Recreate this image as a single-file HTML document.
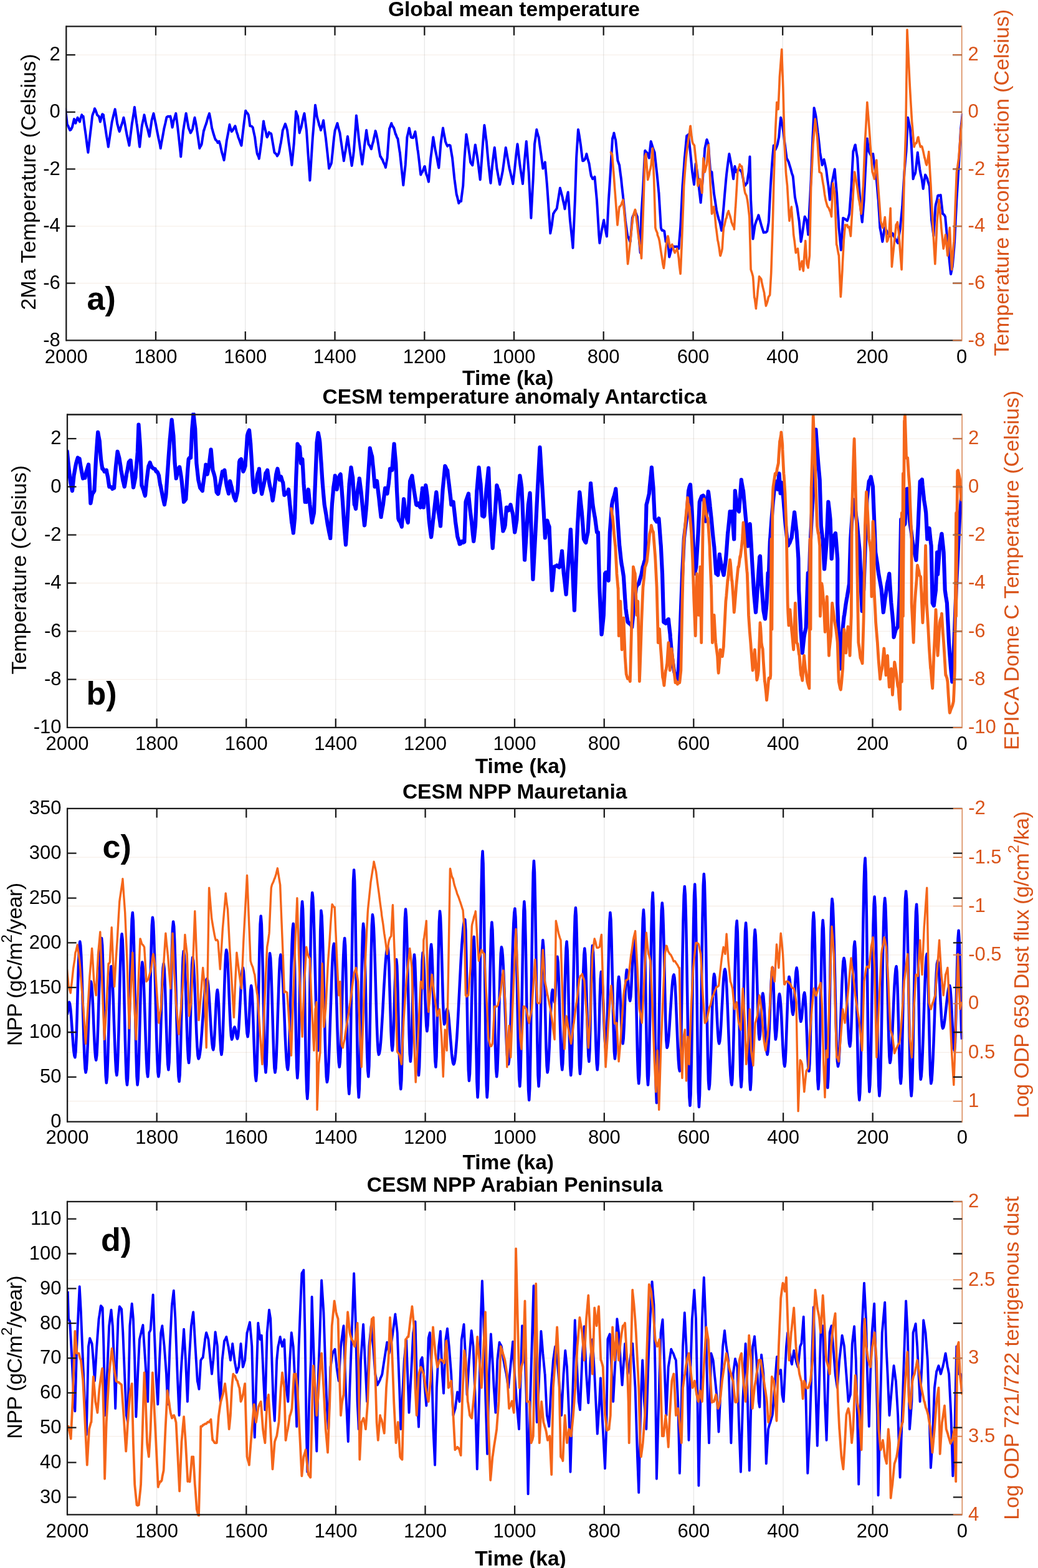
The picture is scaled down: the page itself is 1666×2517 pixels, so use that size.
<!DOCTYPE html><html><head><meta charset="utf-8"><title>CESM figure</title>
<style>html,body{margin:0;padding:0;background:#fff;}svg{display:block;}text{font-family:'Liberation Sans', Arial, Helvetica, sans-serif;}</style></head><body>
<svg xmlns="http://www.w3.org/2000/svg" width="1666" height="2517" viewBox="0 0 1666 2517">
<rect width="1666" height="2517" fill="#fff"/>
<g><line x1="250.0" y1="42.3" x2="250.0" y2="546.4" stroke="#262626" stroke-opacity="0.11" stroke-width="1.3"/><line x1="393.8" y1="42.3" x2="393.8" y2="546.4" stroke="#262626" stroke-opacity="0.11" stroke-width="1.3"/><line x1="537.5" y1="42.3" x2="537.5" y2="546.4" stroke="#262626" stroke-opacity="0.11" stroke-width="1.3"/><line x1="681.3" y1="42.3" x2="681.3" y2="546.4" stroke="#262626" stroke-opacity="0.11" stroke-width="1.3"/><line x1="825.0" y1="42.3" x2="825.0" y2="546.4" stroke="#262626" stroke-opacity="0.11" stroke-width="1.3"/><line x1="968.7" y1="42.3" x2="968.7" y2="546.4" stroke="#262626" stroke-opacity="0.11" stroke-width="1.3"/><line x1="1112.5" y1="42.3" x2="1112.5" y2="546.4" stroke="#262626" stroke-opacity="0.11" stroke-width="1.3"/><line x1="1256.2" y1="42.3" x2="1256.2" y2="546.4" stroke="#262626" stroke-opacity="0.11" stroke-width="1.3"/><line x1="1400.0" y1="42.3" x2="1400.0" y2="546.4" stroke="#262626" stroke-opacity="0.11" stroke-width="1.3"/><line x1="106.3" y1="454.7" x2="1543.7" y2="454.7" stroke="#C89870" stroke-opacity="0.16" stroke-width="1.3"/><line x1="106.3" y1="363.1" x2="1543.7" y2="363.1" stroke="#C89870" stroke-opacity="0.16" stroke-width="1.3"/><line x1="106.3" y1="271.4" x2="1543.7" y2="271.4" stroke="#C89870" stroke-opacity="0.16" stroke-width="1.3"/><line x1="106.3" y1="179.8" x2="1543.7" y2="179.8" stroke="#C89870" stroke-opacity="0.16" stroke-width="1.3"/><line x1="106.3" y1="88.1" x2="1543.7" y2="88.1" stroke="#C89870" stroke-opacity="0.16" stroke-width="1.3"/></g>
<g clip-path="url(#clipa)">
<polyline fill="none" stroke="#0000FF" stroke-width="4.0" stroke-linejoin="round" points="104.9,173.2 104.9,173.2 107.1,192.9 107.8,200.0 109.3,201.9 111.5,207.2 112.3,209.0 113.7,208.3 115.7,204.5 115.9,204.0 118.1,194.7 119.0,191.1 120.3,194.9 121.3,197.8 122.5,193.9 124.6,188.8 124.7,189.5 126.9,193.5 128.0,195.5 129.1,190.8 131.3,184.4 131.3,185.3 133.5,187.1 133.6,186.6 135.7,202.8 137.9,218.1 140.1,236.0 141.4,244.8 142.3,236.7 144.5,217.5 146.7,199.4 148.1,186.6 148.9,183.4 151.1,177.9 151.9,174.3 153.3,176.8 155.5,182.9 155.9,184.4 157.7,186.2 158.6,186.6 159.9,191.3 160.9,195.5 162.1,190.7 163.8,184.4 164.3,183.3 166.0,184.4 166.5,188.8 168.7,202.9 170.9,217.6 173.1,230.4 173.8,235.8 175.3,225.8 177.5,210.6 179.4,197.8 179.7,195.6 181.9,186.3 184.1,177.6 184.6,175.4 186.3,185.4 188.4,200.0 188.5,199.3 190.7,208.3 191.7,211.2 192.9,207.8 195.1,200.0 195.1,200.9 197.3,193.5 198.4,188.8 199.5,193.7 201.7,205.5 201.8,206.7 203.9,217.8 206.1,227.6 207.4,233.6 208.3,226.3 210.5,209.4 211.9,197.8 212.7,193.4 214.9,179.7 215.9,172.1 217.1,181.2 219.3,197.5 219.7,200.0 221.5,213.2 223.7,232.4 224.2,235.8 225.9,219.2 227.5,204.5 228.1,200.5 230.3,190.6 231.5,184.4 232.5,189.0 234.2,197.8 234.7,200.0 236.9,207.0 239.1,216.2 239.8,219.0 241.3,208.7 243.2,195.5 243.5,193.1 245.7,185.0 246.5,182.1 247.9,189.2 250.1,199.2 251.0,204.5 252.3,211.1 254.5,222.4 256.7,232.0 257.7,238.1 258.9,230.6 261.1,219.2 263.3,206.7 263.3,206.5 265.5,197.4 267.3,188.8 267.7,188.0 269.9,186.7 272.1,187.3 273.4,186.6 274.3,190.4 276.5,204.1 276.7,204.5 278.7,193.9 279.0,193.3 280.9,186.8 282.3,182.1 283.1,188.2 285.3,205.0 285.7,209.0 287.5,225.1 289.7,245.9 290.2,251.5 291.9,232.8 294.1,209.8 294.2,209.0 296.3,195.7 298.5,182.6 298.7,182.1 300.7,194.4 302.5,204.5 302.9,205.9 305.1,211.2 305.8,213.4 307.3,210.9 309.2,206.7 309.5,204.4 311.7,192.5 312.5,188.8 313.9,195.4 315.9,206.7 316.1,208.7 318.3,223.9 320.4,238.1 320.5,237.3 322.7,233.8 323.7,231.3 324.9,223.1 327.1,209.0 327.1,210.1 329.3,202.9 330.4,200.0 331.5,196.7 333.7,188.5 335.9,182.5 336.0,182.1 338.1,192.9 340.3,206.7 340.5,206.7 342.5,214.2 344.7,221.2 346.1,224.6 346.9,224.9 349.1,227.9 349.4,229.1 351.3,227.7 351.7,226.9 353.5,232.7 355.7,243.1 357.9,250.7 359.5,257.1 360.1,253.6 362.3,237.8 364.0,224.6 364.5,222.4 366.7,210.7 368.5,200.0 368.9,202.3 371.1,209.3 371.8,211.2 373.3,209.5 375.5,205.5 377.4,202.3 377.7,202.9 379.9,211.8 381.9,217.9 382.1,219.6 384.3,225.0 386.5,231.4 387.5,233.6 388.7,222.2 390.8,204.5 390.9,203.5 393.1,186.2 394.2,177.7 395.3,179.8 397.5,182.1 398.7,184.4 399.7,190.2 401.3,202.3 401.9,202.1 404.1,202.8 405.7,204.5 406.3,207.3 408.5,217.6 409.1,220.2 410.7,233.3 412.4,244.8 412.9,247.1 415.1,251.9 415.8,254.8 417.3,244.5 419.1,231.3 419.5,228.5 421.7,206.1 423.0,194.4 423.9,200.1 425.9,209.0 426.1,209.3 428.3,219.3 428.8,220.2 430.5,216.8 431.9,212.3 432.7,213.9 434.9,214.3 435.5,215.7 437.1,225.3 439.3,238.1 440.4,244.8 441.5,245.8 443.7,247.8 444.9,250.4 445.9,248.8 447.1,247.0 448.1,243.5 450.3,231.1 450.5,231.3 452.5,218.8 453.8,209.0 454.7,207.1 456.9,201.2 457.9,198.9 459.1,202.3 461.0,209.0 461.3,211.2 463.5,228.6 463.9,231.3 465.7,243.8 467.9,261.0 468.4,264.9 470.1,247.9 471.7,231.3 472.3,221.9 474.5,188.2 475.1,178.8 476.7,183.8 478.0,186.6 478.9,196.5 480.7,213.4 481.1,211.4 483.3,204.7 483.4,204.5 485.5,194.3 487.7,184.7 488.5,182.1 489.9,192.7 491.9,209.0 492.1,211.4 494.3,244.2 496.5,276.0 497.4,289.5 498.7,270.1 500.9,235.2 501.9,220.2 503.1,206.0 505.3,178.2 506.0,168.7 507.5,177.9 508.6,186.6 509.7,190.7 511.9,198.6 512.0,200.0 514.1,205.6 514.9,209.0 516.3,204.4 518.5,196.4 519.1,193.3 520.7,205.9 522.9,221.8 523.2,224.6 525.1,241.9 527.3,262.2 528.1,270.5 529.5,267.5 531.7,262.4 532.1,260.4 533.9,243.3 535.0,231.3 536.1,221.0 537.7,209.0 538.3,207.6 540.5,200.8 541.5,197.8 542.7,203.6 544.9,211.2 545.5,213.4 547.1,225.1 549.3,239.7 551.5,254.9 551.8,258.2 553.7,246.1 554.5,242.5 555.9,232.3 557.9,219.0 558.1,219.8 560.3,236.0 561.2,242.5 562.5,251.0 564.6,266.0 564.7,265.6 566.9,250.8 567.9,242.5 569.1,226.3 571.3,195.0 571.9,185.5 573.5,199.5 575.7,220.2 575.7,220.8 577.9,238.1 580.1,254.0 581.3,263.8 582.3,256.1 584.5,238.2 584.7,235.8 586.7,220.0 588.1,209.0 588.9,215.4 591.1,228.9 591.4,231.3 593.3,233.9 595.5,238.5 595.9,239.2 597.7,231.6 599.2,226.9 599.9,222.7 602.1,213.1 602.6,210.1 604.3,216.3 606.0,224.6 606.5,227.7 608.7,242.0 610.4,251.5 610.9,251.2 613.1,255.5 613.8,256.0 615.3,260.4 617.5,264.5 618.9,268.9 619.7,264.5 621.6,253.7 621.9,248.8 624.1,218.1 625.0,206.7 626.3,203.4 628.3,197.8 628.5,199.3 630.7,203.7 631.7,204.5 632.9,208.0 635.0,215.7 635.1,215.0 637.3,221.2 638.4,222.4 639.5,230.0 641.7,244.8 641.7,243.7 643.9,264.8 646.1,285.3 647.3,297.3 648.3,286.7 650.5,266.8 650.7,264.9 652.7,232.6 653.4,220.2 654.9,214.0 656.7,205.6 657.1,207.1 659.3,218.0 659.6,220.2 661.5,221.1 663.0,221.3 663.7,219.5 665.9,213.3 666.4,211.2 668.1,222.6 670.3,240.1 670.8,242.5 672.5,256.4 674.7,276.0 675.3,280.6 676.9,277.0 677.9,276.1 679.1,273.3 681.3,267.2 681.7,267.1 683.5,276.6 684.6,280.6 685.7,283.1 687.9,291.8 688.0,291.7 690.1,266.6 691.3,253.7 692.3,245.9 694.5,227.3 695.3,220.2 696.7,228.5 698.9,242.3 699.1,242.5 701.1,252.4 703.3,265.1 704.3,269.4 705.5,255.7 707.4,231.3 707.7,228.3 709.9,213.1 711.0,205.6 712.1,212.5 714.3,223.2 714.8,226.9 716.5,231.3 718.2,234.7 718.7,233.5 720.9,232.8 722.6,233.6 723.1,236.4 725.3,249.7 726.0,253.7 727.5,268.3 729.4,287.3 729.7,289.2 731.9,305.7 732.7,311.9 734.1,316.9 736.1,325.3 736.3,326.2 738.5,322.8 740.1,323.1 740.7,317.3 742.9,300.4 743.2,298.5 745.1,260.6 745.5,253.7 747.3,231.0 748.4,215.7 749.5,222.0 751.7,235.8 751.7,236.2 753.9,250.7 755.1,260.4 756.1,262.3 758.3,265.4 758.4,264.9 760.5,248.8 762.7,232.9 762.9,232.5 764.9,245.0 766.3,253.7 767.1,259.2 769.3,277.6 770.7,288.4 771.5,278.3 773.7,249.1 774.1,242.5 775.9,219.6 777.4,201.1 778.1,205.6 780.3,223.9 780.8,226.9 782.5,246.6 784.2,264.9 784.7,269.1 786.9,289.3 787.5,294.0 789.1,276.6 790.2,264.9 791.3,255.6 793.5,238.4 793.8,236.9 795.7,253.7 797.6,271.6 797.9,272.8 800.1,284.9 802.1,296.2 802.3,295.4 804.5,286.1 806.5,276.1 806.7,275.6 808.9,259.2 811.1,242.4 811.7,236.9 813.3,245.6 815.5,258.2 816.6,264.9 817.7,270.6 819.9,279.8 822.1,289.3 823.3,295.1 824.3,286.9 826.5,267.3 826.7,264.9 828.7,246.0 830.5,231.3 830.9,233.6 833.1,253.5 834.5,264.9 835.3,270.7 837.5,285.2 839.0,295.1 839.7,285.6 841.9,257.9 842.3,253.7 844.1,234.3 844.8,226.9 846.3,245.6 848.5,275.1 848.6,276.1 850.7,316.8 852.4,349.9 852.9,340.0 855.1,298.0 855.7,287.3 857.3,248.6 858.0,231.3 859.5,221.4 861.3,207.9 861.7,210.3 863.9,218.1 864.7,220.2 866.1,231.2 868.3,246.6 869.2,253.7 870.5,263.7 871.4,270.5 872.7,266.6 874.8,260.4 874.9,262.0 877.1,286.6 878.1,298.5 879.3,315.4 880.4,332.0 881.5,348.8 883.3,374.5 883.7,372.2 885.9,360.3 886.0,358.9 888.1,342.8 888.2,343.2 890.3,339.3 892.5,336.6 893.8,334.3 894.7,328.1 896.9,314.4 898.9,301.8 899.1,302.8 901.3,311.0 902.7,316.4 903.5,320.8 905.7,330.3 906.5,335.4 907.9,327.2 910.1,315.7 911.7,308.5 912.3,316.1 914.5,348.2 915.0,354.4 916.7,370.1 918.9,391.4 919.5,398.0 921.1,362.5 922.9,320.8 923.3,309.4 925.1,253.7 925.5,246.5 927.7,212.5 928.0,207.9 929.9,218.7 931.8,231.3 932.1,233.5 934.3,252.0 935.2,258.2 936.5,258.0 938.5,256.0 938.7,255.9 940.9,249.7 941.4,247.0 943.1,254.2 945.3,261.6 945.6,262.7 947.5,275.2 948.9,282.8 949.7,283.8 951.2,287.3 951.9,285.8 954.1,284.7 954.5,283.9 956.3,303.7 957.9,320.8 958.5,330.1 960.7,366.9 961.3,376.8 962.4,390.2 962.9,386.6 965.1,374.0 965.7,370.0 967.3,362.4 969.1,353.3 969.5,356.4 971.3,365.6 971.7,368.6 973.9,379.5 974.0,379.0 976.1,336.6 976.9,320.8 978.3,300.0 979.8,276.1 980.5,263.4 982.7,228.0 983.0,222.4 984.9,216.4 985.4,213.4 987.1,221.3 988.1,224.6 989.3,236.3 991.5,258.2 991.5,257.7 993.7,264.0 994.1,264.9 995.9,279.4 997.0,287.3 998.1,298.4 1000.3,318.0 1000.4,318.6 1002.5,340.8 1003.8,354.4 1004.7,361.3 1006.9,376.7 1007.1,379.0 1009.1,381.8 1011.3,388.2 1011.6,387.9 1013.5,366.0 1014.9,349.9 1015.7,347.4 1017.9,343.0 1019.4,338.7 1020.1,340.8 1022.3,346.4 1022.8,347.7 1024.5,368.3 1026.1,387.9 1026.7,394.9 1027.7,405.8 1028.9,363.7 1029.5,343.2 1031.1,318.5 1031.7,309.6 1033.3,278.8 1035.1,242.5 1035.5,241.8 1037.7,245.4 1038.4,244.8 1039.9,247.8 1041.8,253.7 1042.1,250.3 1044.3,230.7 1044.7,226.9 1046.5,232.9 1047.4,235.8 1048.7,239.8 1050.7,244.8 1050.9,247.0 1053.1,267.2 1054.1,276.1 1055.3,287.7 1057.4,309.6 1057.5,310.3 1059.7,346.6 1060.8,365.6 1061.9,368.9 1063.0,370.0 1064.1,369.8 1066.3,371.0 1066.4,372.3 1068.5,387.2 1068.6,387.9 1070.7,388.1 1072.0,387.9 1072.9,398.9 1074.2,412.6 1075.1,409.4 1077.3,400.8 1077.6,399.1 1079.5,397.6 1080.9,396.9 1081.7,395.6 1083.9,396.1 1085.4,395.8 1086.1,395.8 1088.3,397.7 1089.4,399.1 1090.5,384.4 1092.1,365.6 1092.7,354.8 1094.9,309.9 1095.5,298.5 1097.1,277.5 1098.8,253.7 1099.3,248.9 1101.5,225.0 1102.2,217.9 1103.7,217.3 1105.1,215.7 1105.9,224.6 1107.8,242.5 1108.1,245.6 1110.3,268.7 1111.1,276.1 1112.5,285.9 1114.0,296.2 1114.7,286.6 1116.7,262.7 1116.9,262.7 1119.0,276.1 1119.1,276.7 1121.3,296.4 1122.3,305.2 1123.5,315.3 1124.6,325.3 1125.7,312.8 1127.9,287.3 1127.9,287.0 1130.1,255.9 1131.3,238.1 1132.3,233.8 1134.2,224.6 1134.5,224.2 1136.7,230.4 1136.9,231.3 1138.9,258.6 1140.2,276.1 1141.1,276.1 1142.5,276.1 1143.3,285.2 1145.5,305.4 1145.8,309.6 1147.7,321.6 1149.9,336.5 1150.3,338.7 1152.1,346.2 1153.6,352.1 1154.3,353.5 1155.9,358.9 1156.5,362.4 1158.1,370.0 1158.7,362.1 1160.9,338.4 1161.5,332.0 1163.1,312.6 1165.3,287.7 1166.0,280.6 1167.5,268.0 1169.7,251.7 1170.4,247.0 1171.9,254.9 1173.8,264.9 1174.1,266.4 1176.3,281.9 1177.1,287.3 1178.5,274.3 1179.4,267.1 1180.7,272.4 1181.6,276.1 1182.9,273.7 1185.1,272.7 1186.1,271.6 1187.3,272.8 1189.5,274.9 1190.6,276.1 1191.7,281.6 1193.9,292.8 1195.0,298.5 1196.1,297.6 1198.3,294.1 1199.1,294.0 1200.5,283.3 1201.7,276.1 1202.7,263.6 1203.5,251.5 1204.9,311.2 1205.1,320.8 1207.1,356.9 1208.5,383.5 1209.3,378.2 1211.5,362.8 1211.8,361.1 1213.7,355.1 1215.9,350.0 1217.4,345.4 1218.1,347.7 1220.3,355.6 1222.5,363.7 1224.7,370.4 1225.6,373.4 1226.9,372.8 1229.1,373.1 1231.2,371.2 1231.3,371.0 1233.5,358.0 1233.9,354.4 1235.7,318.7 1236.8,298.5 1237.9,281.1 1239.0,264.9 1240.1,251.1 1241.7,233.6 1242.3,235.7 1244.5,239.2 1244.6,240.3 1246.7,235.3 1248.0,231.3 1248.9,226.3 1250.2,220.2 1251.1,209.4 1253.1,188.8 1253.3,189.5 1255.5,199.3 1255.8,200.0 1257.7,214.8 1259.1,226.9 1259.9,233.1 1262.1,250.1 1262.5,253.7 1264.3,257.2 1265.9,260.4 1266.5,262.6 1268.7,269.8 1269.2,271.6 1270.9,278.1 1272.6,282.8 1273.1,286.8 1275.3,310.4 1275.9,316.4 1277.5,324.4 1279.3,332.0 1279.7,334.4 1281.9,350.2 1282.6,354.4 1284.1,371.5 1285.5,387.9 1286.3,384.1 1288.2,372.3 1288.5,369.4 1290.7,354.2 1291.6,347.7 1292.9,350.1 1294.9,354.4 1295.1,356.9 1297.2,376.8 1297.3,374.0 1299.4,332.0 1299.5,330.3 1301.7,287.3 1301.7,286.7 1303.9,231.3 1303.9,232.0 1306.1,184.7 1306.6,173.2 1308.3,180.5 1309.5,186.6 1310.5,194.4 1312.7,213.0 1312.8,213.4 1314.9,231.8 1316.2,244.8 1317.1,250.1 1319.3,262.8 1319.6,264.9 1321.5,258.8 1322.5,256.0 1323.7,261.0 1325.9,271.4 1326.3,273.8 1328.1,288.4 1329.6,298.5 1330.3,305.0 1331.9,320.8 1332.5,316.4 1334.7,297.9 1335.2,294.0 1336.9,285.4 1339.1,274.3 1339.7,271.6 1341.3,290.7 1343.0,309.6 1343.5,318.0 1345.7,353.0 1346.4,365.6 1347.9,380.9 1349.8,401.4 1350.1,396.1 1352.3,363.2 1353.1,349.9 1354.5,350.8 1356.5,352.1 1356.7,351.7 1358.9,353.8 1359.8,354.4 1361.1,351.3 1363.2,343.2 1363.3,341.9 1365.5,312.8 1366.5,298.5 1367.7,274.7 1369.4,242.5 1369.9,241.8 1372.1,233.8 1372.8,232.5 1374.3,242.7 1376.2,253.7 1376.5,258.9 1378.7,296.4 1378.8,298.5 1380.9,329.3 1381.1,332.0 1383.1,351.2 1383.8,356.6 1385.3,338.7 1386.7,320.8 1387.5,304.9 1388.9,276.1 1389.7,261.1 1391.8,222.4 1391.9,223.5 1394.1,239.2 1394.5,242.5 1396.3,246.7 1397.9,249.2 1398.5,249.1 1400.7,247.7 1401.2,247.0 1402.9,260.5 1403.4,264.9 1405.1,275.6 1406.8,287.3 1407.3,293.5 1409.5,319.3 1409.7,320.8 1411.7,353.1 1412.4,365.6 1413.9,373.1 1416.1,386.7 1416.4,387.9 1418.3,376.3 1419.8,365.6 1420.5,367.8 1422.7,369.9 1423.6,372.3 1424.9,375.2 1427.1,377.0 1428.1,379.0 1429.3,377.5 1431.5,375.3 1432.5,374.5 1433.7,377.8 1435.9,381.0 1437.0,383.5 1438.1,385.1 1440.3,389.1 1441.0,390.2 1442.5,380.3 1444.7,367.2 1444.8,365.6 1446.9,345.0 1448.2,332.0 1449.1,316.5 1451.3,280.0 1451.5,276.1 1453.5,253.4 1454.5,242.5 1455.7,217.2 1457.1,188.8 1457.9,192.3 1460.1,203.2 1460.5,204.5 1462.3,225.6 1462.7,231.3 1464.5,265.4 1465.6,287.3 1466.7,283.0 1468.9,278.3 1469.4,276.1 1471.1,261.4 1472.8,244.8 1473.3,249.3 1475.5,265.7 1476.2,271.6 1477.7,279.8 1479.5,287.3 1479.9,289.9 1481.7,302.9 1482.1,299.9 1484.3,285.3 1485.1,280.6 1486.5,283.0 1488.5,287.3 1488.7,289.1 1490.9,296.0 1491.8,298.5 1493.1,320.9 1495.2,354.4 1495.3,354.4 1497.5,371.7 1498.5,379.0 1499.7,358.7 1501.4,332.0 1501.9,328.6 1504.1,319.9 1505.2,314.1 1506.3,313.4 1508.5,314.2 1509.7,313.0 1510.7,322.5 1512.9,341.4 1513.1,343.2 1515.1,344.4 1517.1,347.7 1517.3,349.7 1519.5,373.6 1519.8,376.8 1521.7,395.7 1523.1,410.3 1523.9,419.2 1526.0,439.4 1526.1,440.0 1528.3,429.6 1528.7,428.2 1530.5,407.5 1532.1,387.9 1532.7,375.6 1534.9,330.3 1535.4,320.8 1537.1,293.1 1538.8,264.9 1539.3,256.4 1541.5,217.8 1542.1,206.7 1543.7,192.8 1544.8,182.1"/>
<polyline fill="none" stroke="#F5661A" stroke-width="3.6" stroke-linejoin="round" points="980.3,244.8 980.3,244.6 982.5,249.2 982.5,247.7 984.7,276.1 984.7,275.0 986.9,305.1 988.1,320.8 989.1,334.6 991.0,361.1 991.3,358.6 993.5,336.4 994.1,332.0 995.7,330.9 997.7,327.5 997.9,326.0 1000.0,320.8 1000.1,321.9 1002.2,343.2 1002.3,345.2 1004.5,369.3 1004.9,376.8 1006.7,410.0 1007.6,423.7 1008.9,413.9 1010.5,399.1 1011.1,393.8 1012.7,376.8 1013.3,371.3 1015.5,351.0 1016.1,347.7 1017.7,341.5 1019.4,336.5 1019.9,337.8 1022.1,356.1 1022.8,361.1 1024.3,375.3 1026.1,387.9 1026.5,391.8 1028.7,406.0 1029.5,414.8 1030.9,378.5 1032.2,343.2 1033.1,316.5 1035.1,253.7 1035.3,251.0 1036.6,247.0 1037.5,259.0 1039.6,287.3 1039.7,288.5 1041.9,280.8 1042.5,276.1 1044.1,270.2 1045.1,264.9 1046.3,251.7 1047.4,238.1 1048.5,261.6 1049.6,287.3 1050.7,323.7 1051.9,365.6 1052.9,369.3 1055.1,374.2 1055.2,376.8 1057.3,382.1 1058.6,387.9 1059.5,394.2 1061.7,409.4 1061.9,410.3 1063.9,424.2 1065.3,430.4 1066.1,424.7 1068.3,402.9 1068.6,399.1 1070.5,385.4 1072.0,379.0 1072.7,381.7 1074.9,395.9 1075.3,396.9 1077.1,395.2 1078.7,392.4 1079.3,394.2 1081.5,402.0 1083.2,405.8 1083.7,402.9 1085.9,402.4 1086.5,399.1 1088.1,405.7 1089.4,414.8 1090.3,425.3 1092.1,439.4 1092.5,432.9 1094.4,387.9 1094.7,379.0 1096.9,322.3 1097.7,298.5 1099.1,279.2 1101.1,253.7 1101.3,251.9 1103.5,233.7 1105.5,220.2 1105.7,221.2 1107.9,202.7 1108.2,202.3 1110.1,220.1 1111.1,226.9 1112.3,230.6 1114.5,233.6 1114.5,233.9 1116.7,255.3 1117.9,264.9 1118.9,280.6 1120.1,298.5 1121.1,293.2 1123.3,287.9 1123.4,287.3 1125.5,302.1 1126.8,309.6 1127.7,287.1 1129.0,253.7 1129.9,260.2 1131.3,276.1 1132.1,273.0 1134.2,264.9 1134.3,265.6 1136.5,240.4 1137.3,232.5 1138.7,264.1 1140.2,298.5 1140.9,310.2 1142.5,343.2 1143.1,342.3 1145.3,332.0 1145.8,332.0 1147.5,346.6 1149.2,365.6 1149.7,367.9 1151.9,385.8 1152.5,387.9 1154.1,397.0 1155.9,410.3 1156.3,410.5 1158.5,402.7 1159.2,399.1 1160.7,374.9 1161.5,365.6 1162.9,360.9 1165.1,351.1 1166.0,349.9 1167.3,343.4 1169.3,338.7 1169.5,340.2 1171.7,346.5 1173.8,354.4 1173.9,356.0 1176.1,361.6 1178.3,365.6 1178.3,368.1 1180.5,332.0 1180.5,334.0 1182.7,296.8 1183.8,276.1 1184.9,271.7 1187.1,265.6 1187.2,263.8 1189.3,266.9 1190.6,267.1 1191.5,273.5 1193.7,296.4 1195.0,305.2 1195.9,309.9 1198.1,314.1 1199.5,320.8 1200.3,326.4 1202.5,345.2 1202.9,349.9 1204.7,417.8 1205.1,432.7 1206.9,438.0 1208.5,443.9 1209.1,451.1 1210.7,477.4 1211.3,479.1 1213.4,495.3 1213.5,493.1 1215.7,473.2 1216.3,466.2 1217.9,451.6 1218.5,443.9 1220.1,445.8 1221.9,448.3 1222.3,451.6 1224.5,461.6 1226.7,470.7 1226.7,471.8 1228.9,487.9 1229.4,490.9 1231.1,486.2 1232.3,481.9 1233.3,477.1 1235.5,473.8 1235.7,473.0 1237.7,438.6 1237.9,432.7 1239.9,371.4 1240.1,365.6 1242.1,285.4 1242.4,276.1 1244.3,218.1 1244.6,209.0 1246.5,170.7 1246.8,164.2 1248.7,173.7 1249.1,175.4 1250.9,135.5 1251.3,124.0 1253.1,100.8 1254.7,79.2 1255.3,98.8 1256.9,141.9 1257.5,164.8 1259.1,231.3 1259.7,242.4 1261.4,276.1 1261.9,282.3 1263.6,298.5 1264.1,307.6 1266.3,344.8 1267.0,354.4 1268.5,342.3 1270.3,332.0 1270.7,338.9 1272.9,364.9 1273.7,376.8 1275.1,386.4 1277.0,403.6 1277.3,405.7 1279.5,401.0 1280.4,399.1 1281.7,411.2 1283.8,432.7 1283.9,430.0 1286.1,423.9 1287.1,419.3 1288.3,429.3 1289.4,434.9 1290.5,416.9 1292.7,387.9 1292.7,386.6 1294.9,421.5 1294.9,423.3 1297.1,429.9 1297.2,428.2 1299.3,411.0 1299.4,410.3 1301.5,307.1 1301.7,298.5 1303.7,259.4 1305.0,231.3 1305.9,220.5 1308.1,196.2 1308.4,191.1 1310.3,208.4 1311.7,220.2 1312.5,233.0 1314.7,268.9 1315.1,276.1 1316.9,277.0 1318.4,278.3 1319.1,283.0 1321.3,296.4 1321.8,298.5 1323.5,311.6 1325.1,320.8 1325.7,323.1 1327.9,330.7 1328.5,332.0 1330.1,333.7 1331.9,338.7 1332.3,338.3 1334.5,347.7 1334.5,345.3 1336.7,297.2 1336.8,294.0 1338.9,306.0 1339.7,309.6 1341.1,347.4 1342.6,392.4 1343.3,394.3 1345.5,406.8 1346.4,410.3 1347.7,440.3 1349.3,476.3 1349.9,469.1 1352.0,432.7 1352.1,428.3 1354.2,387.9 1354.3,385.4 1356.5,361.1 1356.5,361.9 1358.7,361.6 1359.8,361.1 1360.9,364.9 1363.1,364.1 1363.2,365.6 1365.3,378.1 1365.4,379.0 1367.5,342.5 1368.8,320.8 1369.7,304.4 1371.7,276.1 1371.9,277.0 1374.1,289.4 1375.5,298.5 1376.3,303.8 1378.5,320.8 1378.8,320.8 1380.7,332.5 1382.2,343.2 1382.9,335.7 1385.1,302.7 1385.5,298.5 1387.3,253.4 1388.2,231.3 1389.5,208.9 1391.7,168.1 1391.8,164.2 1393.9,190.4 1394.5,197.8 1396.1,219.7 1396.7,231.3 1398.3,251.1 1400.1,276.1 1400.5,277.0 1402.7,284.1 1403.4,287.3 1404.9,272.8 1406.8,257.1 1407.1,264.2 1409.3,296.4 1410.2,309.6 1411.5,326.1 1413.5,354.4 1413.7,355.7 1415.9,363.7 1416.9,365.6 1418.1,360.5 1420.2,349.9 1420.3,348.6 1422.5,375.7 1423.6,387.9 1424.7,386.0 1426.9,376.8 1426.9,375.0 1429.1,338.1 1429.2,334.3 1431.3,422.2 1431.4,428.2 1433.5,406.5 1434.3,399.1 1435.7,385.9 1437.9,364.8 1438.1,361.1 1440.1,357.8 1440.4,356.6 1442.3,372.3 1443.7,387.9 1444.5,399.9 1446.7,427.8 1447.1,432.7 1448.9,379.7 1449.3,365.6 1451.1,292.3 1451.5,276.1 1453.3,225.1 1453.8,209.0 1455.5,84.9 1456.0,47.9 1457.7,83.0 1458.3,97.1 1459.9,130.1 1460.5,141.9 1462.1,169.4 1463.8,197.8 1464.3,202.1 1466.5,229.3 1467.2,235.8 1468.7,230.8 1470.6,229.1 1470.9,229.9 1473.1,220.8 1473.9,220.2 1475.3,227.9 1477.3,235.8 1477.5,234.2 1479.7,235.1 1480.6,238.1 1481.9,243.5 1484.0,253.7 1484.1,252.9 1486.3,262.8 1487.3,264.9 1488.5,259.9 1490.7,244.8 1490.7,243.5 1492.9,280.1 1494.0,298.5 1495.1,321.3 1497.3,363.0 1497.4,365.6 1499.5,401.7 1500.8,423.7 1501.7,406.8 1503.9,358.8 1504.1,354.4 1506.1,331.3 1507.0,320.8 1508.3,334.5 1510.5,360.5 1510.8,365.6 1512.7,383.9 1514.2,399.1 1514.9,395.7 1517.1,379.6 1517.5,376.8 1519.3,393.9 1520.9,410.3 1521.5,402.6 1523.7,371.0 1524.3,365.6 1525.9,398.7 1527.6,432.7 1528.1,426.0 1530.3,395.9 1531.0,387.9 1532.5,352.2 1533.2,332.0 1534.7,294.5 1535.4,276.1 1536.9,267.5 1538.8,253.7 1539.1,249.2 1541.3,221.3 1542.1,209.0 1543.5,198.7 1544.8,186.6"/>
</g>
<clipPath id="clipa"><rect x="105.3" y="39.3" width="1439.4" height="510.1"/></clipPath>
<g><path d="M106.3 42.3H1543.7" stroke="#1a1a1a" stroke-width="2.3" fill="none"/><path d="M106.3 546.4H1543.7" stroke="#1a1a1a" stroke-width="2.3" fill="none"/><path d="M106.3 42.3V546.4" stroke="#1a1a1a" stroke-width="2.3" fill="none" stroke-linecap="square"/><path d="M1543.7 41.3V547.4" stroke="#D98A5A" stroke-width="1.6" fill="none"/><path d="M250.0 42.3v14.5M250.0 546.4v-14.5" stroke="#1a1a1a" stroke-width="2.3"/><path d="M393.8 42.3v14.5M393.8 546.4v-14.5" stroke="#1a1a1a" stroke-width="2.3"/><path d="M537.5 42.3v14.5M537.5 546.4v-14.5" stroke="#1a1a1a" stroke-width="2.3"/><path d="M681.3 42.3v14.5M681.3 546.4v-14.5" stroke="#1a1a1a" stroke-width="2.3"/><path d="M825.0 42.3v14.5M825.0 546.4v-14.5" stroke="#1a1a1a" stroke-width="2.3"/><path d="M968.7 42.3v14.5M968.7 546.4v-14.5" stroke="#1a1a1a" stroke-width="2.3"/><path d="M1112.5 42.3v14.5M1112.5 546.4v-14.5" stroke="#1a1a1a" stroke-width="2.3"/><path d="M1256.2 42.3v14.5M1256.2 546.4v-14.5" stroke="#1a1a1a" stroke-width="2.3"/><path d="M1400.0 42.3v14.5M1400.0 546.4v-14.5" stroke="#1a1a1a" stroke-width="2.3"/><path d="M106.3 454.7h14.5M1543.7 454.7h-14.5" stroke="#1a1a1a" stroke-width="2.3"/><path d="M106.3 363.1h14.5M1543.7 363.1h-14.5" stroke="#1a1a1a" stroke-width="2.3"/><path d="M106.3 271.4h14.5M1543.7 271.4h-14.5" stroke="#1a1a1a" stroke-width="2.3"/><path d="M106.3 179.8h14.5M1543.7 179.8h-14.5" stroke="#1a1a1a" stroke-width="2.3"/><path d="M106.3 88.1h14.5M1543.7 88.1h-14.5" stroke="#1a1a1a" stroke-width="2.3"/><path d="M1543.7 546.4h-14.5" stroke="#DD7A45" stroke-width="1.8"/><path d="M1543.7 454.7h-14.5" stroke="#DD7A45" stroke-width="1.8"/><path d="M1543.7 363.1h-14.5" stroke="#DD7A45" stroke-width="1.8"/><path d="M1543.7 271.4h-14.5" stroke="#DD7A45" stroke-width="1.8"/><path d="M1543.7 179.8h-14.5" stroke="#DD7A45" stroke-width="1.8"/><path d="M1543.7 88.1h-14.5" stroke="#DD7A45" stroke-width="1.8"/></g>
<g font-size="31" fill="#000"><text x="106.3" y="582.8" text-anchor="middle">2000</text><text x="250.0" y="582.8" text-anchor="middle">1800</text><text x="393.8" y="582.8" text-anchor="middle">1600</text><text x="537.5" y="582.8" text-anchor="middle">1400</text><text x="681.3" y="582.8" text-anchor="middle">1200</text><text x="825.0" y="582.8" text-anchor="middle">1000</text><text x="968.7" y="582.8" text-anchor="middle">800</text><text x="1112.5" y="582.8" text-anchor="middle">600</text><text x="1256.2" y="582.8" text-anchor="middle">400</text><text x="1400.0" y="582.8" text-anchor="middle">200</text><text x="1543.7" y="582.8" text-anchor="middle">0</text><text x="96.8" y="555.7" text-anchor="end">-8</text><text x="96.8" y="464.0" text-anchor="end">-6</text><text x="96.8" y="372.4" text-anchor="end">-4</text><text x="96.8" y="280.7" text-anchor="end">-2</text><text x="96.8" y="189.1" text-anchor="end">0</text><text x="96.8" y="97.4" text-anchor="end">2</text></g>
<g font-size="31" fill="#D95319"><text x="1553.6" y="555.7">-8</text><text x="1553.6" y="464.0">-6</text><text x="1553.6" y="372.4">-4</text><text x="1553.6" y="280.7">-2</text><text x="1553.5" y="189.1">0</text><text x="1553.5" y="97.4">2</text></g>
<text x="825.0" y="25.8" text-anchor="middle" font-size="33.5" font-weight="bold" fill="#000">Global mean temperature</text>
<text x="815.3" y="618.0" text-anchor="middle" font-size="33.5" font-weight="bold" fill="#000">Time (ka)</text>
<text transform="translate(56.8 497.8) rotate(-90)" font-size="34" fill="#000" textLength="411.3" lengthAdjust="spacing">2Ma Temperature (Celsius)</text>
<text transform="translate(1618.5 571.6) rotate(-90)" font-size="34" fill="#D95319" textLength="556.8" lengthAdjust="spacing">Temperature reconstruction (Celsius)</text>
<text x="139.5" y="496.5" font-size="52" font-weight="bold" fill="#000">a)</text>
<g><line x1="251.6" y1="665.5" x2="251.6" y2="1167.9" stroke="#262626" stroke-opacity="0.11" stroke-width="1.3"/><line x1="395.2" y1="665.5" x2="395.2" y2="1167.9" stroke="#262626" stroke-opacity="0.11" stroke-width="1.3"/><line x1="538.8" y1="665.5" x2="538.8" y2="1167.9" stroke="#262626" stroke-opacity="0.11" stroke-width="1.3"/><line x1="682.4" y1="665.5" x2="682.4" y2="1167.9" stroke="#262626" stroke-opacity="0.11" stroke-width="1.3"/><line x1="826.0" y1="665.5" x2="826.0" y2="1167.9" stroke="#262626" stroke-opacity="0.11" stroke-width="1.3"/><line x1="969.7" y1="665.5" x2="969.7" y2="1167.9" stroke="#262626" stroke-opacity="0.11" stroke-width="1.3"/><line x1="1113.3" y1="665.5" x2="1113.3" y2="1167.9" stroke="#262626" stroke-opacity="0.11" stroke-width="1.3"/><line x1="1256.9" y1="665.5" x2="1256.9" y2="1167.9" stroke="#262626" stroke-opacity="0.11" stroke-width="1.3"/><line x1="1400.5" y1="665.5" x2="1400.5" y2="1167.9" stroke="#262626" stroke-opacity="0.11" stroke-width="1.3"/><line x1="108.0" y1="1090.6" x2="1544.1" y2="1090.6" stroke="#C89870" stroke-opacity="0.16" stroke-width="1.3"/><line x1="108.0" y1="1013.3" x2="1544.1" y2="1013.3" stroke="#C89870" stroke-opacity="0.16" stroke-width="1.3"/><line x1="108.0" y1="936.0" x2="1544.1" y2="936.0" stroke="#C89870" stroke-opacity="0.16" stroke-width="1.3"/><line x1="108.0" y1="858.7" x2="1544.1" y2="858.7" stroke="#C89870" stroke-opacity="0.16" stroke-width="1.3"/><line x1="108.0" y1="781.4" x2="1544.1" y2="781.4" stroke="#C89870" stroke-opacity="0.16" stroke-width="1.3"/><line x1="108.0" y1="704.1" x2="1544.1" y2="704.1" stroke="#C89870" stroke-opacity="0.16" stroke-width="1.3"/></g>
<g clip-path="url(#clipb)">
<polyline fill="none" stroke="#0000FF" stroke-width="6.2" stroke-linejoin="round" points="107.8,725.9 107.8,724.7 110.0,748.1 110.0,747.5 112.2,767.1 113.3,774.7 114.4,780.0 116.0,787.9 116.6,782.9 118.8,761.4 118.8,762.2 121.0,749.6 122.2,743.6 123.2,740.0 124.8,734.8 125.4,735.7 127.6,736.3 127.7,737.0 129.8,750.4 131.0,756.9 132.0,762.3 133.2,768.0 134.2,765.9 136.4,767.1 136.6,765.8 138.6,756.7 139.4,754.7 140.8,749.8 142.1,745.8 143.0,761.3 143.9,776.9 145.2,803.5 145.4,807.9 147.4,796.7 148.3,792.4 149.6,790.9 151.4,787.9 151.8,779.5 154.0,737.5 154.3,732.6 156.2,705.8 157.2,693.8 158.4,700.8 159.8,708.2 160.6,720.0 162.0,737.0 162.8,742.7 164.3,752.5 165.0,752.1 167.2,756.1 167.6,756.9 169.4,756.0 170.9,754.7 171.6,759.3 173.1,765.8 173.8,771.0 175.3,781.3 176.0,781.2 178.2,781.8 179.8,783.5 180.4,784.8 182.6,782.3 183.1,783.5 184.8,761.8 186.0,748.1 187.0,739.2 188.6,724.8 189.2,727.1 191.3,734.8 191.4,735.2 193.6,749.1 194.2,754.7 195.8,762.4 197.5,772.4 198.0,773.7 199.7,781.3 200.2,779.2 202.4,765.8 203.0,761.4 204.6,754.3 206.4,743.6 206.8,741.8 209.0,739.2 209.7,739.2 211.2,754.3 211.9,761.4 213.4,775.9 214.1,782.4 215.6,775.2 217.4,765.8 217.8,760.0 220.0,736.4 220.8,725.9 222.2,689.5 222.5,681.6 224.4,708.3 225.2,721.5 226.6,758.8 227.4,779.1 228.8,782.6 230.7,787.9 231.0,789.9 232.9,795.7 233.2,794.3 235.4,771.6 235.6,770.2 237.6,753.9 238.5,748.1 239.8,745.2 240.7,742.5 242.0,746.3 244.0,750.3 244.2,750.2 246.4,752.2 247.4,752.5 248.6,752.7 250.8,757.0 251.8,756.9 253.0,758.4 255.1,763.6 255.2,765.1 257.3,779.1 257.4,778.1 259.6,789.4 260.6,794.6 261.8,800.6 264.0,810.1 264.0,809.2 266.2,796.5 266.6,792.4 268.4,765.3 269.5,750.3 270.6,733.4 272.8,703.7 272.8,704.9 275.0,680.0 275.7,673.8 277.2,688.5 278.4,699.3 279.4,719.7 280.6,743.6 281.6,754.2 282.8,768.0 283.8,763.1 286.0,752.9 286.1,752.5 288.2,749.7 288.3,750.3 290.4,762.8 291.7,772.4 292.6,781.7 294.8,803.1 295.0,805.7 297.0,803.1 298.3,801.2 299.2,787.4 300.5,765.8 301.4,752.6 302.7,737.0 303.6,735.4 305.8,733.7 306.1,734.8 308.0,694.5 308.3,688.2 310.2,667.6 310.5,663.9 312.4,681.3 313.2,688.2 314.6,722.8 315.4,743.6 316.8,756.5 318.3,770.2 319.0,773.3 321.2,783.2 321.6,783.5 323.4,785.9 324.9,787.9 325.6,781.0 327.1,770.2 327.8,765.3 330.0,750.0 330.4,745.8 332.2,758.6 332.7,761.4 334.4,753.4 336.0,743.6 336.6,737.6 338.6,721.5 338.8,723.4 341.0,748.7 341.5,754.7 343.2,759.9 344.8,765.8 345.4,770.1 347.6,789.9 347.7,790.2 349.8,793.0 350.4,792.4 352.0,783.0 353.7,774.7 354.2,772.4 356.4,760.4 357.0,756.9 358.6,756.7 360.4,754.7 360.8,758.2 363.0,774.6 363.7,779.1 365.2,785.5 367.0,792.4 367.4,787.6 369.2,772.4 369.6,774.1 371.8,782.3 372.5,785.7 374.0,791.2 375.9,799.0 376.2,799.0 378.1,803.5 378.4,801.5 380.6,792.2 381.4,787.9 382.8,762.8 384.1,741.4 385.0,738.6 386.9,737.0 387.2,737.3 389.4,750.6 390.3,756.9 391.6,754.2 393.6,748.1 393.8,744.4 396.0,713.8 396.9,699.3 398.2,694.7 400.0,690.5 400.4,694.4 402.2,712.6 402.6,719.7 404.4,748.1 404.8,756.8 406.1,779.1 407.0,784.8 407.7,790.2 409.2,788.9 409.9,787.9 411.4,774.9 413.2,761.4 413.6,760.0 415.8,754.2 415.9,752.5 418.0,779.1 418.1,779.1 420.2,792.9 420.3,792.4 422.4,782.3 423.2,779.1 424.6,772.0 426.5,759.1 426.8,759.8 429.0,755.1 429.2,754.7 431.2,768.9 432.1,774.7 433.4,781.0 435.0,787.9 435.6,790.1 437.6,803.5 437.8,802.7 440.0,788.4 440.3,785.7 442.2,770.0 443.2,761.4 444.4,756.1 445.4,752.5 446.6,758.2 448.7,770.2 448.8,769.4 450.9,765.8 451.0,765.1 453.2,772.6 454.2,774.7 455.4,786.3 456.4,794.6 457.6,792.9 459.8,792.4 459.8,791.3 462.0,789.3 463.1,785.7 464.2,798.2 465.3,810.1 466.4,820.4 468.2,838.9 468.6,840.6 470.8,854.4 470.8,855.4 473.0,832.4 473.1,832.3 475.2,768.9 475.3,765.8 477.4,715.8 477.5,712.6 479.6,716.8 480.8,717.0 481.8,727.6 483.0,743.6 484.0,740.1 485.3,737.0 486.2,752.0 487.5,776.9 488.4,788.2 489.7,805.7 490.6,804.3 491.9,805.7 492.8,799.5 494.8,785.7 495.0,786.4 497.2,807.8 497.4,810.1 499.4,828.0 500.8,838.9 501.6,834.1 503.8,824.2 504.1,821.2 506.0,773.6 506.3,765.8 508.2,719.3 508.5,710.4 510.4,696.2 510.7,694.9 512.6,704.5 513.4,710.4 514.8,732.8 515.6,743.6 517.0,765.8 517.8,776.9 519.2,793.4 520.7,810.1 521.4,814.2 523.6,827.0 524.0,830.0 525.8,841.9 527.4,850.0 528.0,853.3 530.2,863.3 530.2,864.0 532.4,818.9 532.9,810.1 534.6,790.5 535.1,783.5 536.8,772.2 537.8,763.6 539.0,773.0 540.6,785.7 541.2,782.5 543.4,769.3 544.0,765.8 545.6,762.6 546.6,761.4 547.8,775.7 549.5,799.0 550.0,805.9 552.2,839.8 552.4,843.3 554.4,867.7 555.0,874.4 556.6,849.9 557.7,832.3 558.8,812.0 560.6,776.9 561.0,773.4 563.2,753.5 563.5,750.3 565.4,762.8 566.1,765.8 567.6,791.3 568.8,810.1 569.8,811.7 571.0,816.8 572.0,807.7 573.9,787.9 574.2,786.1 576.4,771.7 576.8,768.0 578.6,782.1 579.4,787.9 580.8,802.1 582.7,821.2 583.0,824.7 585.0,843.3 585.2,842.8 587.4,820.6 588.3,810.1 589.6,787.7 590.9,765.8 591.8,751.6 593.8,719.3 594.0,721.0 596.2,729.3 597.2,732.6 598.4,745.6 599.4,754.7 600.6,769.6 601.6,781.3 602.8,777.5 604.9,772.4 605.0,772.0 607.2,791.1 608.2,799.0 609.4,810.7 611.6,830.0 611.6,829.3 613.8,815.9 614.9,810.1 616.0,800.7 618.2,783.5 618.2,784.2 620.4,790.3 621.5,792.4 622.6,784.1 623.7,776.9 624.8,766.3 626.0,752.5 627.0,754.2 629.2,753.8 629.3,754.7 631.4,727.6 632.6,712.6 633.6,724.9 635.3,743.6 635.8,755.9 637.0,787.9 638.0,806.4 639.3,832.3 640.2,835.2 642.4,838.2 642.6,838.9 644.6,844.4 644.8,845.6 646.8,818.6 648.1,801.2 649.0,809.2 651.2,826.4 651.4,827.8 653.4,834.1 654.8,838.9 655.6,824.1 657.8,778.1 658.1,772.4 660.0,767.1 661.4,763.6 662.2,770.1 664.4,785.5 664.7,787.9 666.6,799.9 668.1,810.1 668.8,810.7 671.0,808.0 671.4,807.9 673.2,812.4 674.7,814.5 675.4,807.1 677.6,788.0 678.0,783.5 679.8,812.9 679.9,814.5 682.0,791.2 683.3,779.1 684.2,784.8 686.1,799.0 686.4,804.3 688.6,834.8 688.8,836.7 690.8,853.0 692.1,862.2 693.0,855.4 695.2,834.1 695.5,832.3 697.4,815.0 699.6,795.7 700.3,790.2 701.8,803.5 703.9,823.4 704.0,823.3 706.2,837.7 707.0,844.5 708.4,820.9 710.5,787.9 710.6,785.7 712.8,763.7 714.3,748.1 715.0,749.3 717.2,754.5 718.1,754.7 719.4,767.4 720.9,779.1 721.6,785.1 723.8,804.3 724.3,810.1 726.0,807.3 727.6,805.7 728.2,811.5 730.4,830.9 730.9,836.7 732.6,848.8 734.2,861.1 734.8,863.3 737.0,870.1 737.6,873.3 739.2,872.8 741.4,868.9 742.0,869.9 743.6,870.9 745.3,869.9 745.8,856.7 747.5,805.7 748.0,803.7 750.2,797.4 752.0,792.4 752.4,797.6 754.6,819.4 754.8,821.2 756.8,836.3 757.5,843.3 759.0,858.5 760.2,868.8 761.2,860.9 763.0,843.3 763.4,834.0 765.3,787.9 765.6,785.0 767.8,759.1 768.6,750.3 770.0,764.3 771.5,776.9 772.2,790.0 774.1,827.8 774.4,826.4 776.6,829.3 777.4,827.8 778.8,808.1 780.8,783.5 781.0,782.9 783.2,760.5 784.1,751.4 785.4,786.6 786.7,821.2 787.6,833.2 789.8,867.1 790.7,879.9 792.0,862.1 794.1,832.3 794.2,830.4 796.4,794.6 797.4,779.1 798.6,783.6 800.7,787.9 800.8,790.0 803.0,809.7 804.0,821.2 805.2,831.7 807.4,851.1 807.4,852.4 809.6,847.4 810.7,843.3 811.8,829.1 812.9,814.5 814.0,814.6 816.2,819.0 816.2,819.5 818.4,813.3 819.5,810.1 820.6,815.1 822.8,824.4 822.9,823.4 825.0,843.1 826.2,854.4 827.2,848.7 829.4,834.4 829.5,832.3 831.6,794.1 831.7,792.4 833.8,771.1 834.4,763.6 836.0,773.2 837.3,783.5 838.2,802.7 839.5,832.3 840.4,855.2 842.1,898.7 842.6,890.0 844.8,857.9 845.0,854.4 847.0,823.1 847.9,810.1 849.2,801.2 850.6,791.3 851.4,813.4 852.8,854.4 853.6,878.8 855.4,929.8 855.8,922.2 858.0,881.4 858.3,876.6 860.2,839.6 861.6,810.1 862.4,794.6 863.9,765.8 864.6,754.0 866.5,718.2 866.8,722.4 869.0,759.0 869.4,765.8 871.2,795.5 872.7,821.2 873.4,835.9 874.9,863.3 875.6,857.6 877.8,840.9 878.3,835.6 880.0,841.6 881.6,845.6 882.2,861.1 883.8,898.7 884.4,911.1 886.0,947.5 886.6,941.4 888.8,917.0 889.3,909.8 891.0,909.1 893.2,908.5 893.8,907.6 895.4,909.2 897.6,910.8 898.2,909.8 899.8,901.0 902.0,885.4 902.0,884.7 904.2,913.2 904.8,920.9 906.4,933.8 908.6,954.1 908.6,953.9 910.8,922.3 912.6,898.7 913.0,892.9 915.2,859.4 915.9,850.0 917.4,881.3 919.3,920.9 919.6,929.1 921.8,976.1 921.9,979.6 924.0,920.1 924.8,898.7 926.2,862.0 927.0,843.3 928.4,819.7 930.3,790.2 930.6,792.5 932.8,813.3 933.7,821.2 935.0,837.2 937.0,865.5 937.2,865.8 939.4,870.0 940.3,871.0 941.6,863.3 943.6,854.4 943.8,850.0 946.0,812.6 948.1,775.8 948.2,777.9 950.4,799.5 951.4,810.1 952.6,817.8 954.7,830.0 954.8,829.7 957.0,846.4 958.0,854.4 959.2,855.5 959.9,854.4 961.4,913.1 962.2,943.1 963.6,975.9 965.5,1018.4 965.8,1016.6 968.0,996.1 968.8,987.4 970.2,945.2 971.0,920.9 972.4,918.9 973.7,918.7 974.6,921.7 976.6,932.0 976.8,925.2 978.8,854.4 979.0,851.9 981.2,822.3 982.1,810.1 983.4,803.5 985.4,796.8 985.6,797.1 987.8,788.0 988.3,784.6 990.0,810.3 991.4,832.3 992.2,845.2 994.3,876.6 994.4,876.7 996.6,897.5 997.6,905.4 998.8,911.5 1000.9,925.3 1001.0,926.7 1003.2,961.1 1004.3,976.3 1005.4,984.9 1007.6,998.5 1007.6,997.7 1009.8,1000.8 1010.9,1000.7 1012.0,1002.4 1014.2,1005.1 1014.2,1006.6 1016.4,985.2 1017.6,976.3 1018.6,966.7 1020.8,944.8 1020.9,943.1 1023.0,938.6 1025.2,937.3 1025.3,936.4 1027.4,929.1 1028.6,925.3 1029.6,921.6 1031.8,909.4 1032.0,909.8 1034.0,902.2 1035.3,898.7 1036.2,862.0 1037.5,810.1 1038.4,807.2 1040.6,798.0 1041.9,792.4 1042.8,781.8 1045.0,760.2 1045.9,750.3 1047.2,767.7 1048.6,783.5 1049.4,802.3 1050.8,832.3 1051.6,834.1 1053.8,837.4 1054.1,836.7 1056.0,835.4 1057.4,832.3 1058.2,842.0 1060.4,872.0 1060.8,876.6 1062.6,913.2 1063.0,920.9 1064.8,985.0 1065.2,998.5 1067.0,999.6 1068.5,1000.7 1069.2,998.5 1071.4,995.2 1072.9,994.0 1073.6,1001.2 1075.6,1018.4 1075.8,1022.2 1078.0,1047.4 1078.5,1053.8 1080.2,1065.3 1081.8,1076.0 1082.4,1078.8 1084.6,1086.1 1086.2,1091.5 1086.8,1089.8 1088.9,1080.4 1089.0,1076.9 1091.2,1022.9 1091.8,1009.5 1093.4,966.4 1095.1,920.9 1095.6,911.4 1097.8,865.5 1097.8,864.9 1100.0,846.7 1101.8,832.3 1102.2,827.2 1104.4,798.4 1105.1,787.9 1106.6,781.5 1108.0,778.0 1108.8,790.5 1110.6,821.2 1111.0,830.0 1112.8,876.6 1113.2,883.6 1115.0,920.9 1115.4,919.7 1117.3,909.8 1117.6,905.6 1119.8,869.0 1120.6,854.4 1122.0,824.4 1122.8,805.7 1124.2,801.6 1126.1,796.8 1126.4,796.5 1128.6,795.4 1129.5,796.8 1130.8,813.9 1132.8,836.7 1133.0,835.2 1135.2,807.2 1136.8,789.1 1137.4,793.1 1139.4,810.1 1139.6,812.6 1141.8,833.0 1142.7,843.3 1144.0,857.3 1146.1,876.6 1146.2,876.4 1148.4,907.8 1149.4,920.9 1150.6,921.3 1152.3,923.1 1152.8,915.3 1154.9,889.9 1155.0,892.0 1157.2,904.4 1158.3,909.8 1159.4,914.8 1161.6,923.1 1161.6,923.1 1163.8,907.2 1164.9,898.7 1166.0,885.2 1168.2,854.4 1168.2,855.8 1170.4,834.4 1171.6,821.2 1172.6,821.6 1174.8,822.7 1174.9,821.2 1177.0,850.0 1178.2,865.5 1179.2,817.8 1179.8,787.9 1181.4,801.5 1182.6,810.1 1183.6,814.7 1185.8,821.1 1186.0,821.2 1188.0,796.0 1189.9,770.2 1190.2,773.3 1192.4,785.4 1193.0,787.9 1194.6,806.1 1196.8,830.5 1197.0,832.3 1199.0,857.7 1200.4,876.6 1201.2,868.3 1203.4,843.3 1203.7,841.1 1205.6,872.8 1207.0,898.7 1207.8,912.4 1210.0,948.7 1210.3,954.1 1212.2,974.8 1213.0,982.9 1214.4,964.9 1215.9,943.1 1216.6,932.0 1218.8,900.4 1219.2,894.3 1220.0,892.8 1221.0,913.7 1222.1,936.6 1223.2,950.0 1225.3,978.7 1225.4,980.2 1227.6,992.0 1228.0,993.4 1229.8,976.3 1230.5,968.1 1232.0,935.0 1232.6,919.9 1233.7,926.0 1234.2,913.2 1235.8,869.6 1236.4,862.1 1238.6,831.8 1240.0,814.9 1240.8,805.1 1243.0,782.8 1243.1,781.3 1245.2,775.9 1246.3,772.8 1247.4,780.7 1248.4,785.5 1249.6,770.2 1250.5,760.2 1251.8,778.8 1252.6,791.8 1254.0,781.8 1254.7,774.9 1256.2,788.2 1257.5,802.3 1258.4,814.2 1260.6,840.6 1261.0,844.4 1262.8,860.8 1264.2,876.0 1265.0,875.7 1267.2,870.4 1267.3,871.8 1269.4,865.8 1270.5,863.3 1271.6,853.7 1273.8,834.3 1275.1,822.3 1276.0,830.7 1278.2,850.8 1278.5,852.8 1280.4,880.4 1281.4,897.0 1282.1,947.1 1282.6,956.9 1284.8,1001.9 1285.2,1010.2 1287.0,1035.1 1287.8,1048.1 1289.2,1034.9 1290.5,1022.8 1291.4,1017.4 1293.6,1007.9 1293.7,1006.0 1295.8,946.3 1296.8,919.9 1296.8,989.2 1298.0,952.8 1298.9,926.0 1300.0,886.5 1300.2,881.0 1302.4,837.1 1303.1,823.4 1304.6,800.0 1306.3,772.8 1306.8,760.8 1309.0,699.8 1309.4,689.7 1311.2,716.6 1312.6,735.0 1313.4,745.0 1315.6,769.3 1315.7,770.7 1317.8,841.8 1317.9,844.4 1320.0,862.2 1320.6,865.4 1322.2,896.7 1323.1,913.4 1324.4,898.2 1326.3,876.0 1326.6,870.1 1328.8,817.7 1329.4,805.5 1331.0,818.4 1332.6,833.9 1333.2,851.4 1334.7,897.0 1335.4,889.3 1337.6,862.3 1337.8,861.2 1339.8,858.3 1341.0,856.0 1342.0,867.9 1344.2,897.0 1344.2,968.1 1344.2,968.6 1346.3,1031.3 1346.4,1031.7 1348.6,1069.0 1348.8,1073.4 1350.8,1033.6 1351.5,1020.7 1353.0,1005.1 1354.7,989.2 1355.2,987.2 1357.4,970.8 1358.9,961.8 1359.6,958.1 1361.8,944.7 1363.1,936.6 1364.0,904.8 1365.2,865.4 1366.2,850.2 1368.4,819.1 1368.4,818.5 1370.5,802.3 1370.6,804.2 1372.8,818.9 1375.0,835.3 1375.7,840.2 1377.2,857.3 1379.4,880.4 1379.9,886.5 1381.6,935.5 1382.0,947.1 1383.7,980.8 1383.8,978.7 1386.0,948.4 1386.2,947.1 1388.2,892.6 1390.4,831.1 1391.5,802.3 1392.6,791.1 1394.7,772.8 1394.8,772.5 1397.0,768.7 1397.8,765.5 1399.2,772.4 1401.0,781.3 1401.4,792.7 1403.1,833.9 1403.6,845.9 1405.2,886.5 1405.8,890.4 1408.0,904.4 1409.4,915.5 1410.2,921.1 1412.4,933.3 1414.6,945.7 1414.7,947.1 1416.8,970.6 1417.8,982.9 1419.0,973.9 1421.0,957.6 1421.2,957.7 1423.4,942.2 1424.1,936.6 1425.6,930.1 1427.3,920.8 1427.8,929.5 1430.0,962.8 1430.4,968.1 1432.2,985.9 1433.6,1001.8 1434.4,1017.4 1434.6,1022.8 1436.6,1015.0 1437.8,1010.2 1438.8,1009.3 1441.0,1006.0 1441.0,1005.5 1443.2,965.6 1444.1,947.1 1445.4,877.6 1446.2,833.9 1447.6,837.5 1449.4,844.4 1449.8,844.3 1452.0,841.7 1452.5,840.2 1454.2,795.6 1454.6,785.5 1456.4,784.7 1456.7,785.5 1458.6,813.5 1459.9,833.9 1460.8,841.2 1463.0,856.3 1464.1,865.4 1465.2,873.0 1467.3,886.5 1467.4,886.2 1469.6,894.6 1470.4,899.1 1471.8,876.0 1473.6,844.4 1474.0,834.2 1476.2,785.4 1476.7,772.8 1478.4,771.6 1479.9,769.7 1480.6,778.5 1482.8,799.1 1483.0,802.3 1485.0,814.2 1486.2,823.4 1487.2,843.6 1488.3,865.4 1489.4,860.8 1491.5,848.6 1491.6,848.0 1493.8,870.2 1494.6,876.0 1496.0,938.8 1496.7,968.1 1498.2,971.0 1498.8,972.3 1500.4,958.8 1502.0,947.1 1502.6,929.3 1504.1,886.5 1504.8,910.5 1505.1,921.8 1507.0,894.6 1508.3,876.0 1509.2,870.5 1511.4,856.8 1511.5,857.0 1513.6,876.6 1514.6,886.5 1515.8,920.0 1516.7,947.1 1518.0,956.5 1519.9,968.1 1520.2,974.7 1522.4,1017.8 1523.0,1031.3 1524.6,1053.4 1526.2,1073.4 1526.8,1079.6 1528.3,1094.4 1529.0,1080.5 1531.2,1036.1 1531.4,1031.3 1533.4,977.5 1534.6,947.1 1535.6,925.6 1537.8,878.6 1539.9,833.9 1540.0,833.7 1542.2,810.0 1543.0,802.3 1544.4,791.7 1546.2,781.3"/>
<polyline fill="none" stroke="#F5661A" stroke-width="4.8" stroke-linejoin="round" points="981.0,814.5 981.0,815.4 983.2,832.3 983.2,828.5 985.4,854.4 985.4,856.0 987.6,876.6 987.6,875.1 989.8,917.5 989.9,920.9 992.0,944.9 992.1,943.1 993.2,1020.6 994.2,1002.6 995.8,965.2 996.4,986.0 998.1,1042.8 998.6,1031.8 1000.8,994.4 1000.9,991.8 1003.0,1047.2 1003.2,1053.8 1005.2,1082.5 1005.4,1082.7 1007.4,1089.5 1008.7,1089.3 1009.6,1088.0 1011.3,1093.7 1011.8,1077.3 1014.0,992.3 1014.2,987.4 1016.2,920.5 1016.4,909.8 1018.4,918.3 1019.3,920.9 1020.6,953.9 1022.0,987.4 1022.8,975.0 1023.8,965.2 1025.0,1020.8 1026.4,1093.7 1027.2,1073.3 1029.4,1008.3 1029.7,998.5 1031.6,952.4 1032.0,943.1 1033.8,926.6 1035.3,909.8 1036.0,908.9 1038.2,901.8 1038.6,898.7 1040.4,881.5 1041.9,865.5 1042.6,857.3 1044.8,848.9 1045.3,843.3 1047.0,851.1 1048.6,854.4 1049.2,862.6 1051.4,890.5 1051.9,898.7 1053.6,933.2 1054.1,943.1 1055.8,1007.8 1056.3,1031.7 1058.0,1012.3 1058.5,1009.5 1060.2,1037.8 1061.4,1053.8 1062.4,1069.5 1063.6,1087.1 1064.6,1090.9 1065.9,1100.4 1066.8,1090.5 1068.5,1076.0 1069.0,1075.2 1070.7,1064.9 1071.2,1056.6 1072.9,1031.7 1073.4,1039.9 1075.2,1076.0 1075.6,1071.4 1077.4,1042.8 1077.8,1041.6 1080.0,1058.2 1080.7,1064.9 1082.2,1080.1 1084.0,1095.9 1084.4,1092.2 1086.6,1095.5 1087.4,1098.2 1088.8,1096.4 1090.7,1095.9 1091.0,1093.9 1092.9,1076.0 1093.2,1058.6 1095.1,965.2 1095.4,952.8 1097.3,876.6 1097.6,868.9 1099.8,842.5 1100.6,832.3 1102.0,817.5 1103.5,799.0 1104.2,807.0 1106.2,814.5 1106.4,818.0 1108.6,842.4 1109.5,854.4 1110.8,879.0 1111.7,898.7 1113.0,939.1 1113.9,965.2 1115.2,997.3 1116.2,1020.6 1117.4,968.2 1118.4,920.9 1119.6,951.7 1121.3,987.4 1121.8,969.0 1123.9,909.8 1124.0,918.5 1125.7,1031.7 1126.2,993.6 1128.3,832.3 1128.4,833.3 1130.1,801.2 1130.6,806.4 1132.8,821.2 1132.8,821.9 1135.0,830.5 1136.1,832.3 1137.2,848.7 1139.0,876.6 1139.4,890.4 1141.6,943.1 1141.6,939.6 1143.4,1031.7 1143.8,1022.3 1146.0,989.9 1146.1,987.4 1148.2,1025.0 1148.7,1031.7 1150.4,1044.7 1151.6,1053.8 1152.6,1073.8 1153.2,1080.4 1154.8,1061.7 1156.0,1042.8 1157.0,1046.1 1159.2,1050.2 1159.4,1053.8 1161.4,1037.6 1161.6,1031.7 1163.6,991.6 1164.9,965.2 1165.8,956.8 1168.0,930.3 1168.2,932.0 1170.2,909.2 1171.6,898.7 1172.4,903.8 1174.6,932.6 1174.9,932.0 1176.8,957.6 1178.2,982.9 1179.0,975.4 1181.2,947.8 1181.5,943.1 1183.4,923.4 1184.8,909.8 1185.6,910.0 1187.8,893.0 1188.2,894.3 1190.0,880.0 1191.5,865.5 1192.2,853.1 1193.0,838.9 1194.4,856.6 1195.9,876.6 1196.6,888.6 1198.8,916.3 1199.3,920.9 1201.0,969.5 1201.5,987.4 1203.2,1012.7 1204.8,1031.7 1205.4,1040.5 1207.6,1069.2 1208.1,1076.0 1209.8,1062.7 1211.4,1042.8 1212.0,1052.8 1214.2,1082.2 1214.8,1091.5 1216.4,1084.3 1217.4,1076.0 1218.6,1038.4 1220.0,999.7 1220.8,1008.0 1222.1,1031.3 1223.0,1037.3 1224.2,1041.8 1225.2,1060.6 1227.4,1094.4 1227.4,1092.4 1229.6,1112.5 1230.5,1123.9 1231.8,1111.8 1233.7,1090.2 1234.0,1088.4 1236.2,1088.8 1236.8,1083.9 1237.9,865.4 1238.4,935.3 1238.9,1010.2 1240.0,802.3 1240.6,786.7 1241.0,781.3 1242.8,769.3 1244.2,760.2 1245.0,762.7 1246.9,756.0 1247.2,753.0 1249.4,743.2 1249.5,739.2 1251.6,707.6 1251.6,708.8 1253.7,697.1 1253.8,694.0 1255.8,713.9 1256.0,721.9 1257.9,760.2 1258.2,762.9 1260.0,791.8 1260.4,802.0 1262.1,844.4 1262.6,873.4 1264.2,968.1 1264.8,984.0 1265.9,1003.9 1267.0,992.9 1268.0,978.7 1269.2,992.4 1270.5,1010.2 1271.4,1018.7 1273.6,1042.9 1273.7,1041.8 1275.8,986.4 1276.4,968.1 1278.0,1015.4 1278.5,1031.3 1280.2,1033.9 1281.0,1039.7 1282.4,1050.0 1283.1,1052.3 1284.6,1073.8 1285.7,1083.9 1286.8,1086.4 1287.8,1092.3 1289.0,1074.1 1290.5,1052.3 1291.2,1059.5 1292.6,1073.4 1293.4,1078.2 1295.6,1092.3 1295.8,1094.4 1297.8,1101.5 1298.9,1104.9 1300.0,865.4 1300.0,865.7 1301.0,1010.2 1302.1,781.3 1302.2,782.2 1304.2,718.1 1304.4,707.7 1305.2,667.6 1306.6,703.1 1307.3,718.1 1308.8,760.5 1309.4,781.3 1311.0,829.5 1311.5,844.4 1313.2,856.3 1313.6,854.9 1315.4,873.2 1315.7,876.0 1316.4,989.2 1317.6,963.7 1318.9,936.6 1319.8,942.1 1322.0,967.6 1322.1,968.1 1324.2,1014.4 1324.2,1011.5 1326.4,974.2 1327.3,957.6 1328.6,998.8 1330.5,1052.3 1330.8,1045.5 1333.0,1025.6 1333.6,1020.7 1335.2,978.4 1335.7,968.1 1337.4,980.6 1339.6,997.9 1341.8,1010.1 1344.0,1029.0 1344.2,1031.3 1346.2,1093.9 1346.3,1094.4 1348.4,1104.7 1349.4,1107.0 1350.6,1096.4 1352.6,1073.4 1352.8,1066.8 1354.7,1010.2 1355.0,1011.8 1357.2,1043.2 1357.8,1048.1 1359.4,1023.2 1361.0,1006.0 1361.6,1013.6 1363.8,1045.0 1364.1,1052.3 1366.0,995.8 1366.3,989.2 1367.3,823.4 1368.2,795.3 1369.8,739.2 1370.4,721.4 1371.1,704.5 1372.6,760.2 1372.6,760.9 1374.7,844.4 1374.8,851.6 1377.0,984.6 1377.8,1031.3 1379.2,1040.4 1381.0,1056.5 1381.4,1056.7 1383.6,1062.9 1384.1,1064.9 1385.8,1005.7 1386.2,989.2 1388.0,871.4 1388.4,844.4 1390.2,796.0 1390.5,789.7 1392.4,820.0 1392.6,823.4 1394.6,864.4 1394.7,865.4 1396.8,877.6 1397.8,886.5 1398.9,957.6 1399.0,950.5 1401.0,838.1 1401.2,836.9 1403.1,865.4 1403.1,947.1 1403.4,954.0 1405.2,989.2 1405.6,998.6 1407.8,1025.7 1408.3,1031.3 1410.0,1058.5 1412.2,1084.9 1412.6,1090.2 1414.4,1078.0 1415.7,1073.4 1416.6,1064.2 1418.8,1040.8 1418.9,1041.8 1421.0,1067.3 1422.0,1083.9 1423.2,1070.2 1424.5,1052.3 1425.4,1071.6 1427.3,1102.8 1427.6,1098.9 1429.8,1081.1 1430.4,1073.4 1432.0,1105.3 1432.5,1115.4 1434.2,1085.6 1435.7,1062.8 1436.4,1065.8 1438.6,1081.6 1438.9,1083.9 1440.8,1100.7 1442.0,1104.9 1443.0,1120.3 1444.7,1138.6 1445.2,1078.9 1447.3,823.4 1447.3,1094.4 1447.4,1082.3 1449.4,760.2 1449.4,989.2 1449.6,958.5 1451.5,676.0 1451.8,673.7 1452.5,666.6 1454.0,714.5 1454.6,735.0 1456.2,736.1 1456.7,735.0 1458.4,761.9 1459.9,781.3 1460.6,803.5 1462.8,855.4 1463.1,865.4 1463.1,968.1 1465.0,1005.1 1466.2,1031.3 1467.2,999.4 1468.3,968.1 1469.4,952.2 1471.5,926.0 1471.6,920.5 1472.5,907.5 1473.8,913.2 1474.6,915.5 1476.0,923.8 1477.8,926.0 1478.2,937.8 1480.4,988.2 1480.9,999.7 1482.6,968.5 1484.1,947.1 1484.8,910.8 1485.6,876.0 1487.0,948.8 1487.3,968.1 1489.2,998.6 1490.4,1020.7 1491.4,1040.9 1493.6,1073.4 1493.6,1070.0 1495.8,1096.9 1496.7,1104.9 1498.0,1074.3 1498.8,1052.3 1500.2,1024.1 1502.0,978.7 1502.4,986.4 1504.6,1044.0 1505.1,1052.3 1506.8,1024.3 1508.3,999.7 1509.0,995.3 1511.2,989.4 1511.5,985.0 1513.4,1016.4 1514.6,1031.3 1515.6,1047.4 1517.8,1083.9 1517.8,1082.5 1520.0,1089.0 1520.9,1094.4 1522.2,1116.7 1524.1,1142.8 1524.4,1144.2 1526.6,1137.5 1527.2,1136.5 1528.8,1132.3 1530.4,1126.0 1531.0,1113.7 1532.5,1073.4 1533.2,993.8 1534.6,823.4 1534.6,989.2 1535.4,898.7 1536.7,756.0 1537.6,755.0 1538.8,760.2 1539.8,765.2 1540.9,770.7 1542.0,791.1 1543.0,802.3 1544.2,792.1 1545.1,781.3"/>
</g>
<clipPath id="clipb"><rect x="107.0" y="662.5" width="1438.1" height="508.4"/></clipPath>
<g><path d="M108.0 665.5H1544.1" stroke="#1a1a1a" stroke-width="2.3" fill="none"/><path d="M108.0 1167.9H1544.1" stroke="#1a1a1a" stroke-width="2.3" fill="none"/><path d="M108.0 665.5V1167.9" stroke="#1a1a1a" stroke-width="2.3" fill="none" stroke-linecap="square"/><path d="M1544.1 664.5V1168.9" stroke="#D98A5A" stroke-width="1.6" fill="none"/><path d="M251.6 665.5v14.5M251.6 1167.9v-14.5" stroke="#1a1a1a" stroke-width="2.3"/><path d="M395.2 665.5v14.5M395.2 1167.9v-14.5" stroke="#1a1a1a" stroke-width="2.3"/><path d="M538.8 665.5v14.5M538.8 1167.9v-14.5" stroke="#1a1a1a" stroke-width="2.3"/><path d="M682.4 665.5v14.5M682.4 1167.9v-14.5" stroke="#1a1a1a" stroke-width="2.3"/><path d="M826.0 665.5v14.5M826.0 1167.9v-14.5" stroke="#1a1a1a" stroke-width="2.3"/><path d="M969.7 665.5v14.5M969.7 1167.9v-14.5" stroke="#1a1a1a" stroke-width="2.3"/><path d="M1113.3 665.5v14.5M1113.3 1167.9v-14.5" stroke="#1a1a1a" stroke-width="2.3"/><path d="M1256.9 665.5v14.5M1256.9 1167.9v-14.5" stroke="#1a1a1a" stroke-width="2.3"/><path d="M1400.5 665.5v14.5M1400.5 1167.9v-14.5" stroke="#1a1a1a" stroke-width="2.3"/><path d="M108.0 1090.6h14.5M1544.1 1090.6h-14.5" stroke="#1a1a1a" stroke-width="2.3"/><path d="M108.0 1013.3h14.5M1544.1 1013.3h-14.5" stroke="#1a1a1a" stroke-width="2.3"/><path d="M108.0 936.0h14.5M1544.1 936.0h-14.5" stroke="#1a1a1a" stroke-width="2.3"/><path d="M108.0 858.7h14.5M1544.1 858.7h-14.5" stroke="#1a1a1a" stroke-width="2.3"/><path d="M108.0 781.4h14.5M1544.1 781.4h-14.5" stroke="#1a1a1a" stroke-width="2.3"/><path d="M108.0 704.1h14.5M1544.1 704.1h-14.5" stroke="#1a1a1a" stroke-width="2.3"/><path d="M1544.1 1167.9h-14.5" stroke="#DD7A45" stroke-width="1.8"/><path d="M1544.1 1090.6h-14.5" stroke="#DD7A45" stroke-width="1.8"/><path d="M1544.1 1013.3h-14.5" stroke="#DD7A45" stroke-width="1.8"/><path d="M1544.1 936.0h-14.5" stroke="#DD7A45" stroke-width="1.8"/><path d="M1544.1 858.7h-14.5" stroke="#DD7A45" stroke-width="1.8"/><path d="M1544.1 781.4h-14.5" stroke="#DD7A45" stroke-width="1.8"/><path d="M1544.1 704.1h-14.5" stroke="#DD7A45" stroke-width="1.8"/></g>
<g font-size="31" fill="#000"><text x="108.0" y="1204.1" text-anchor="middle">2000</text><text x="251.6" y="1204.1" text-anchor="middle">1800</text><text x="395.2" y="1204.1" text-anchor="middle">1600</text><text x="538.8" y="1204.1" text-anchor="middle">1400</text><text x="682.4" y="1204.1" text-anchor="middle">1200</text><text x="826.0" y="1204.1" text-anchor="middle">1000</text><text x="969.7" y="1204.1" text-anchor="middle">800</text><text x="1113.3" y="1204.1" text-anchor="middle">600</text><text x="1256.9" y="1204.1" text-anchor="middle">400</text><text x="1400.5" y="1204.1" text-anchor="middle">200</text><text x="1544.1" y="1204.1" text-anchor="middle">0</text><text x="98.5" y="1177.2" text-anchor="end">-10</text><text x="98.5" y="1099.9" text-anchor="end">-8</text><text x="98.5" y="1022.6" text-anchor="end">-6</text><text x="98.5" y="945.3" text-anchor="end">-4</text><text x="98.5" y="868.0" text-anchor="end">-2</text><text x="98.5" y="790.7" text-anchor="end">0</text><text x="98.5" y="713.4" text-anchor="end">2</text></g>
<g font-size="31" fill="#D95319"><text x="1554.0" y="1177.2">-10</text><text x="1554.0" y="1099.9">-8</text><text x="1554.0" y="1022.6">-6</text><text x="1554.0" y="945.3">-4</text><text x="1554.0" y="868.0">-2</text><text x="1553.9" y="790.7">0</text><text x="1553.9" y="713.4">2</text></g>
<text x="826.0" y="648.4" text-anchor="middle" font-size="33.5" font-weight="bold" fill="#000">CESM temperature anomaly Antarctica</text>
<text x="835.9" y="1241.3" text-anchor="middle" font-size="33.5" font-weight="bold" fill="#000">Time (ka)</text>
<text transform="translate(41.6 1082.6) rotate(-90)" font-size="34" fill="#000" textLength="335.7" lengthAdjust="spacing">Temperature (Celsius)</text>
<text transform="translate(1635.3 1204.0) rotate(-90)" font-size="34" fill="#D95319" textLength="577.2" lengthAdjust="spacing">EPICA Dome C Temperature (Celsius)</text>
<text x="138.5" y="1131.0" font-size="52" font-weight="bold" fill="#000">b)</text>
<g><line x1="251.7" y1="1297.9" x2="251.7" y2="1800.7" stroke="#262626" stroke-opacity="0.11" stroke-width="1.3"/><line x1="395.3" y1="1297.9" x2="395.3" y2="1800.7" stroke="#262626" stroke-opacity="0.11" stroke-width="1.3"/><line x1="539.0" y1="1297.9" x2="539.0" y2="1800.7" stroke="#262626" stroke-opacity="0.11" stroke-width="1.3"/><line x1="682.6" y1="1297.9" x2="682.6" y2="1800.7" stroke="#262626" stroke-opacity="0.11" stroke-width="1.3"/><line x1="826.2" y1="1297.9" x2="826.2" y2="1800.7" stroke="#262626" stroke-opacity="0.11" stroke-width="1.3"/><line x1="969.8" y1="1297.9" x2="969.8" y2="1800.7" stroke="#262626" stroke-opacity="0.11" stroke-width="1.3"/><line x1="1113.4" y1="1297.9" x2="1113.4" y2="1800.7" stroke="#262626" stroke-opacity="0.11" stroke-width="1.3"/><line x1="1257.1" y1="1297.9" x2="1257.1" y2="1800.7" stroke="#262626" stroke-opacity="0.11" stroke-width="1.3"/><line x1="1400.7" y1="1297.9" x2="1400.7" y2="1800.7" stroke="#262626" stroke-opacity="0.11" stroke-width="1.3"/><line x1="108.1" y1="1376.2" x2="1544.3" y2="1376.2" stroke="#C89870" stroke-opacity="0.16" stroke-width="1.3"/><line x1="108.1" y1="1454.5" x2="1544.3" y2="1454.5" stroke="#C89870" stroke-opacity="0.16" stroke-width="1.3"/><line x1="108.1" y1="1532.8" x2="1544.3" y2="1532.8" stroke="#C89870" stroke-opacity="0.16" stroke-width="1.3"/><line x1="108.1" y1="1611.1" x2="1544.3" y2="1611.1" stroke="#C89870" stroke-opacity="0.16" stroke-width="1.3"/><line x1="108.1" y1="1689.4" x2="1544.3" y2="1689.4" stroke="#C89870" stroke-opacity="0.16" stroke-width="1.3"/><line x1="108.1" y1="1767.7" x2="1544.3" y2="1767.7" stroke="#C89870" stroke-opacity="0.16" stroke-width="1.3"/></g>
<g clip-path="url(#clipc)">
<polyline fill="none" stroke="#0000FF" stroke-width="4.5" stroke-linejoin="round" points="107.7,1628.7 108.8,1623.7 110.0,1613.8 111.1,1608.8 112.1,1611.5 113.2,1619.2 114.2,1630.9 115.2,1645.4 116.3,1660.7 117.3,1675.2 118.3,1686.9 119.4,1694.6 120.4,1697.3 121.5,1688.1 122.7,1662.3 123.8,1625.1 124.9,1583.7 126.0,1546.5 127.2,1520.7 128.3,1511.5 129.3,1517.8 130.4,1536.1 131.4,1564.0 132.4,1598.3 133.5,1634.8 134.5,1669.1 135.5,1697.0 136.6,1715.3 137.6,1721.6 138.7,1716.0 139.7,1700.2 140.8,1676.5 141.8,1648.6 142.8,1620.7 143.9,1597.0 144.9,1581.2 146.0,1575.6 147.0,1580.4 148.1,1594.1 149.1,1614.5 150.1,1638.6 151.1,1662.8 152.1,1683.2 153.2,1696.9 154.2,1701.7 155.3,1694.2 156.4,1673.0 157.5,1641.3 158.6,1603.8 159.8,1566.3 160.9,1534.6 162.0,1513.4 163.1,1505.9 164.2,1517.4 165.3,1549.6 166.4,1596.2 167.5,1647.9 168.6,1694.5 169.7,1726.7 170.8,1738.2 171.9,1728.9 173.0,1703.0 174.1,1665.5 175.2,1624.0 176.3,1586.5 177.4,1560.6 178.5,1551.3 179.6,1558.0 180.7,1576.9 181.8,1605.3 182.9,1638.7 184.1,1672.1 185.2,1700.5 186.3,1719.4 187.4,1726.1 188.4,1717.5 189.4,1692.9 190.5,1656.1 191.5,1612.7 192.5,1569.3 193.6,1532.5 194.6,1507.9 195.6,1499.3 196.7,1508.5 197.7,1534.8 198.8,1574.1 199.8,1620.4 200.8,1666.7 201.9,1706.0 202.9,1732.3 204.0,1741.5 205.1,1731.0 206.2,1701.0 207.3,1656.2 208.4,1603.2 209.5,1550.3 210.6,1505.5 211.7,1475.5 212.8,1465.0 213.9,1478.7 215.0,1517.1 216.1,1572.5 217.3,1634.0 218.4,1689.4 219.5,1727.8 220.6,1741.5 221.7,1731.8 222.8,1704.4 223.9,1665.0 225.0,1621.1 226.1,1581.7 227.2,1554.3 228.3,1544.6 229.4,1551.6 230.5,1571.5 231.6,1601.3 232.8,1636.4 233.9,1671.6 235.0,1701.4 236.1,1721.3 237.2,1728.3 238.3,1715.6 239.4,1680.2 240.5,1628.9 241.6,1572.1 242.7,1520.8 243.8,1485.4 244.9,1472.7 246.0,1480.4 247.0,1502.6 248.1,1536.6 249.1,1578.3 250.2,1622.7 251.2,1664.4 252.3,1698.4 253.3,1720.6 254.4,1728.3 255.4,1721.4 256.4,1701.7 257.5,1672.3 258.5,1637.5 259.5,1602.8 260.6,1573.4 261.6,1553.7 262.6,1546.8 263.7,1555.2 264.8,1578.9 265.9,1613.0 267.1,1651.0 268.2,1685.1 269.3,1708.8 270.4,1717.2 271.5,1705.4 272.6,1672.4 273.7,1624.8 274.8,1571.8 275.9,1524.2 277.0,1491.2 278.1,1479.4 279.2,1487.1 280.2,1509.4 281.3,1543.5 282.3,1585.4 283.4,1630.0 284.4,1671.8 285.5,1706.0 286.5,1728.3 287.6,1736.0 288.6,1725.6 289.6,1696.6 290.6,1654.7 291.7,1608.2 292.7,1566.3 293.7,1537.3 294.7,1526.9 295.8,1533.7 296.8,1553.1 297.9,1582.2 298.9,1616.5 299.9,1650.8 301.0,1679.9 302.1,1699.3 303.1,1706.1 304.1,1694.8 305.1,1663.8 306.1,1621.5 307.1,1579.2 308.1,1548.2 309.1,1536.9 310.2,1541.8 311.2,1555.9 312.3,1577.5 313.3,1604.1 314.4,1632.3 315.4,1658.8 316.5,1680.5 317.5,1694.6 318.6,1699.5 319.7,1697.6 320.7,1692.2 321.8,1683.4 322.8,1671.8 323.9,1658.1 324.9,1643.1 326.0,1627.6 327.0,1612.6 328.1,1598.9 329.1,1587.3 330.2,1578.5 331.2,1573.1 332.3,1571.2 333.3,1574.0 334.3,1582.1 335.3,1594.7 336.3,1610.6 337.3,1628.1 338.3,1645.7 339.3,1661.6 340.3,1674.2 341.3,1682.3 342.3,1685.1 343.4,1678.7 344.5,1661.0 345.6,1637.0 346.7,1613.0 347.8,1595.3 348.9,1588.9 350.0,1595.9 351.1,1614.9 352.2,1640.9 353.3,1666.9 354.4,1685.9 355.5,1692.9 356.6,1684.6 357.7,1661.2 358.8,1627.5 360.0,1590.1 361.1,1556.4 362.2,1533.0 363.3,1524.7 364.4,1530.2 365.5,1545.8 366.6,1569.1 367.7,1596.6 368.8,1624.1 369.9,1647.4 371.0,1663.0 372.1,1668.5 373.2,1665.6 374.3,1658.5 375.4,1651.5 376.5,1648.6 377.6,1651.4 378.8,1658.0 379.9,1664.6 381.0,1667.4 382.1,1663.1 383.2,1650.7 384.3,1632.2 385.4,1610.5 386.5,1588.7 387.6,1570.2 388.7,1557.8 389.8,1553.5 390.9,1559.0 392.0,1574.3 393.1,1596.5 394.3,1621.1 395.4,1643.3 396.5,1658.6 397.6,1664.1 398.7,1656.3 399.8,1635.8 401.0,1610.5 402.1,1590.0 403.2,1582.2 404.3,1589.8 405.4,1610.9 406.5,1641.6 407.7,1675.5 408.8,1706.2 409.9,1727.3 411.0,1734.9 412.1,1721.8 413.2,1685.1 414.3,1632.1 415.4,1573.3 416.5,1520.3 417.6,1483.6 418.7,1470.5 419.8,1482.9 420.9,1517.8 422.0,1568.1 423.2,1624.0 424.3,1674.3 425.4,1709.2 426.5,1721.6 427.6,1708.8 428.7,1673.8 429.8,1626.0 430.9,1578.1 432.0,1543.1 433.1,1530.3 434.2,1537.6 435.2,1558.3 436.2,1589.3 437.3,1625.9 438.4,1662.6 439.4,1693.6 440.4,1714.3 441.5,1721.6 442.6,1714.4 443.7,1693.9 444.8,1663.2 445.9,1627.0 447.1,1590.9 448.2,1560.2 449.3,1539.7 450.4,1532.5 451.4,1536.2 452.5,1547.2 453.5,1564.4 454.6,1586.5 455.6,1611.7 456.7,1638.0 457.7,1663.2 458.8,1685.3 459.8,1702.5 460.9,1713.5 461.9,1717.2 463.0,1708.3 464.1,1682.9 465.2,1644.8 466.3,1600.0 467.4,1555.1 468.5,1517.0 469.6,1491.6 470.7,1482.7 471.8,1499.3 472.9,1544.7 474.0,1606.6 475.1,1668.5 476.2,1713.9 477.3,1730.5 478.4,1716.5 479.5,1677.2 480.6,1620.4 481.8,1557.4 482.9,1500.6 484.0,1461.3 485.1,1447.3 486.1,1459.3 487.2,1493.6 488.2,1545.0 489.2,1605.5 490.2,1666.0 491.2,1717.4 492.3,1751.7 493.3,1763.7 494.4,1747.3 495.6,1701.4 496.7,1635.1 497.8,1561.5 498.9,1495.2 500.1,1449.3 501.2,1432.9 502.2,1440.5 503.3,1462.5 504.3,1496.2 505.3,1537.6 506.4,1581.5 507.4,1622.9 508.4,1656.6 509.5,1678.6 510.5,1686.2 511.7,1653.3 513.0,1574.0 514.2,1494.6 515.4,1461.7 516.5,1470.0 517.5,1493.9 518.6,1530.5 519.6,1575.5 520.7,1623.3 521.7,1668.2 522.8,1704.9 523.8,1728.8 524.9,1737.1 525.9,1732.6 526.9,1719.5 527.9,1698.7 528.9,1672.1 529.9,1641.8 531.0,1610.1 532.0,1579.8 533.0,1553.2 534.0,1532.4 535.0,1519.3 536.0,1514.8 537.1,1522.3 538.2,1543.8 539.3,1575.9 540.4,1613.8 541.5,1651.7 542.6,1683.8 543.7,1705.3 544.8,1712.8 545.8,1704.9 546.9,1682.5 548.0,1648.9 549.0,1609.4 550.0,1569.8 551.1,1536.2 552.2,1513.8 553.2,1505.9 554.2,1518.3 555.2,1553.0 556.2,1603.1 557.3,1658.7 558.3,1708.8 559.3,1743.5 560.3,1755.9 561.4,1738.1 562.5,1688.2 563.6,1616.1 564.8,1536.2 565.9,1464.1 567.0,1414.2 568.1,1396.4 569.2,1414.5 570.3,1465.1 571.4,1538.3 572.5,1619.6 573.6,1692.8 574.7,1743.4 575.8,1761.5 576.8,1747.7 577.9,1709.0 578.9,1653.1 580.0,1591.1 581.0,1535.2 582.1,1496.5 583.1,1482.7 584.1,1492.0 585.1,1518.7 586.2,1558.5 587.2,1605.5 588.2,1652.5 589.2,1692.3 590.3,1719.0 591.3,1728.3 592.4,1710.9 593.5,1663.3 594.6,1598.3 595.7,1533.3 596.8,1485.7 597.9,1468.3 598.9,1473.8 599.9,1489.7 600.9,1514.6 601.9,1545.9 602.9,1580.6 603.9,1615.3 604.9,1646.6 605.9,1671.5 606.9,1687.4 607.9,1692.9 608.9,1690.7 610.0,1684.4 611.0,1674.1 612.0,1660.4 613.0,1644.0 614.1,1625.8 615.1,1606.6 616.1,1587.4 617.2,1569.2 618.2,1552.8 619.2,1539.1 620.2,1528.8 621.3,1522.5 622.3,1520.3 623.3,1528.5 624.4,1551.5 625.4,1584.8 626.5,1621.7 627.5,1655.0 628.6,1678.0 629.6,1686.2 630.7,1676.4 631.8,1649.7 632.9,1613.2 634.0,1576.7 635.1,1550.0 636.2,1540.2 637.2,1550.5 638.2,1579.4 639.2,1621.1 640.3,1667.3 641.3,1709.0 642.3,1737.9 643.3,1748.2 644.4,1733.9 645.5,1693.9 646.6,1636.0 647.7,1571.7 648.8,1513.8 649.9,1473.8 651.0,1459.5 652.1,1471.6 653.2,1505.5 654.3,1554.5 655.5,1608.9 656.6,1657.9 657.7,1691.8 658.8,1703.9 659.8,1692.4 660.9,1661.1 661.9,1618.2 662.9,1575.4 664.0,1544.0 665.0,1532.5 666.0,1542.1 667.0,1568.9 668.0,1607.8 669.0,1650.8 670.0,1689.7 671.0,1716.5 672.0,1726.1 673.1,1712.9 674.2,1676.9 675.4,1627.7 676.5,1578.4 677.6,1542.4 678.7,1529.2 679.8,1537.6 680.9,1560.7 682.0,1592.2 683.2,1623.8 684.3,1646.9 685.4,1655.3 686.5,1646.0 687.6,1620.5 688.8,1585.6 689.9,1550.8 691.0,1525.2 692.1,1515.9 693.1,1525.6 694.2,1553.0 695.2,1592.4 696.3,1636.3 697.3,1675.7 698.4,1703.1 699.4,1712.8 700.5,1696.1 701.6,1650.3 702.7,1587.8 703.8,1525.3 704.9,1479.5 706.0,1462.8 707.0,1471.8 708.0,1496.9 709.0,1533.3 710.1,1573.7 711.1,1610.1 712.1,1635.2 713.1,1644.2 714.2,1640.6 715.3,1632.1 716.4,1623.5 717.5,1619.9 718.6,1622.1 719.6,1628.4 720.7,1638.1 721.7,1650.5 722.8,1664.2 723.9,1677.8 724.9,1690.2 726.0,1699.9 727.0,1706.2 728.1,1708.4 729.1,1706.6 730.1,1701.4 731.1,1692.8 732.1,1681.2 733.2,1666.9 734.2,1650.3 735.2,1632.0 736.2,1612.4 737.2,1592.2 738.2,1572.1 739.2,1552.5 740.2,1534.2 741.2,1517.6 742.3,1503.3 743.3,1491.7 744.3,1483.1 745.3,1477.9 746.3,1476.1 747.4,1493.4 748.5,1540.8 749.6,1605.5 750.7,1670.2 751.8,1717.6 752.9,1734.9 754.0,1723.5 755.1,1691.4 756.2,1645.0 757.4,1593.6 758.5,1547.2 759.6,1515.1 760.7,1503.7 761.9,1528.3 763.1,1592.8 764.2,1672.4 765.4,1736.9 766.6,1761.5 767.6,1746.5 768.6,1703.7 769.6,1639.6 770.6,1564.0 771.6,1488.4 772.6,1424.3 773.6,1381.5 774.6,1366.5 775.6,1386.1 776.6,1440.9 777.6,1520.1 778.7,1607.9 779.7,1687.1 780.7,1741.9 781.7,1761.5 782.8,1747.6 783.9,1708.6 785.0,1652.3 786.1,1589.7 787.2,1533.4 788.3,1494.4 789.4,1480.5 790.5,1492.8 791.6,1527.1 792.7,1576.8 793.9,1632.0 795.0,1681.7 796.1,1716.0 797.2,1728.3 798.3,1718.0 799.4,1689.1 800.5,1647.4 801.6,1601.2 802.7,1559.5 803.8,1530.6 804.9,1520.3 805.9,1524.1 806.9,1535.2 807.9,1552.8 808.9,1575.3 809.9,1601.0 811.0,1627.7 812.0,1653.4 813.0,1675.9 814.0,1693.5 815.0,1704.6 816.0,1708.4 817.0,1702.3 818.1,1684.5 819.1,1656.9 820.2,1622.0 821.2,1583.4 822.2,1544.8 823.3,1509.9 824.3,1482.3 825.4,1464.5 826.4,1458.4 827.5,1472.5 828.7,1512.1 829.8,1569.3 830.9,1632.9 832.0,1690.1 833.2,1729.7 834.3,1743.8 835.3,1729.1 836.3,1688.0 837.3,1628.5 838.4,1562.6 839.4,1503.1 840.4,1462.0 841.4,1447.3 842.5,1463.1 843.6,1507.3 844.7,1571.2 845.9,1642.0 847.0,1705.9 848.1,1750.1 849.2,1765.9 850.3,1746.9 851.4,1693.6 852.5,1616.7 853.6,1531.2 854.7,1454.3 855.8,1401.0 856.9,1382.0 858.0,1399.9 859.1,1450.1 860.2,1522.6 861.3,1603.2 862.4,1675.7 863.5,1725.9 864.6,1743.8 865.7,1728.1 866.8,1685.2 868.0,1626.5 869.1,1567.9 870.2,1524.9 871.3,1509.2 872.3,1519.7 873.4,1549.2 874.4,1591.8 875.5,1639.0 876.5,1681.6 877.6,1711.1 878.6,1721.6 879.6,1716.5 880.6,1702.2 881.7,1680.6 882.7,1655.2 883.7,1629.9 884.8,1608.3 885.8,1594.0 886.8,1588.9 887.9,1593.9 889.0,1603.8 890.1,1608.8 891.2,1598.1 892.3,1572.3 893.4,1546.5 894.5,1535.8 895.6,1544.8 896.7,1569.9 897.8,1606.3 899.0,1646.7 900.1,1683.1 901.2,1708.2 902.3,1717.2 903.3,1707.0 904.4,1678.5 905.4,1637.2 906.5,1591.5 907.5,1550.2 908.6,1521.7 909.6,1511.5 910.7,1525.9 911.8,1565.1 912.9,1618.8 914.0,1672.4 915.1,1711.7 916.2,1726.1 917.3,1712.8 918.4,1675.5 919.5,1621.6 920.6,1561.7 921.7,1507.8 922.8,1470.5 923.9,1457.2 924.9,1470.4 925.9,1507.4 926.9,1560.8 928.0,1620.2 929.0,1673.6 930.0,1710.6 931.0,1723.8 932.0,1713.8 933.1,1685.9 934.1,1645.5 935.2,1600.8 936.2,1560.4 937.3,1532.5 938.3,1522.5 939.3,1531.5 940.3,1556.6 941.3,1593.0 942.4,1633.4 943.4,1669.8 944.4,1694.9 945.4,1703.9 946.5,1686.2 947.6,1639.7 948.7,1582.3 949.8,1535.8 950.9,1518.1 952.0,1528.0 953.1,1555.6 954.2,1595.5 955.4,1639.8 956.5,1679.7 957.6,1707.3 958.7,1717.2 959.7,1706.7 960.7,1677.9 961.8,1638.7 962.8,1599.4 963.8,1570.6 964.8,1560.1 965.9,1566.3 967.1,1583.8 968.2,1609.1 969.3,1637.2 970.4,1662.5 971.6,1680.0 972.7,1686.2 973.8,1671.4 974.9,1630.9 976.0,1575.6 977.2,1520.3 978.3,1479.8 979.4,1465.0 980.5,1476.6 981.5,1509.1 982.6,1556.2 983.7,1608.3 984.8,1655.4 985.8,1687.9 986.9,1699.5 987.9,1690.7 989.0,1666.6 990.0,1633.7 991.0,1600.8 992.1,1576.7 993.1,1567.9 994.2,1575.1 995.3,1594.7 996.4,1621.5 997.5,1648.4 998.6,1668.0 999.7,1675.2 1000.7,1667.3 1001.8,1645.6 1002.8,1616.0 1003.8,1586.4 1004.9,1564.7 1005.9,1556.8 1007.0,1561.6 1008.0,1574.0 1009.1,1589.4 1010.1,1601.8 1011.2,1606.6 1012.3,1600.1 1013.4,1582.2 1014.5,1557.9 1015.7,1533.5 1016.8,1515.7 1017.9,1509.2 1018.9,1520.6 1020.0,1552.5 1021.0,1598.6 1022.1,1649.9 1023.1,1696.0 1024.2,1727.9 1025.2,1739.3 1026.3,1725.5 1027.4,1686.8 1028.5,1631.0 1029.6,1568.9 1030.7,1513.1 1031.8,1474.4 1032.9,1460.6 1033.9,1474.5 1034.9,1513.5 1035.9,1569.8 1037.0,1632.3 1038.0,1688.6 1039.0,1727.6 1040.0,1741.5 1041.1,1726.2 1042.2,1683.4 1043.3,1621.5 1044.4,1552.9 1045.5,1491.0 1046.6,1448.2 1047.7,1432.9 1048.7,1455.5 1049.8,1517.2 1050.8,1601.6 1051.8,1686.0 1052.9,1747.7 1053.9,1770.3 1055.0,1758.1 1056.1,1723.3 1057.2,1671.3 1058.3,1609.9 1059.5,1548.5 1060.6,1496.5 1061.7,1461.7 1062.8,1449.5 1063.9,1461.0 1065.0,1493.2 1066.1,1539.8 1067.2,1591.5 1068.3,1638.1 1069.4,1670.3 1070.5,1681.8 1071.5,1679.4 1072.5,1672.5 1073.5,1661.6 1074.5,1647.5 1075.5,1631.5 1076.6,1614.8 1077.6,1598.8 1078.6,1584.7 1079.6,1573.8 1080.6,1566.9 1081.6,1564.5 1082.6,1569.2 1083.7,1582.6 1084.7,1603.2 1085.7,1628.5 1086.8,1655.4 1087.8,1680.7 1088.8,1701.3 1089.9,1714.7 1090.9,1719.4 1092.0,1704.7 1093.2,1663.6 1094.3,1604.2 1095.4,1538.2 1096.5,1478.8 1097.7,1437.7 1098.8,1423.0 1099.9,1436.4 1101.0,1474.5 1102.1,1531.6 1103.2,1598.8 1104.2,1666.1 1105.3,1723.2 1106.4,1761.3 1107.5,1774.7 1108.6,1757.1 1109.7,1707.9 1110.8,1636.7 1111.9,1557.6 1113.0,1486.4 1114.1,1437.2 1115.2,1419.6 1116.3,1443.5 1117.4,1508.9 1118.6,1598.2 1119.7,1687.6 1120.8,1753.0 1121.9,1776.9 1123.0,1758.4 1124.2,1706.5 1125.3,1631.6 1126.4,1548.3 1127.5,1473.4 1128.7,1421.5 1129.8,1403.0 1130.8,1416.1 1131.8,1453.6 1132.9,1509.5 1133.9,1575.6 1134.9,1641.7 1136.0,1697.6 1137.0,1735.1 1138.0,1748.2 1139.0,1741.2 1140.0,1721.1 1141.1,1691.2 1142.1,1655.8 1143.1,1620.4 1144.2,1590.5 1145.2,1570.4 1146.2,1563.4 1147.2,1567.7 1148.2,1579.8 1149.2,1597.9 1150.2,1619.3 1151.2,1640.7 1152.2,1658.8 1153.2,1670.9 1154.2,1675.2 1155.2,1671.6 1156.3,1661.2 1157.3,1645.3 1158.3,1625.8 1159.4,1605.1 1160.4,1585.6 1161.4,1569.7 1162.5,1559.3 1163.5,1555.7 1164.5,1559.5 1165.5,1570.4 1166.5,1587.8 1167.5,1610.0 1168.5,1635.4 1169.5,1661.8 1170.5,1687.2 1171.5,1709.4 1172.5,1726.8 1173.5,1737.7 1174.5,1741.5 1175.5,1731.5 1176.5,1703.0 1177.6,1660.3 1178.6,1609.9 1179.6,1559.5 1180.7,1516.8 1181.7,1488.3 1182.7,1478.3 1183.8,1496.2 1185.0,1545.0 1186.2,1611.6 1187.3,1678.2 1188.4,1727.0 1189.6,1744.9 1190.7,1731.9 1191.7,1695.3 1192.8,1642.5 1193.9,1584.0 1195.0,1531.2 1196.0,1494.6 1197.1,1481.6 1198.1,1494.9 1199.2,1532.0 1200.2,1585.7 1201.3,1645.2 1202.3,1698.9 1203.4,1736.0 1204.4,1749.3 1205.4,1736.6 1206.5,1701.0 1207.5,1649.5 1208.6,1592.4 1209.6,1540.9 1210.7,1505.3 1211.7,1492.6 1212.7,1501.3 1213.7,1525.7 1214.7,1561.0 1215.8,1600.1 1216.8,1635.4 1217.8,1659.8 1218.8,1668.5 1219.9,1661.4 1221.0,1642.9 1222.1,1620.0 1223.2,1601.5 1224.3,1594.4 1225.3,1599.3 1226.4,1612.9 1227.4,1632.7 1228.5,1654.6 1229.5,1674.4 1230.6,1688.0 1231.6,1692.9 1232.6,1687.6 1233.7,1672.5 1234.8,1649.9 1235.8,1623.2 1236.8,1596.5 1237.9,1573.9 1239.0,1558.8 1240.0,1553.5 1241.2,1570.3 1242.4,1611.0 1243.6,1651.7 1244.8,1668.5 1245.8,1663.6 1246.9,1650.2 1247.9,1632.0 1248.9,1613.8 1250.0,1600.4 1251.0,1595.5 1252.0,1599.9 1253.1,1612.5 1254.2,1631.4 1255.2,1653.6 1256.2,1675.8 1257.3,1694.7 1258.4,1707.3 1259.4,1711.7 1260.4,1704.6 1261.4,1684.6 1262.4,1655.8 1263.5,1623.8 1264.5,1595.0 1265.5,1575.0 1266.5,1567.9 1267.5,1572.0 1268.6,1583.1 1269.6,1598.3 1270.6,1613.5 1271.7,1624.6 1272.7,1628.7 1273.9,1621.5 1275.1,1602.7 1276.2,1579.5 1277.4,1560.7 1278.6,1553.5 1279.7,1559.3 1280.8,1575.1 1281.9,1596.6 1283.1,1618.2 1284.2,1634.0 1285.3,1639.8 1286.5,1635.4 1287.7,1623.7 1288.8,1609.4 1290.0,1597.7 1291.2,1593.3 1292.2,1599.5 1293.3,1617.0 1294.3,1642.3 1295.4,1670.4 1296.4,1695.7 1297.5,1713.2 1298.5,1719.4 1299.5,1706.8 1300.6,1671.5 1301.6,1620.5 1302.7,1563.9 1303.7,1512.9 1304.8,1477.6 1305.8,1465.0 1306.9,1479.0 1308.0,1518.3 1309.1,1575.1 1310.1,1638.1 1311.2,1694.9 1312.3,1734.2 1313.4,1748.2 1314.4,1734.8 1315.5,1697.2 1316.5,1642.9 1317.6,1582.5 1318.6,1528.2 1319.7,1490.6 1320.7,1477.2 1321.8,1490.5 1322.9,1527.8 1324.0,1581.7 1325.1,1641.5 1326.2,1695.4 1327.3,1732.7 1328.4,1746.0 1329.4,1731.0 1330.4,1688.9 1331.4,1628.2 1332.5,1560.7 1333.5,1500.0 1334.5,1457.9 1335.5,1442.9 1336.6,1451.0 1337.6,1474.3 1338.7,1510.1 1339.7,1554.0 1340.8,1600.6 1341.8,1644.5 1342.9,1680.3 1343.9,1703.6 1345.0,1711.7 1346.1,1706.5 1347.1,1691.4 1348.2,1668.3 1349.2,1639.9 1350.3,1609.8 1351.3,1581.4 1352.4,1558.3 1353.4,1543.2 1354.5,1538.0 1355.6,1542.3 1356.7,1554.6 1357.7,1573.4 1358.8,1596.5 1359.9,1621.1 1361.0,1644.2 1362.0,1663.0 1363.1,1675.3 1364.2,1679.6 1365.3,1671.3 1366.4,1648.0 1367.5,1614.3 1368.5,1576.8 1369.6,1543.1 1370.7,1519.8 1371.8,1511.5 1372.9,1524.1 1373.9,1559.4 1375.0,1610.4 1376.1,1667.0 1377.2,1718.0 1378.2,1753.3 1379.3,1765.9 1380.3,1754.2 1381.4,1720.5 1382.4,1668.8 1383.4,1605.5 1384.5,1538.0 1385.5,1474.7 1386.5,1423.0 1387.6,1389.3 1388.6,1377.6 1389.7,1402.7 1390.9,1471.3 1392.0,1565.1 1393.1,1658.8 1394.3,1727.5 1395.4,1752.6 1396.4,1740.7 1397.5,1706.7 1398.5,1656.0 1399.5,1596.0 1400.5,1536.1 1401.5,1485.4 1402.6,1451.4 1403.6,1439.5 1404.7,1455.3 1405.8,1499.7 1406.9,1563.8 1408.1,1634.9 1409.2,1699.0 1410.3,1743.4 1411.4,1759.2 1412.5,1747.1 1413.6,1712.7 1414.7,1661.2 1415.8,1600.5 1416.9,1539.8 1418.0,1488.3 1419.1,1453.9 1420.2,1441.8 1421.2,1451.9 1422.2,1480.5 1423.3,1523.4 1424.3,1573.9 1425.3,1624.5 1426.4,1667.4 1427.4,1696.0 1428.4,1706.1 1429.4,1702.3 1430.4,1691.3 1431.5,1674.2 1432.5,1652.6 1433.5,1628.7 1434.5,1604.8 1435.5,1583.2 1436.6,1566.1 1437.6,1555.1 1438.6,1551.3 1439.6,1560.6 1440.6,1586.7 1441.6,1624.4 1442.7,1666.2 1443.7,1703.9 1444.7,1730.0 1445.7,1739.3 1446.8,1727.6 1447.8,1694.1 1448.8,1644.0 1449.9,1585.0 1451.0,1526.0 1452.0,1475.9 1453.0,1442.4 1454.1,1430.7 1455.2,1443.2 1456.2,1478.8 1457.3,1532.1 1458.4,1595.0 1459.5,1657.8 1460.5,1711.1 1461.6,1746.7 1462.7,1759.2 1463.8,1747.5 1464.8,1714.2 1465.8,1664.3 1466.9,1605.5 1468.0,1546.6 1469.0,1496.7 1470.0,1463.4 1471.1,1451.7 1472.2,1470.5 1473.3,1522.0 1474.4,1592.2 1475.5,1662.5 1476.6,1713.9 1477.7,1732.7 1478.7,1727.8 1479.7,1713.5 1480.7,1691.2 1481.7,1663.2 1482.7,1632.1 1483.7,1600.9 1484.7,1572.9 1485.7,1550.6 1486.7,1536.3 1487.7,1531.4 1488.8,1545.3 1489.9,1583.4 1491.0,1635.3 1492.1,1687.3 1493.2,1725.4 1494.3,1739.3 1495.4,1734.5 1496.4,1720.5 1497.5,1698.7 1498.6,1671.3 1499.7,1640.9 1500.7,1610.4 1501.8,1583.0 1502.9,1561.2 1503.9,1547.2 1505.0,1542.4 1506.0,1546.5 1507.0,1558.3 1508.0,1575.9 1509.0,1596.6 1510.1,1617.3 1511.1,1634.9 1512.1,1646.7 1513.1,1650.8 1514.1,1649.4 1515.1,1645.4 1516.1,1639.0 1517.1,1630.7 1518.1,1621.4 1519.2,1611.6 1520.2,1602.3 1521.2,1594.0 1522.2,1587.6 1523.2,1583.6 1524.2,1582.2 1525.3,1587.3 1526.4,1601.8 1527.5,1622.6 1528.6,1645.8 1529.7,1666.6 1530.8,1681.1 1531.9,1686.2 1533.0,1673.3 1534.1,1638.1 1535.2,1590.0 1536.4,1541.9 1537.5,1506.7 1538.6,1493.8 1539.7,1510.5 1540.8,1554.2 1541.9,1608.1 1543.0,1651.8 1544.1,1668.5"/>
<polyline fill="none" stroke="#F5661A" stroke-width="3.4" stroke-linejoin="round" points="106.6,1549.1 106.6,1547.6 108.8,1569.2 110.0,1582.2 111.0,1585.2 113.2,1593.9 113.3,1593.3 115.4,1575.9 116.6,1564.5 117.6,1554.7 119.8,1540.5 121.0,1529.2 122.0,1526.4 124.2,1516.8 124.3,1518.1 126.4,1532.7 127.7,1542.4 128.6,1552.0 130.8,1580.7 132.1,1597.7 133.0,1609.2 135.2,1639.5 137.4,1673.5 137.6,1675.2 139.6,1640.1 140.9,1619.9 141.8,1605.1 144.0,1566.7 144.2,1564.5 146.2,1540.5 147.6,1522.5 148.4,1534.3 150.6,1571.8 150.9,1575.6 152.8,1589.2 154.2,1597.7 155.0,1580.0 157.2,1538.4 157.5,1531.4 159.4,1511.6 160.8,1496.0 161.6,1518.1 163.8,1574.7 164.2,1586.7 166.0,1631.8 167.5,1668.5 168.2,1658.8 170.4,1624.1 170.8,1619.9 172.6,1578.3 174.1,1546.8 174.8,1547.0 176.3,1544.6 177.0,1530.1 179.2,1490.4 179.2,1488.7 181.4,1542.1 181.9,1553.5 183.6,1582.2 183.6,1583.7 185.8,1545.3 187.4,1520.3 188.0,1512.3 190.2,1473.9 191.8,1447.3 192.4,1442.7 194.6,1428.0 196.8,1413.2 196.9,1410.8 199.0,1441.5 200.7,1465.0 201.2,1476.7 203.4,1527.6 204.0,1542.4 205.6,1594.8 207.3,1650.8 207.8,1637.6 210.0,1590.5 210.6,1575.6 212.2,1541.3 212.8,1529.2 214.4,1580.9 215.0,1597.7 216.6,1631.7 218.4,1668.5 218.8,1657.3 221.0,1602.4 221.7,1586.7 223.2,1550.1 225.0,1507.0 225.4,1507.4 227.6,1514.9 228.3,1515.9 229.8,1517.3 231.6,1520.3 232.0,1526.9 234.2,1563.4 235.0,1575.6 236.4,1573.7 238.3,1571.2 238.6,1569.7 240.8,1561.8 241.6,1560.1 243.0,1551.2 245.2,1534.9 246.0,1531.4 247.4,1540.3 249.3,1553.5 249.6,1559.3 251.8,1594.6 254.0,1626.6 254.9,1642.0 256.2,1631.9 258.2,1619.9 258.4,1617.4 260.6,1578.0 261.5,1564.5 262.8,1545.8 265.0,1511.2 265.9,1498.2 267.2,1512.6 269.2,1531.4 269.4,1532.7 271.6,1560.8 273.7,1586.7 273.8,1582.8 276.0,1523.1 277.0,1498.2 278.2,1529.8 279.2,1553.5 280.4,1573.8 282.5,1608.8 282.6,1610.4 284.8,1634.8 286.9,1659.7 287.0,1659.9 289.2,1631.0 290.3,1619.9 291.4,1604.3 293.6,1575.6 293.6,1577.6 295.8,1524.0 296.9,1500.4 298.0,1512.5 300.2,1531.4 300.2,1532.6 302.4,1597.6 303.5,1630.9 304.6,1622.4 306.8,1609.5 306.9,1608.8 309.0,1558.3 310.2,1531.4 311.2,1506.4 312.8,1462.8 313.4,1478.0 315.6,1534.3 316.8,1564.5 317.8,1597.0 319.0,1637.6 320.0,1627.0 322.2,1600.7 322.3,1597.7 324.4,1569.9 325.7,1553.5 326.6,1563.7 327.9,1575.6 328.8,1604.1 331.0,1675.4 331.2,1681.8 333.2,1567.1 333.4,1553.5 335.4,1435.0 335.6,1425.2 337.6,1448.6 339.8,1474.8 340.0,1476.1 342.0,1488.1 344.2,1500.4 345.6,1507.0 346.4,1509.3 348.6,1508.7 350.0,1511.5 350.8,1522.8 353.0,1551.4 353.3,1555.7 355.2,1527.0 357.4,1490.7 357.7,1487.1 359.6,1464.7 361.8,1440.3 362.2,1434.0 364.0,1450.1 365.5,1460.6 366.2,1473.0 368.4,1515.9 369.9,1542.4 370.6,1552.2 372.8,1589.8 375.0,1626.6 375.4,1633.1 377.2,1587.1 377.7,1575.6 379.4,1541.7 379.9,1529.2 381.6,1543.3 383.8,1560.9 384.3,1564.5 386.0,1577.4 387.6,1586.7 388.2,1573.6 390.4,1520.7 390.9,1509.2 392.6,1477.7 394.8,1437.2 396.5,1405.3 397.0,1415.8 399.2,1470.8 401.4,1524.9 402.1,1542.4 403.6,1547.6 405.8,1552.9 408.0,1562.2 408.8,1564.5 410.2,1576.8 412.4,1593.3 413.2,1597.7 414.6,1616.7 416.8,1649.2 419.0,1682.4 420.9,1708.4 421.2,1701.7 423.4,1641.6 424.2,1619.9 425.6,1587.5 427.8,1538.7 428.7,1520.3 430.0,1512.9 432.0,1498.2 432.2,1495.4 434.4,1443.6 435.3,1425.2 436.6,1419.9 438.8,1415.4 440.8,1409.7 441.0,1410.0 443.2,1403.0 445.3,1394.2 445.4,1393.8 447.6,1407.7 449.7,1420.7 449.8,1424.0 452.0,1480.2 454.1,1531.4 454.2,1532.3 456.3,1593.3 456.4,1591.5 458.6,1591.8 460.8,1593.3 460.8,1593.7 463.0,1624.0 464.1,1642.0 465.2,1657.5 467.4,1692.9 467.4,1694.2 469.6,1628.8 470.7,1597.7 471.8,1570.2 474.0,1509.2 474.0,1510.6 476.2,1459.1 476.9,1441.8 478.4,1490.1 479.6,1531.4 480.6,1559.4 482.8,1616.1 482.9,1619.9 485.0,1660.1 485.1,1664.1 487.2,1609.2 488.4,1575.6 489.4,1560.8 491.6,1523.1 491.7,1520.3 493.8,1531.0 493.9,1531.4 496.0,1537.2 497.3,1538.0 498.2,1563.2 499.5,1597.7 500.4,1615.8 501.7,1642.0 502.6,1662.0 503.9,1686.2 504.8,1659.0 506.1,1619.9 507.0,1615.4 507.9,1608.8 509.0,1781.4 509.2,1777.7 511.4,1715.6 511.6,1708.4 513.6,1691.3 513.8,1690.7 515.8,1606.4 517.2,1546.8 518.0,1577.2 519.8,1648.6 520.2,1645.9 522.4,1621.6 522.7,1619.9 524.6,1583.2 526.0,1553.5 526.8,1540.0 529.0,1510.1 530.4,1487.1 531.2,1475.2 533.1,1451.7 533.4,1452.0 535.6,1455.8 537.1,1456.1 537.8,1471.3 540.0,1521.3 540.4,1531.4 542.2,1568.4 543.7,1597.7 544.4,1589.2 545.9,1575.6 546.6,1609.0 548.1,1675.2 548.8,1678.8 550.4,1681.8 551.0,1677.2 553.2,1667.8 553.7,1664.1 555.4,1651.9 557.0,1642.0 557.6,1638.4 559.8,1624.9 560.3,1619.9 562.0,1609.6 563.6,1597.7 564.2,1592.9 566.4,1575.2 568.1,1564.5 568.6,1561.3 570.8,1555.4 571.4,1553.5 573.0,1565.4 574.7,1575.6 575.2,1590.5 577.4,1647.2 578.0,1664.1 579.6,1699.6 580.2,1712.8 581.8,1666.7 583.5,1619.9 584.0,1605.1 586.2,1550.8 586.9,1531.4 588.4,1499.3 590.2,1465.0 590.6,1459.3 592.8,1438.1 594.6,1420.7 595.0,1416.3 597.2,1401.9 599.4,1388.4 600.1,1383.1 601.6,1390.0 603.5,1398.6 603.8,1400.8 606.0,1418.1 607.9,1431.8 608.2,1433.9 610.4,1451.6 612.3,1465.0 612.6,1469.1 614.8,1483.0 616.7,1498.2 617.0,1500.1 619.2,1514.7 621.2,1531.4 621.4,1531.0 623.6,1513.7 624.5,1509.2 625.8,1505.5 627.8,1502.6 628.0,1498.8 630.2,1455.6 630.4,1452.8 632.4,1508.4 633.3,1531.4 634.6,1584.4 635.5,1619.9 636.8,1662.1 637.7,1688.4 639.0,1690.1 641.1,1692.9 641.2,1693.1 643.4,1703.9 644.4,1708.4 645.6,1683.5 647.7,1642.0 647.8,1639.3 650.0,1606.3 652.1,1575.6 652.2,1574.3 654.4,1552.8 656.6,1534.3 657.7,1522.5 658.8,1531.1 661.0,1553.5 661.0,1555.0 663.2,1628.2 664.3,1664.1 665.4,1691.6 667.2,1737.1 667.6,1728.7 669.8,1686.2 669.8,1687.2 672.0,1643.7 673.1,1619.9 674.2,1597.1 675.4,1575.6 676.4,1577.8 678.6,1584.4 678.7,1586.7 679.9,1509.2 680.8,1504.6 683.0,1488.7 684.3,1478.3 685.2,1518.7 687.4,1610.8 687.7,1624.3 689.6,1603.8 691.8,1581.7 693.2,1564.5 694.0,1570.3 696.2,1590.6 698.4,1606.0 698.7,1608.8 700.6,1622.3 702.0,1630.9 702.8,1626.5 705.0,1621.0 705.4,1619.9 707.2,1642.1 708.7,1664.1 709.4,1679.9 711.3,1728.3 711.6,1718.6 713.8,1662.6 714.2,1653.0 716.0,1675.5 717.1,1686.2 718.2,1631.0 719.7,1553.5 720.4,1511.6 722.4,1395.3 722.6,1394.5 724.8,1405.2 726.4,1409.7 727.0,1409.9 729.2,1420.3 731.4,1427.0 733.0,1431.8 733.6,1434.4 735.8,1439.5 738.0,1446.0 738.5,1447.3 740.2,1452.5 742.4,1459.6 743.0,1460.6 744.6,1481.8 745.2,1487.1 746.8,1567.9 747.4,1597.7 749.0,1599.6 751.2,1596.7 751.8,1597.7 753.4,1574.8 755.1,1553.5 755.6,1539.8 757.3,1487.1 757.8,1483.6 760.0,1475.5 760.7,1471.6 762.2,1468.0 763.3,1462.8 764.4,1478.9 766.2,1509.2 766.6,1516.5 768.4,1542.4 768.8,1538.9 771.0,1532.5 772.8,1524.7 773.2,1525.5 775.4,1529.3 777.3,1531.4 777.6,1537.6 779.8,1583.1 780.6,1597.7 782.0,1623.9 783.9,1664.1 784.2,1667.1 786.4,1676.9 787.2,1679.6 788.6,1679.4 790.5,1675.2 790.8,1671.5 793.0,1630.4 793.8,1615.4 795.2,1616.2 797.4,1615.6 799.4,1613.2 799.6,1611.2 801.8,1601.8 802.7,1597.7 804.0,1588.1 806.2,1568.5 807.8,1557.9 808.4,1568.1 810.6,1604.8 811.5,1619.9 812.8,1672.9 813.8,1712.8 815.0,1688.8 817.1,1646.4 817.2,1648.9 819.4,1693.2 819.7,1697.3 821.6,1647.4 822.6,1619.9 823.8,1590.2 826.0,1540.6 828.1,1491.5 828.2,1494.6 830.4,1549.5 831.5,1575.6 832.6,1605.5 834.8,1664.1 834.8,1665.1 837.0,1684.0 837.0,1683.8 839.2,1637.3 840.3,1615.4 841.4,1615.5 843.6,1618.5 844.7,1619.9 845.8,1624.4 848.0,1638.0 849.2,1642.0 850.2,1635.8 852.4,1625.0 853.6,1619.9 854.6,1602.4 856.8,1570.1 858.7,1540.2 859.0,1545.5 861.2,1585.9 862.4,1608.8 863.4,1610.1 865.6,1610.4 866.9,1608.8 867.8,1593.6 870.0,1548.3 871.3,1524.7 872.2,1538.2 874.4,1574.5 874.6,1575.6 876.6,1585.0 878.8,1597.9 879.0,1597.7 881.0,1608.2 883.2,1618.5 883.5,1619.9 885.4,1632.9 886.8,1642.0 887.6,1650.2 889.8,1666.6 890.1,1668.5 892.0,1504.8 892.3,1478.3 894.2,1486.9 895.6,1493.8 896.4,1497.7 898.6,1505.5 900.0,1509.2 900.8,1535.4 903.0,1607.0 903.4,1619.9 905.2,1664.3 906.0,1684.0 907.4,1657.4 908.9,1630.9 909.6,1634.3 911.8,1648.6 912.2,1650.8 914.0,1661.2 916.2,1673.7 916.6,1675.2 918.4,1661.9 920.6,1644.1 921.1,1642.0 922.8,1627.8 925.0,1610.6 925.5,1608.8 927.2,1595.5 929.4,1574.7 929.9,1571.2 931.6,1566.4 933.8,1565.1 934.3,1563.4 936.0,1569.9 937.7,1573.4 938.2,1579.9 940.4,1612.3 941.0,1619.9 942.6,1648.6 944.3,1681.8 944.8,1675.4 947.0,1639.3 947.6,1630.9 949.2,1582.7 950.9,1531.4 951.4,1528.0 953.6,1510.7 954.2,1507.0 955.8,1511.8 957.6,1520.3 958.0,1521.2 960.2,1521.2 962.1,1520.3 962.4,1519.4 964.6,1503.9 965.4,1500.4 966.8,1549.1 968.8,1619.9 969.0,1626.1 971.2,1688.2 972.1,1712.8 973.4,1693.8 975.6,1657.1 976.5,1642.0 977.8,1622.8 980.0,1592.4 980.9,1582.2 982.2,1596.7 984.2,1619.9 984.4,1620.2 986.5,1642.0 986.6,1643.1 988.8,1642.5 989.8,1642.0 991.0,1664.2 993.1,1703.9 993.2,1703.2 995.4,1677.8 996.4,1664.1 997.6,1646.5 999.8,1612.5 1000.8,1597.7 1002.0,1588.5 1004.2,1575.6 1004.2,1573.8 1006.4,1572.9 1008.6,1571.2 1008.6,1570.0 1010.8,1550.9 1013.0,1531.4 1013.0,1533.0 1015.2,1517.8 1016.3,1509.2 1017.4,1503.7 1019.6,1494.9 1019.6,1494.5 1021.8,1532.7 1023.0,1553.5 1024.0,1575.6 1026.2,1619.2 1026.3,1619.9 1028.4,1630.9 1030.3,1642.0 1030.6,1636.5 1032.8,1597.9 1032.9,1597.7 1035.0,1549.1 1037.2,1500.3 1037.3,1497.1 1039.4,1519.2 1040.7,1531.4 1041.6,1533.2 1043.8,1541.7 1044.0,1542.4 1046.0,1590.3 1047.3,1619.9 1048.2,1646.0 1050.4,1704.8 1050.6,1708.4 1052.6,1748.9 1052.8,1752.6 1054.8,1693.3 1055.0,1686.2 1057.0,1757.8 1057.7,1781.4 1059.2,1733.0 1060.6,1686.2 1061.4,1666.9 1063.6,1614.1 1063.9,1608.8 1065.8,1563.0 1067.2,1531.4 1068.0,1526.8 1069.4,1518.1 1070.2,1518.8 1072.4,1527.2 1074.6,1530.6 1075.0,1531.4 1076.8,1532.9 1079.0,1537.4 1081.2,1543.2 1081.6,1542.4 1083.4,1542.8 1085.6,1546.6 1087.8,1549.7 1090.0,1554.6 1090.4,1553.5 1092.2,1657.4 1092.7,1686.2 1094.4,1719.3 1094.9,1730.5 1096.6,1677.8 1097.1,1664.1 1098.8,1655.7 1099.3,1653.0 1101.0,1714.5 1101.5,1734.9 1103.2,1681.8 1103.7,1664.1 1105.4,1699.4 1105.9,1708.4 1107.6,1661.1 1109.2,1619.9 1109.8,1606.8 1112.0,1564.8 1112.6,1553.5 1114.2,1538.2 1116.4,1518.2 1117.0,1513.7 1118.6,1513.3 1120.8,1515.0 1121.4,1515.9 1123.0,1523.8 1124.7,1531.4 1125.2,1540.1 1127.4,1585.8 1128.1,1597.7 1129.6,1617.8 1131.4,1642.0 1131.8,1641.4 1134.0,1639.3 1134.7,1637.6 1136.2,1628.3 1138.0,1619.9 1138.4,1617.8 1140.6,1612.3 1141.3,1608.8 1142.8,1601.8 1144.6,1597.7 1145.0,1597.3 1147.2,1590.3 1149.1,1586.7 1149.4,1584.9 1151.6,1584.1 1153.5,1582.2 1153.8,1580.6 1156.0,1559.2 1157.9,1542.4 1158.2,1539.6 1160.4,1524.4 1161.2,1520.3 1162.6,1524.9 1163.9,1531.4 1164.8,1518.4 1166.1,1499.3 1167.0,1511.8 1169.0,1542.4 1169.2,1544.7 1171.4,1566.3 1172.3,1575.6 1173.6,1579.0 1175.6,1586.7 1175.8,1587.5 1178.0,1612.5 1178.9,1619.9 1180.2,1616.0 1182.3,1608.8 1182.4,1609.7 1184.6,1633.8 1185.6,1642.0 1186.8,1644.4 1188.9,1653.0 1189.0,1651.1 1191.2,1607.8 1192.2,1586.7 1193.4,1605.3 1195.5,1642.0 1195.6,1644.8 1197.7,1708.4 1197.8,1707.6 1200.0,1678.8 1201.1,1664.1 1202.2,1642.9 1203.3,1619.9 1204.4,1652.8 1205.5,1686.2 1206.6,1694.3 1208.8,1708.4 1208.8,1710.3 1211.0,1662.9 1212.1,1642.0 1213.2,1639.2 1215.4,1630.9 1215.4,1632.3 1217.6,1609.4 1218.8,1597.7 1219.8,1602.9 1222.0,1618.9 1222.1,1619.9 1224.2,1648.9 1225.4,1664.1 1226.4,1672.4 1228.6,1686.1 1228.7,1686.2 1230.8,1670.6 1232.0,1664.1 1233.0,1653.0 1235.2,1620.6 1235.4,1619.9 1237.4,1578.5 1238.7,1553.5 1239.6,1552.1 1239.9,1553.5 1241.8,1567.0 1243.2,1575.6 1244.0,1563.0 1246.2,1521.1 1246.5,1515.9 1248.4,1535.3 1249.9,1553.5 1250.6,1541.4 1252.8,1503.2 1253.2,1498.2 1255.0,1514.6 1256.5,1531.4 1257.2,1544.9 1258.7,1580.0 1259.4,1580.3 1261.6,1575.9 1262.0,1575.6 1263.8,1575.2 1266.0,1576.2 1266.5,1577.8 1268.2,1579.0 1269.8,1582.2 1270.4,1584.6 1272.6,1586.6 1274.2,1586.7 1274.8,1589.3 1277.0,1602.3 1278.0,1608.8 1279.2,1677.5 1281.1,1783.6 1281.4,1777.0 1283.6,1716.4 1284.2,1701.7 1285.8,1703.4 1287.5,1708.4 1288.0,1716.4 1290.2,1744.3 1290.8,1752.6 1292.4,1735.9 1294.1,1719.4 1294.6,1718.3 1296.8,1715.2 1297.4,1715.0 1299.0,1677.7 1299.6,1664.1 1301.2,1642.8 1303.0,1619.9 1303.4,1615.9 1305.6,1593.4 1306.3,1586.7 1307.8,1591.6 1309.6,1597.7 1310.0,1598.1 1312.2,1590.8 1312.9,1586.7 1314.4,1585.2 1316.6,1578.5 1317.3,1577.8 1318.8,1604.7 1319.6,1619.9 1321.0,1676.7 1321.8,1708.4 1323.2,1740.5 1324.0,1761.5 1325.4,1712.4 1326.2,1686.2 1327.6,1694.4 1328.4,1697.3 1329.8,1647.2 1330.6,1619.9 1332.0,1577.3 1334.2,1510.7 1335.0,1487.1 1336.4,1503.6 1338.4,1531.4 1338.6,1540.9 1340.6,1619.9 1340.8,1628.5 1342.8,1697.3 1343.0,1695.7 1345.2,1701.2 1346.1,1703.9 1347.4,1690.0 1349.4,1664.1 1349.6,1663.1 1351.8,1632.6 1352.7,1619.9 1354.0,1628.5 1356.1,1642.0 1356.2,1639.8 1358.4,1618.2 1359.4,1608.8 1360.6,1598.4 1362.7,1575.6 1362.8,1573.1 1365.0,1548.4 1366.0,1538.0 1367.2,1549.4 1369.3,1564.5 1369.4,1564.3 1371.6,1587.0 1372.7,1597.7 1373.8,1605.6 1376.0,1619.9 1376.0,1620.2 1378.2,1633.9 1379.3,1642.0 1380.4,1652.8 1382.6,1675.7 1383.7,1686.2 1384.8,1648.8 1387.0,1575.6 1387.0,1575.2 1389.2,1559.8 1390.4,1553.5 1391.4,1551.8 1393.6,1551.8 1394.8,1553.5 1395.8,1543.8 1398.0,1522.8 1398.1,1520.3 1400.2,1510.6 1401.0,1504.8 1402.4,1532.8 1403.6,1553.5 1404.6,1597.1 1406.8,1693.3 1406.9,1697.3 1409.0,1650.0 1410.3,1619.9 1411.2,1602.3 1413.4,1557.6 1414.7,1531.4 1415.6,1524.2 1417.8,1514.0 1419.1,1504.8 1420.0,1507.5 1422.2,1519.0 1422.4,1520.3 1424.4,1551.3 1425.8,1575.6 1426.6,1596.2 1428.8,1644.9 1429.1,1653.0 1431.0,1658.5 1432.4,1664.1 1433.2,1669.7 1435.4,1688.5 1435.7,1690.7 1437.6,1685.9 1439.0,1681.8 1439.8,1681.2 1442.0,1675.6 1443.5,1675.2 1444.2,1670.0 1446.4,1647.0 1446.8,1642.0 1448.6,1615.0 1450.8,1582.9 1451.2,1575.6 1453.0,1561.3 1455.2,1543.1 1456.7,1531.4 1457.4,1560.4 1459.6,1646.1 1460.0,1664.1 1461.8,1682.9 1463.4,1697.3 1464.0,1683.8 1466.2,1632.5 1466.7,1619.9 1468.4,1593.2 1470.0,1564.5 1470.6,1564.9 1472.8,1565.4 1473.3,1566.8 1475.0,1537.6 1476.6,1509.2 1477.2,1520.7 1479.4,1555.7 1480.0,1564.5 1481.6,1525.3 1483.3,1487.1 1483.8,1481.6 1486.0,1448.8 1487.7,1425.2 1488.2,1452.0 1490.4,1575.7 1491.0,1608.8 1492.6,1615.6 1494.3,1619.9 1494.8,1617.8 1497.0,1609.5 1497.7,1608.8 1499.2,1603.3 1501.0,1597.7 1501.4,1593.2 1503.6,1560.9 1504.3,1553.5 1505.8,1535.1 1507.6,1509.2 1508.0,1517.7 1510.2,1553.1 1510.9,1564.5 1512.4,1579.0 1514.2,1597.7 1514.6,1593.1 1516.8,1574.0 1517.6,1564.5 1519.0,1560.7 1520.9,1553.5 1521.2,1559.2 1523.4,1603.0 1524.2,1619.9 1525.6,1649.2 1527.5,1686.2 1527.8,1693.2 1530.0,1728.8 1530.8,1741.5 1532.2,1701.9 1534.2,1642.0 1534.4,1635.1 1536.6,1561.0 1537.5,1531.4 1538.8,1566.7 1540.8,1619.9 1541.0,1617.7 1543.2,1610.0 1544.1,1608.8"/>
</g>
<clipPath id="clipc"><rect x="107.1" y="1294.9" width="1438.2" height="508.8"/></clipPath>
<g><path d="M108.1 1297.9H1544.3" stroke="#1a1a1a" stroke-width="2.3" fill="none"/><path d="M108.1 1800.7H1544.3" stroke="#1a1a1a" stroke-width="2.3" fill="none"/><path d="M108.1 1297.9V1800.7" stroke="#1a1a1a" stroke-width="2.3" fill="none" stroke-linecap="square"/><path d="M1544.3 1296.9V1801.7" stroke="#D98A5A" stroke-width="1.6" fill="none"/><path d="M251.7 1297.9v14.5M251.7 1800.7v-14.5" stroke="#1a1a1a" stroke-width="2.3"/><path d="M395.3 1297.9v14.5M395.3 1800.7v-14.5" stroke="#1a1a1a" stroke-width="2.3"/><path d="M539.0 1297.9v14.5M539.0 1800.7v-14.5" stroke="#1a1a1a" stroke-width="2.3"/><path d="M682.6 1297.9v14.5M682.6 1800.7v-14.5" stroke="#1a1a1a" stroke-width="2.3"/><path d="M826.2 1297.9v14.5M826.2 1800.7v-14.5" stroke="#1a1a1a" stroke-width="2.3"/><path d="M969.8 1297.9v14.5M969.8 1800.7v-14.5" stroke="#1a1a1a" stroke-width="2.3"/><path d="M1113.4 1297.9v14.5M1113.4 1800.7v-14.5" stroke="#1a1a1a" stroke-width="2.3"/><path d="M1257.1 1297.9v14.5M1257.1 1800.7v-14.5" stroke="#1a1a1a" stroke-width="2.3"/><path d="M1400.7 1297.9v14.5M1400.7 1800.7v-14.5" stroke="#1a1a1a" stroke-width="2.3"/><path d="M108.1 1728.9h14.5M1544.3 1728.9h-14.5" stroke="#1a1a1a" stroke-width="2.3"/><path d="M108.1 1657.0h14.5M1544.3 1657.0h-14.5" stroke="#1a1a1a" stroke-width="2.3"/><path d="M108.1 1585.2h14.5M1544.3 1585.2h-14.5" stroke="#1a1a1a" stroke-width="2.3"/><path d="M108.1 1513.4h14.5M1544.3 1513.4h-14.5" stroke="#1a1a1a" stroke-width="2.3"/><path d="M108.1 1441.6h14.5M1544.3 1441.6h-14.5" stroke="#1a1a1a" stroke-width="2.3"/><path d="M108.1 1369.7h14.5M1544.3 1369.7h-14.5" stroke="#1a1a1a" stroke-width="2.3"/><path d="M1544.3 1297.9h-14.5" stroke="#DD7A45" stroke-width="1.8"/><path d="M1544.3 1376.2h-14.5" stroke="#DD7A45" stroke-width="1.8"/><path d="M1544.3 1454.5h-14.5" stroke="#DD7A45" stroke-width="1.8"/><path d="M1544.3 1532.8h-14.5" stroke="#DD7A45" stroke-width="1.8"/><path d="M1544.3 1611.1h-14.5" stroke="#DD7A45" stroke-width="1.8"/><path d="M1544.3 1689.4h-14.5" stroke="#DD7A45" stroke-width="1.8"/><path d="M1544.3 1767.7h-14.5" stroke="#DD7A45" stroke-width="1.8"/></g>
<g font-size="31" fill="#000"><text x="108.1" y="1835.8" text-anchor="middle">2000</text><text x="251.7" y="1835.8" text-anchor="middle">1800</text><text x="395.3" y="1835.8" text-anchor="middle">1600</text><text x="539.0" y="1835.8" text-anchor="middle">1400</text><text x="682.6" y="1835.8" text-anchor="middle">1200</text><text x="826.2" y="1835.8" text-anchor="middle">1000</text><text x="969.8" y="1835.8" text-anchor="middle">800</text><text x="1113.4" y="1835.8" text-anchor="middle">600</text><text x="1257.1" y="1835.8" text-anchor="middle">400</text><text x="1400.7" y="1835.8" text-anchor="middle">200</text><text x="1544.3" y="1835.8" text-anchor="middle">0</text><text x="98.6" y="1810.0" text-anchor="end">0</text><text x="98.6" y="1738.2" text-anchor="end">50</text><text x="98.6" y="1666.3" text-anchor="end">100</text><text x="98.6" y="1594.5" text-anchor="end">150</text><text x="98.6" y="1522.7" text-anchor="end">200</text><text x="98.6" y="1450.9" text-anchor="end">250</text><text x="98.6" y="1379.0" text-anchor="end">300</text><text x="98.6" y="1307.2" text-anchor="end">350</text></g>
<g font-size="31" fill="#D95319"><text x="1554.2" y="1307.2">-2</text><text x="1554.2" y="1385.5">-1.5</text><text x="1554.2" y="1463.8">-1</text><text x="1554.2" y="1542.1">-0.5</text><text x="1554.1" y="1620.4">0</text><text x="1554.1" y="1698.7">0.5</text><text x="1554.1" y="1777.0">1</text></g>
<text x="826.2" y="1281.6" text-anchor="middle" font-size="33.5" font-weight="bold" fill="#000">CESM NPP Mauretania</text>
<text x="815.7" y="1877.1" text-anchor="middle" font-size="33.5" font-weight="bold" fill="#000">Time (ka)</text>
<text transform="translate(34.8 1678.9) rotate(-90)" font-size="34" fill="#000" textLength="261.9" lengthAdjust="spacing">NPP (gC/m<tspan dy="-16" font-size="24">2</tspan><tspan dy="16">/year)</tspan></text>
<text transform="translate(1650.9 1795.3) rotate(-90)" font-size="34" fill="#D95319" textLength="493.2" lengthAdjust="spacing">Log ODP 659 Dust flux (g/cm<tspan dy="-16" font-size="24">2</tspan><tspan dy="16">/ka)</tspan></text>
<text x="164.5" y="1376.7" font-size="52" font-weight="bold" fill="#000">c)</text>
<g><line x1="251.6" y1="1928.8" x2="251.6" y2="2431.3" stroke="#262626" stroke-opacity="0.11" stroke-width="1.3"/><line x1="395.3" y1="1928.8" x2="395.3" y2="2431.3" stroke="#262626" stroke-opacity="0.11" stroke-width="1.3"/><line x1="538.9" y1="1928.8" x2="538.9" y2="2431.3" stroke="#262626" stroke-opacity="0.11" stroke-width="1.3"/><line x1="682.5" y1="1928.8" x2="682.5" y2="2431.3" stroke="#262626" stroke-opacity="0.11" stroke-width="1.3"/><line x1="826.1" y1="1928.8" x2="826.1" y2="2431.3" stroke="#262626" stroke-opacity="0.11" stroke-width="1.3"/><line x1="969.8" y1="1928.8" x2="969.8" y2="2431.3" stroke="#262626" stroke-opacity="0.11" stroke-width="1.3"/><line x1="1113.4" y1="1928.8" x2="1113.4" y2="2431.3" stroke="#262626" stroke-opacity="0.11" stroke-width="1.3"/><line x1="1257.0" y1="1928.8" x2="1257.0" y2="2431.3" stroke="#262626" stroke-opacity="0.11" stroke-width="1.3"/><line x1="1400.7" y1="1928.8" x2="1400.7" y2="2431.3" stroke="#262626" stroke-opacity="0.11" stroke-width="1.3"/><line x1="108.0" y1="2054.4" x2="1544.3" y2="2054.4" stroke="#C89870" stroke-opacity="0.16" stroke-width="1.3"/><line x1="108.0" y1="2180.1" x2="1544.3" y2="2180.1" stroke="#C89870" stroke-opacity="0.16" stroke-width="1.3"/><line x1="108.0" y1="2305.7" x2="1544.3" y2="2305.7" stroke="#C89870" stroke-opacity="0.16" stroke-width="1.3"/></g>
<g clip-path="url(#clipd)">
<polyline fill="none" stroke="#0000FF" stroke-width="3.9" stroke-linejoin="round" points="108.8,2072.9 108.8,2072.9 110.0,2117.1 111.0,2119.3 112.2,2121.5 113.2,2139.8 115.4,2181.0 115.5,2183.5 117.6,2225.4 117.7,2227.7 119.8,2256.6 120.4,2265.3 122.0,2206.4 123.2,2161.4 124.2,2140.0 125.4,2112.7 126.4,2091.2 127.7,2065.1 128.6,2081.5 129.9,2106.1 130.8,2128.7 132.1,2161.4 133.0,2183.1 135.2,2234.3 135.4,2238.8 137.4,2277.9 138.7,2303.0 139.6,2264.5 141.8,2169.6 142.0,2161.4 144.0,2149.7 144.2,2148.1 146.2,2153.2 147.6,2156.9 148.4,2165.9 149.8,2183.5 150.6,2196.3 152.0,2216.7 152.8,2203.5 155.0,2166.0 155.3,2161.4 157.2,2135.3 158.6,2117.1 159.4,2112.7 161.6,2097.4 161.9,2096.1 163.8,2098.3 164.6,2099.4 166.0,2147.3 166.4,2161.4 168.2,2252.0 168.6,2272.0 170.4,2235.2 171.9,2205.6 172.6,2189.0 174.8,2137.2 175.2,2128.2 177.0,2113.6 178.5,2102.7 179.2,2110.9 180.8,2128.2 181.4,2143.0 183.0,2183.5 183.6,2203.8 185.2,2260.9 185.8,2239.9 187.4,2183.5 188.0,2164.7 189.6,2117.1 190.2,2111.2 191.8,2097.2 192.4,2098.1 194.6,2100.8 195.1,2101.6 196.8,2130.7 197.3,2139.2 199.0,2180.9 200.0,2205.6 201.2,2233.8 202.9,2272.0 203.4,2273.9 205.1,2283.0 205.6,2258.9 207.8,2156.0 208.4,2128.2 210.0,2111.3 211.7,2092.8 212.2,2097.8 213.9,2117.1 214.4,2131.5 216.2,2183.5 216.6,2200.1 218.4,2274.2 218.8,2265.0 221.0,2210.8 221.2,2205.6 223.2,2165.0 223.9,2150.3 225.4,2143.6 226.5,2139.2 227.6,2134.3 229.4,2127.1 229.8,2133.5 231.6,2161.4 232.0,2167.0 234.2,2201.1 234.5,2205.6 236.4,2236.0 237.2,2249.9 238.6,2179.7 239.4,2139.2 240.8,2136.6 241.6,2134.8 243.0,2114.8 245.2,2084.6 245.6,2078.4 247.4,2128.7 247.8,2139.2 249.6,2185.3 250.4,2205.6 251.8,2229.6 253.3,2254.3 254.0,2235.4 256.0,2183.5 256.2,2180.1 258.2,2139.2 258.4,2138.4 260.4,2128.2 260.6,2130.7 262.8,2152.1 263.7,2161.4 265.0,2178.9 267.0,2205.6 267.2,2210.7 269.2,2254.3 269.4,2249.3 271.6,2188.8 272.6,2161.4 273.8,2137.2 275.9,2095.0 276.0,2094.6 278.2,2076.6 278.8,2071.8 280.4,2099.9 281.4,2117.1 282.6,2149.4 284.7,2205.6 284.8,2208.4 287.0,2258.9 287.6,2272.0 289.2,2232.6 290.3,2205.6 291.4,2188.3 292.5,2172.4 293.6,2156.7 295.1,2133.7 295.8,2146.0 298.0,2183.5 298.0,2183.8 300.2,2233.5 300.9,2249.9 302.4,2212.1 303.5,2183.5 304.6,2166.2 306.8,2129.8 306.9,2128.2 309.0,2113.5 310.2,2106.1 311.2,2122.2 313.4,2159.9 313.5,2161.4 315.6,2196.2 316.8,2216.7 317.8,2221.1 319.5,2229.9 320.0,2221.9 322.2,2185.1 322.3,2183.5 324.4,2180.3 325.7,2179.1 326.6,2171.7 328.8,2152.7 329.0,2150.3 331.0,2139.5 331.2,2139.2 333.2,2145.7 334.5,2150.3 335.4,2159.5 337.6,2182.1 337.8,2183.5 339.8,2203.4 340.0,2205.6 342.0,2185.8 342.3,2183.5 344.2,2157.8 345.6,2138.1 346.4,2143.9 348.6,2158.8 348.9,2161.4 350.8,2209.5 351.1,2216.7 353.0,2239.0 354.0,2249.9 355.2,2218.6 356.6,2183.5 357.4,2176.4 359.6,2156.8 360.0,2152.5 361.8,2149.6 363.3,2145.9 364.0,2149.3 366.2,2160.1 366.6,2161.4 368.4,2173.6 369.9,2183.5 370.6,2177.8 372.8,2160.8 373.2,2156.9 375.0,2172.0 376.5,2183.5 377.2,2188.1 379.4,2199.7 379.9,2203.4 381.6,2198.7 383.2,2194.5 383.8,2187.9 386.0,2163.0 386.5,2156.9 388.2,2175.8 389.8,2194.5 390.4,2193.2 392.6,2185.0 393.1,2183.5 394.8,2162.1 396.5,2139.2 397.0,2138.1 399.2,2129.2 401.0,2122.6 401.4,2127.7 403.6,2152.7 404.3,2161.4 405.8,2222.4 406.5,2249.9 408.0,2286.7 408.8,2307.4 410.2,2256.4 411.0,2227.7 412.4,2184.3 414.3,2123.8 414.6,2127.0 416.8,2143.6 417.6,2150.3 419.0,2146.4 419.8,2143.7 421.2,2174.2 423.1,2216.7 423.4,2222.9 425.4,2263.1 425.6,2256.0 427.8,2172.8 428.7,2139.2 430.0,2125.1 432.0,2102.7 432.2,2104.6 434.2,2117.1 434.4,2123.3 436.4,2183.5 436.6,2190.3 438.6,2249.9 438.8,2252.2 440.8,2280.8 441.0,2275.6 443.2,2212.5 444.2,2183.5 445.4,2171.2 446.4,2161.4 447.6,2156.4 449.7,2145.9 449.8,2147.1 452.0,2157.1 453.0,2161.4 454.2,2156.6 456.3,2150.3 456.4,2153.1 458.6,2204.8 459.6,2227.7 460.8,2238.1 462.3,2249.9 463.0,2234.4 465.2,2183.5 465.2,2183.5 467.4,2146.7 467.8,2139.2 469.6,2152.9 470.7,2161.4 471.8,2184.2 474.0,2227.7 474.0,2227.0 476.2,2289.7 476.2,2289.9 478.4,2207.1 479.6,2161.4 480.6,2136.3 481.8,2106.1 482.8,2081.9 484.4,2044.1 485.0,2042.9 487.2,2039.6 487.3,2038.6 489.4,2135.1 489.5,2139.2 491.6,2287.4 491.7,2294.1 493.3,2362.7 493.8,2344.0 496.0,2257.1 496.2,2249.9 498.2,2201.7 499.0,2183.5 500.4,2094.5 500.6,2081.7 502.6,2144.1 503.9,2183.5 504.8,2219.1 506.1,2272.0 507.0,2295.9 508.3,2329.5 509.2,2288.7 511.0,2205.6 511.4,2194.9 513.6,2134.5 513.8,2128.2 515.8,2064.4 516.1,2055.2 518.0,2084.3 519.4,2106.1 520.2,2129.7 522.4,2196.8 522.7,2205.6 524.6,2254.8 524.9,2263.1 526.8,2289.3 527.1,2294.1 529.0,2237.3 530.4,2194.5 531.2,2189.7 533.4,2174.4 533.8,2172.4 535.6,2168.7 537.5,2165.8 537.8,2168.9 540.0,2189.9 540.4,2194.5 542.2,2207.0 543.7,2216.7 544.4,2204.8 546.6,2167.9 547.0,2161.4 548.8,2147.6 551.0,2131.2 551.5,2128.2 553.2,2180.2 554.8,2227.7 555.4,2240.4 557.6,2288.5 558.8,2314.0 559.8,2280.5 561.4,2227.7 562.0,2211.1 564.2,2153.3 564.7,2139.2 566.4,2091.6 568.1,2044.1 568.6,2057.4 570.7,2117.1 570.8,2122.2 573.0,2222.3 573.6,2249.9 575.2,2281.7 575.8,2294.1 577.4,2241.0 579.1,2183.5 579.6,2175.6 581.8,2145.0 583.1,2126.0 584.0,2144.5 585.8,2183.5 586.2,2190.8 588.4,2235.1 589.1,2249.9 590.6,2210.2 592.4,2161.4 592.8,2156.9 595.0,2135.4 595.7,2128.2 597.2,2144.1 599.0,2161.4 599.4,2166.4 601.6,2196.3 602.3,2205.6 603.8,2212.9 605.7,2223.3 606.0,2222.7 608.2,2218.3 610.1,2214.5 610.4,2213.0 612.6,2208.1 613.4,2205.6 614.8,2195.9 616.7,2183.5 617.0,2181.5 619.2,2167.5 621.2,2154.7 621.4,2155.6 623.6,2167.7 624.5,2172.4 625.8,2166.4 628.0,2155.1 628.9,2150.3 630.2,2140.9 632.4,2124.7 634.4,2109.4 634.6,2112.0 636.8,2130.6 637.7,2139.2 639.0,2173.8 641.1,2227.7 641.2,2230.3 643.3,2294.1 643.4,2292.0 645.5,2249.9 645.6,2248.6 647.8,2202.9 648.8,2183.5 650.0,2170.9 652.1,2150.3 652.2,2152.7 654.4,2211.2 656.5,2267.6 656.6,2266.0 658.8,2225.2 659.9,2205.6 661.0,2183.9 663.2,2139.2 663.2,2139.6 665.4,2126.8 666.5,2121.5 667.6,2164.6 669.8,2249.9 669.8,2249.4 672.0,2289.7 672.0,2290.5 674.2,2220.7 675.4,2183.5 676.4,2181.5 677.6,2179.1 678.6,2190.8 680.8,2215.0 681.0,2216.7 683.0,2241.6 684.3,2256.5 685.2,2227.4 687.4,2158.2 687.7,2148.1 689.6,2140.2 689.9,2139.2 691.8,2176.9 693.2,2205.6 694.0,2237.7 695.4,2294.1 696.2,2311.6 698.1,2351.6 698.4,2338.0 700.6,2241.5 700.9,2227.7 702.8,2189.4 704.2,2161.4 705.0,2155.0 706.9,2137.0 707.2,2144.8 709.4,2195.6 709.8,2205.6 711.6,2230.4 712.0,2236.6 713.8,2190.1 715.3,2150.3 716.0,2145.7 718.0,2132.6 718.2,2135.0 720.4,2158.0 720.8,2161.4 722.6,2185.0 724.2,2205.6 724.8,2218.5 727.0,2261.7 727.5,2272.0 729.2,2265.6 730.8,2260.9 731.4,2255.5 733.6,2238.3 734.1,2234.4 735.8,2242.2 737.4,2249.9 738.0,2232.1 740.2,2168.4 740.8,2150.3 742.4,2140.2 744.5,2126.0 744.6,2127.4 746.8,2172.2 747.4,2183.5 749.0,2224.3 749.6,2238.8 751.2,2212.1 752.9,2183.5 753.4,2177.7 755.6,2149.3 756.7,2135.9 757.8,2145.3 759.6,2161.4 760.0,2172.6 762.2,2231.2 762.9,2249.9 764.4,2305.9 765.8,2358.3 766.6,2330.8 768.8,2252.0 769.5,2227.7 771.0,2152.0 771.7,2117.1 773.2,2075.1 773.9,2056.3 775.4,2096.5 776.2,2117.1 777.6,2173.9 779.5,2249.9 779.8,2259.3 782.0,2331.4 782.1,2333.9 784.2,2241.5 785.0,2205.6 786.4,2174.7 787.9,2141.5 788.6,2153.1 790.5,2183.5 790.8,2188.8 792.7,2227.7 793.0,2231.7 795.2,2264.4 795.4,2267.6 797.4,2209.8 798.3,2183.5 799.6,2171.7 801.6,2154.7 801.8,2155.7 804.0,2159.2 804.9,2161.4 806.2,2170.4 808.2,2183.5 808.4,2183.9 810.6,2195.9 812.7,2205.6 812.8,2206.5 815.0,2221.7 816.0,2227.7 817.2,2215.8 819.3,2194.5 819.4,2193.2 821.6,2170.4 823.1,2153.6 823.8,2166.8 825.9,2205.6 826.0,2206.5 828.2,2236.1 829.2,2249.9 830.4,2264.5 832.6,2289.1 833.0,2294.1 834.8,2239.3 835.9,2205.6 837.0,2166.5 838.1,2128.2 839.2,2132.4 841.4,2139.2 841.4,2139.1 843.6,2206.0 844.7,2238.8 845.8,2299.6 847.6,2398.1 848.0,2378.7 850.2,2277.1 850.3,2272.0 852.4,2201.4 853.6,2161.4 854.6,2127.9 856.5,2064.0 856.8,2078.0 859.0,2178.8 859.1,2183.5 861.2,2260.8 861.8,2283.0 863.4,2252.2 864.6,2227.7 865.6,2203.1 867.8,2151.5 868.4,2137.0 870.0,2155.8 871.3,2172.4 872.2,2181.2 874.4,2204.2 874.6,2205.6 876.6,2246.5 877.9,2272.0 878.8,2276.1 881.0,2288.0 881.2,2289.7 883.2,2253.3 884.6,2227.7 885.4,2216.7 887.6,2188.1 887.9,2183.5 889.8,2170.9 891.2,2161.4 892.0,2167.3 894.2,2181.6 894.5,2183.5 896.4,2207.5 898.6,2235.2 898.9,2238.8 900.8,2266.7 901.2,2272.0 903.0,2235.7 904.5,2205.6 905.2,2196.8 907.3,2168.0 907.4,2169.3 909.6,2190.6 910.0,2194.5 911.8,2237.3 913.3,2272.0 914.0,2300.2 915.5,2362.7 916.2,2339.2 918.4,2264.2 918.8,2249.9 920.6,2191.6 922.8,2119.3 922.8,2120.0 925.0,2172.4 925.5,2183.5 927.2,2218.1 928.8,2249.9 929.4,2253.1 931.0,2263.1 931.6,2248.5 933.8,2195.4 934.3,2183.5 936.0,2156.9 937.7,2129.3 938.2,2141.3 940.4,2192.2 941.0,2205.6 942.6,2228.2 944.3,2252.1 944.8,2242.4 947.0,2195.4 947.6,2183.5 949.2,2166.7 950.9,2150.3 951.4,2158.1 953.6,2194.8 954.2,2205.6 955.8,2238.9 957.6,2276.4 958.0,2285.4 958.8,2301.6 960.2,2279.5 962.1,2249.9 962.4,2244.1 963.9,2212.2 964.6,2228.6 966.5,2272.0 966.8,2277.6 969.0,2318.6 971.0,2357.2 971.2,2352.1 973.2,2294.1 973.4,2280.7 975.4,2150.3 975.6,2149.1 977.8,2143.7 978.7,2141.5 980.0,2167.4 982.0,2205.6 982.2,2209.0 984.2,2249.9 984.4,2245.7 986.6,2203.3 987.6,2183.5 988.8,2154.5 990.4,2117.1 991.0,2122.6 993.1,2139.2 993.2,2140.5 995.4,2176.5 995.8,2183.5 997.6,2209.8 998.6,2223.3 999.8,2205.3 1002.0,2173.6 1003.1,2156.9 1004.2,2169.3 1006.4,2193.1 1007.5,2205.6 1008.6,2198.8 1010.8,2185.4 1013.0,2171.4 1015.2,2156.9 1015.2,2156.8 1017.4,2192.4 1019.6,2227.7 1019.6,2228.3 1021.8,2299.4 1023.0,2338.4 1024.0,2364.8 1025.2,2395.9 1026.2,2352.1 1028.4,2255.0 1028.5,2249.9 1030.6,2197.8 1031.2,2183.5 1032.8,2220.9 1034.0,2249.9 1035.0,2263.2 1037.2,2293.0 1037.3,2294.1 1039.4,2225.5 1040.7,2183.5 1041.6,2161.7 1043.5,2117.1 1043.8,2111.5 1046.0,2068.7 1046.6,2057.4 1048.2,2078.9 1049.5,2095.0 1050.4,2140.4 1051.7,2205.6 1052.6,2274.5 1053.9,2373.8 1054.8,2341.2 1057.0,2260.9 1057.3,2249.9 1059.2,2186.2 1060.6,2139.2 1061.4,2133.1 1063.5,2118.2 1063.6,2120.1 1065.8,2175.9 1066.1,2183.5 1068.0,2234.1 1069.4,2272.0 1070.2,2252.7 1072.4,2201.7 1072.7,2194.5 1074.6,2182.8 1076.8,2168.8 1077.2,2165.8 1079.0,2170.1 1080.5,2172.4 1081.2,2174.1 1083.4,2180.4 1084.9,2183.5 1085.6,2197.4 1087.8,2241.6 1088.2,2249.9 1090.0,2327.2 1090.9,2364.9 1092.2,2313.8 1093.8,2249.9 1094.4,2226.0 1096.0,2161.4 1096.6,2150.0 1098.8,2107.2 1098.8,2107.7 1101.0,2152.0 1101.5,2161.4 1103.2,2212.4 1103.7,2227.7 1105.4,2307.1 1105.5,2311.8 1107.6,2225.7 1108.1,2205.6 1109.8,2150.4 1110.8,2117.1 1112.0,2101.9 1114.2,2071.3 1114.3,2070.7 1116.4,2106.6 1117.0,2117.1 1118.6,2196.9 1119.2,2227.7 1120.8,2341.7 1121.4,2384.8 1123.0,2308.6 1124.7,2227.7 1125.2,2202.8 1126.9,2117.1 1127.4,2106.1 1129.6,2055.0 1129.8,2050.7 1131.8,2100.3 1132.5,2117.1 1134.0,2177.8 1135.8,2249.9 1136.2,2262.0 1138.0,2316.2 1138.4,2299.1 1140.6,2202.9 1141.3,2172.4 1142.8,2177.0 1144.6,2183.5 1145.0,2186.9 1147.2,2209.6 1148.0,2216.7 1149.4,2230.8 1151.3,2249.9 1151.6,2257.0 1153.5,2298.5 1153.8,2292.6 1156.0,2245.3 1156.8,2227.7 1158.2,2199.0 1160.1,2161.4 1160.4,2158.6 1162.6,2139.7 1163.0,2135.9 1164.8,2153.4 1165.7,2161.4 1167.0,2169.9 1169.0,2183.5 1169.2,2189.0 1171.2,2249.9 1171.4,2255.8 1173.4,2316.2 1173.6,2308.8 1175.8,2235.5 1176.7,2205.6 1178.0,2196.0 1180.0,2181.3 1180.2,2182.7 1182.4,2190.2 1183.4,2194.5 1184.6,2236.8 1185.6,2272.0 1186.8,2305.3 1188.9,2362.7 1189.0,2359.1 1191.2,2284.1 1192.2,2249.9 1193.4,2225.1 1195.6,2178.4 1196.6,2156.9 1197.8,2189.3 1200.0,2249.9 1200.0,2249.2 1202.2,2336.1 1202.8,2360.5 1204.4,2295.1 1205.5,2249.9 1206.6,2212.2 1208.1,2161.4 1208.8,2158.3 1211.0,2145.9 1211.0,2145.2 1213.2,2170.6 1214.3,2183.5 1215.4,2204.2 1217.6,2247.3 1217.7,2249.9 1219.2,2258.7 1219.8,2242.0 1222.0,2177.8 1222.1,2174.6 1224.2,2194.0 1225.4,2205.6 1226.4,2235.3 1227.6,2272.0 1228.6,2307.4 1229.8,2349.4 1230.8,2332.0 1233.0,2295.1 1233.1,2294.1 1235.2,2286.5 1236.5,2283.0 1237.4,2279.4 1239.6,2271.6 1239.9,2269.8 1241.8,2245.7 1243.2,2227.7 1244.0,2217.5 1246.2,2187.9 1247.0,2178.0 1248.4,2191.3 1249.9,2205.6 1250.6,2203.7 1252.8,2200.1 1253.2,2199.0 1255.0,2231.3 1255.4,2238.8 1257.2,2248.3 1257.6,2249.9 1259.4,2214.2 1259.8,2205.6 1261.6,2169.9 1262.0,2161.4 1263.8,2143.0 1264.2,2139.2 1266.0,2156.8 1267.6,2172.4 1268.2,2175.4 1270.4,2188.2 1270.9,2190.1 1272.6,2179.4 1274.2,2168.0 1274.8,2171.5 1277.0,2180.5 1277.5,2183.5 1279.2,2189.9 1280.8,2194.5 1281.4,2188.4 1283.6,2167.5 1284.2,2161.4 1285.8,2157.5 1286.4,2156.9 1288.0,2136.0 1289.7,2113.8 1290.2,2130.2 1291.9,2183.5 1292.4,2203.1 1294.1,2272.0 1294.6,2293.0 1296.3,2364.9 1296.8,2354.8 1299.0,2306.6 1299.6,2294.1 1301.2,2242.0 1303.0,2183.5 1303.4,2170.6 1305.6,2105.2 1305.8,2098.3 1307.8,2177.3 1308.5,2205.6 1310.0,2257.8 1311.8,2320.7 1312.2,2307.1 1314.0,2249.9 1314.4,2236.7 1316.6,2162.6 1317.3,2139.2 1318.8,2134.8 1320.7,2128.2 1321.0,2139.5 1323.2,2220.6 1324.0,2249.9 1325.4,2282.9 1326.6,2311.8 1327.6,2275.3 1329.5,2205.6 1329.8,2197.2 1331.7,2139.2 1332.0,2137.6 1334.2,2129.3 1334.6,2128.2 1336.4,2150.9 1337.3,2161.4 1338.6,2178.5 1340.6,2205.6 1340.8,2207.3 1343.0,2222.3 1343.9,2227.7 1345.2,2209.9 1347.2,2183.5 1347.4,2181.7 1349.6,2162.6 1351.6,2143.7 1351.8,2144.7 1354.0,2155.8 1355.0,2161.4 1356.2,2177.5 1358.3,2205.6 1358.4,2206.7 1360.6,2236.0 1361.6,2249.9 1362.8,2245.8 1364.9,2238.8 1365.0,2235.8 1367.2,2173.5 1367.8,2156.9 1369.4,2143.2 1371.1,2129.3 1371.6,2139.7 1373.8,2183.5 1373.8,2183.1 1376.0,2272.0 1376.0,2272.7 1378.2,2382.6 1378.2,2381.9 1380.4,2294.1 1380.4,2294.9 1382.6,2173.6 1383.3,2134.8 1384.8,2103.9 1387.0,2059.6 1387.0,2060.3 1389.2,2102.6 1389.9,2117.1 1391.4,2177.5 1392.1,2205.6 1393.6,2252.8 1394.8,2289.7 1395.8,2251.0 1397.0,2205.6 1398.0,2180.4 1399.6,2139.2 1400.2,2131.2 1402.4,2103.5 1403.2,2092.8 1404.6,2141.8 1405.8,2183.5 1406.8,2222.3 1408.1,2272.0 1409.0,2348.5 1409.6,2400.3 1411.2,2329.0 1412.5,2272.0 1413.4,2235.0 1415.6,2148.0 1415.8,2139.2 1417.8,2117.4 1420.0,2092.5 1420.2,2090.6 1422.2,2155.1 1422.4,2161.4 1424.4,2201.9 1424.6,2205.6 1426.6,2251.3 1427.5,2272.0 1428.8,2256.6 1431.0,2231.7 1431.3,2227.7 1433.2,2206.7 1434.6,2192.3 1435.4,2198.0 1437.6,2214.9 1437.9,2216.7 1439.8,2247.9 1441.2,2272.0 1442.0,2295.8 1444.2,2359.9 1444.6,2371.5 1446.4,2316.4 1447.9,2272.0 1448.6,2251.3 1450.1,2205.6 1450.8,2184.8 1453.0,2121.3 1454.1,2088.4 1455.2,2110.2 1456.7,2139.2 1457.4,2171.9 1459.6,2275.6 1460.0,2294.1 1461.8,2271.1 1463.4,2249.9 1464.0,2219.7 1465.6,2139.2 1466.2,2137.0 1468.4,2129.8 1469.6,2124.9 1470.6,2139.4 1472.2,2161.4 1472.8,2174.2 1475.0,2217.0 1476.6,2249.9 1477.2,2237.7 1479.4,2195.8 1480.0,2183.5 1481.6,2136.2 1482.2,2119.3 1483.8,2129.1 1485.5,2139.2 1486.0,2146.3 1488.2,2175.2 1488.8,2183.5 1490.4,2231.9 1491.0,2249.9 1492.6,2308.5 1493.9,2356.1 1494.8,2342.6 1496.5,2316.2 1497.0,2302.5 1499.2,2246.3 1499.9,2227.7 1501.4,2215.7 1503.2,2201.2 1503.6,2200.8 1505.8,2194.1 1506.5,2192.3 1508.0,2197.6 1509.8,2205.6 1510.2,2204.8 1512.4,2196.5 1513.1,2194.5 1514.6,2187.8 1516.8,2176.4 1517.6,2172.4 1519.0,2181.2 1520.9,2194.5 1521.2,2195.4 1523.1,2205.6 1523.4,2211.3 1525.6,2255.7 1526.4,2272.0 1527.8,2319.0 1529.3,2369.3 1530.0,2354.5 1531.9,2316.2 1532.2,2302.4 1534.4,2201.6 1535.3,2161.4 1536.6,2178.0 1538.6,2205.6 1538.8,2205.1 1541.0,2205.6 1541.9,2205.6 1543.2,2222.5 1544.1,2234.4"/>
<polyline fill="none" stroke="#F5661A" stroke-width="3.8" stroke-linejoin="round" points="106.6,2298.5 106.6,2297.3 108.8,2293.0 110.0,2289.7 111.0,2295.7 113.2,2305.6 113.7,2309.6 115.4,2274.1 116.6,2249.9 117.6,2219.2 119.8,2153.5 120.4,2137.0 122.0,2156.9 123.2,2172.4 124.2,2172.2 126.4,2172.5 126.5,2172.4 128.6,2180.6 129.9,2183.5 130.8,2192.6 133.0,2214.0 133.2,2216.7 135.2,2256.4 136.5,2283.0 137.4,2301.5 139.6,2347.2 139.8,2351.6 141.8,2316.4 143.1,2294.1 144.0,2290.8 146.2,2282.7 146.5,2283.0 148.4,2240.6 149.8,2210.0 150.6,2218.3 152.8,2245.1 153.1,2249.9 155.0,2259.3 156.4,2267.6 157.2,2257.0 159.4,2229.8 159.7,2227.7 161.6,2213.5 163.8,2198.2 164.2,2196.8 166.0,2258.7 166.4,2272.0 168.1,2373.8 168.2,2370.1 170.4,2295.3 170.8,2283.0 172.6,2249.8 174.8,2213.5 175.2,2205.6 177.0,2187.6 179.2,2169.3 179.6,2164.7 181.4,2180.7 183.0,2194.5 183.6,2199.4 185.8,2213.3 186.3,2216.7 188.0,2218.0 190.2,2219.2 190.7,2218.9 192.4,2220.8 194.6,2222.3 195.1,2223.3 196.8,2248.8 198.5,2272.0 199.0,2280.0 201.2,2314.7 202.2,2329.5 203.4,2311.6 205.1,2283.0 205.6,2275.9 207.8,2247.4 208.4,2238.8 210.0,2229.3 211.7,2221.1 212.2,2243.5 213.9,2316.2 214.4,2331.3 216.2,2382.6 216.6,2387.0 218.8,2408.5 219.5,2415.8 221.0,2416.6 222.8,2415.8 223.2,2411.1 225.4,2390.8 226.1,2382.6 227.6,2334.0 228.8,2294.1 229.8,2260.2 231.6,2203.4 232.0,2213.4 233.8,2249.9 234.2,2261.7 236.1,2316.2 236.4,2319.9 238.6,2336.8 238.9,2338.4 240.8,2308.6 241.6,2294.1 243.0,2256.0 244.9,2203.4 245.2,2208.6 247.4,2256.6 248.2,2272.0 249.6,2299.3 251.5,2338.4 251.8,2345.3 253.8,2387.0 254.0,2385.2 256.2,2380.3 257.1,2378.2 258.4,2378.2 259.7,2376.0 260.6,2369.9 262.6,2360.5 262.8,2357.1 265.0,2305.6 265.5,2294.1 267.2,2261.5 268.6,2232.2 269.4,2239.3 271.6,2252.3 272.6,2260.9 273.8,2267.7 275.9,2276.4 276.0,2276.5 278.2,2272.6 279.2,2272.0 280.4,2274.9 282.5,2283.0 282.6,2283.5 284.8,2326.6 285.4,2338.4 287.0,2371.1 288.1,2393.7 289.2,2366.8 291.4,2316.2 291.4,2315.2 293.6,2289.9 295.1,2274.2 295.8,2285.2 298.0,2316.2 298.0,2316.8 300.2,2356.7 301.3,2378.2 302.4,2376.6 304.6,2378.2 304.6,2378.5 306.8,2353.6 308.0,2338.4 309.0,2339.6 310.2,2338.4 311.2,2354.5 312.8,2382.6 313.4,2389.4 315.6,2419.6 315.7,2422.4 317.8,2430.4 319.0,2433.5 320.0,2395.0 321.2,2349.4 322.2,2295.3 322.3,2289.7 324.4,2289.6 325.7,2287.5 326.6,2287.5 328.8,2285.7 330.1,2285.3 331.0,2285.6 333.2,2282.9 335.4,2282.2 335.6,2283.0 337.6,2279.8 338.5,2278.6 339.8,2295.6 341.2,2311.8 342.0,2312.1 344.2,2315.6 344.5,2316.2 346.4,2316.4 347.8,2316.2 348.6,2304.0 350.8,2274.9 351.1,2272.0 353.0,2258.4 354.4,2249.9 355.2,2247.2 357.4,2239.3 357.7,2238.8 359.6,2229.0 361.1,2221.1 361.8,2227.0 364.0,2245.9 364.4,2249.9 366.2,2273.5 367.7,2294.1 368.4,2288.0 369.9,2272.0 370.6,2258.3 372.1,2227.7 372.8,2219.7 374.3,2205.6 375.0,2207.3 377.2,2208.7 377.7,2210.0 379.4,2214.9 381.0,2216.7 381.6,2219.4 383.8,2227.1 384.3,2227.7 386.0,2244.4 386.5,2249.9 388.2,2245.5 389.8,2238.8 390.4,2236.9 392.6,2223.6 393.1,2221.1 394.8,2279.9 396.5,2338.4 397.0,2340.4 399.2,2348.2 399.9,2351.6 401.4,2331.4 403.6,2303.3 404.3,2294.1 405.8,2276.3 407.7,2254.3 408.0,2255.4 410.2,2275.5 411.0,2283.0 412.4,2273.6 414.3,2260.9 414.6,2258.7 416.8,2253.5 418.7,2249.9 419.0,2252.9 421.2,2283.4 422.0,2294.1 423.4,2304.1 425.4,2316.2 425.6,2311.5 427.8,2266.7 428.7,2249.9 430.0,2244.0 430.9,2238.8 432.2,2260.8 434.2,2294.1 434.4,2299.6 436.6,2341.4 437.5,2358.3 438.8,2341.2 440.8,2316.2 441.0,2314.0 443.2,2307.6 444.2,2305.2 445.4,2297.3 447.5,2283.0 447.6,2282.1 449.8,2244.5 450.8,2227.7 452.0,2216.0 453.0,2203.4 454.2,2212.0 456.3,2227.7 456.4,2232.8 458.5,2311.8 458.6,2311.9 460.8,2298.5 461.9,2294.1 463.0,2287.4 465.2,2272.0 465.2,2273.3 467.4,2266.1 468.5,2260.9 469.6,2243.6 471.8,2205.6 471.8,2207.1 474.0,2205.4 474.7,2205.6 476.2,2218.6 477.3,2227.7 478.4,2249.4 479.6,2272.0 480.6,2292.8 481.8,2316.2 482.8,2338.0 484.4,2369.3 485.0,2362.9 487.2,2339.3 487.3,2338.4 489.4,2331.9 490.6,2327.3 491.6,2338.6 492.8,2349.4 493.8,2358.8 495.0,2367.1 496.0,2368.4 498.2,2371.6 498.4,2371.5 500.4,2283.9 501.2,2249.9 502.6,2199.1 502.8,2192.3 504.8,2213.5 506.1,2227.7 507.0,2246.6 508.3,2272.0 509.2,2259.7 511.4,2231.2 511.6,2227.7 513.6,2198.1 513.8,2194.5 515.8,2175.1 516.1,2172.4 518.0,2205.7 519.4,2227.7 520.2,2244.0 522.4,2287.7 522.7,2294.1 524.6,2314.9 526.0,2331.7 526.8,2311.2 529.0,2256.7 529.3,2249.9 531.2,2181.5 532.7,2128.2 533.4,2121.7 535.6,2099.7 536.6,2088.4 537.8,2095.5 539.3,2106.1 540.0,2109.1 542.2,2115.8 542.6,2117.1 544.4,2190.7 544.8,2205.6 546.6,2258.8 547.0,2272.0 548.8,2252.6 549.2,2249.9 551.0,2240.7 551.5,2238.8 553.2,2200.4 554.8,2161.4 555.4,2152.7 557.6,2115.8 558.1,2106.1 559.8,2122.4 561.4,2139.2 562.0,2142.0 564.2,2149.6 564.7,2150.3 566.4,2153.1 568.6,2160.3 569.2,2161.4 570.8,2148.0 573.0,2130.2 573.6,2123.8 575.2,2184.8 575.8,2205.6 577.3,2342.8 577.4,2340.4 579.6,2294.2 580.2,2283.0 581.8,2280.1 583.5,2276.4 584.0,2278.9 586.2,2289.1 586.9,2294.1 588.4,2274.8 590.2,2249.9 590.6,2240.0 592.8,2180.8 593.5,2161.4 595.0,2139.7 596.8,2117.1 597.2,2117.3 599.4,2114.7 599.5,2114.9 601.6,2181.4 602.3,2205.6 603.8,2255.9 604.6,2283.0 606.0,2300.9 606.8,2311.8 608.2,2295.4 610.1,2272.0 610.4,2274.5 612.6,2279.6 613.4,2283.0 614.8,2291.1 616.7,2300.7 617.0,2294.9 619.2,2246.3 620.0,2227.7 621.4,2210.7 623.4,2183.5 623.6,2179.6 625.8,2119.2 626.0,2114.9 628.0,2146.7 628.9,2161.4 630.2,2195.3 632.2,2249.9 632.4,2254.0 634.6,2297.3 635.5,2316.2 636.8,2303.8 638.8,2283.0 639.0,2286.6 641.2,2322.4 642.2,2338.4 643.4,2340.7 645.5,2342.8 645.6,2337.7 647.7,2249.9 647.8,2246.3 650.0,2181.8 651.0,2150.3 652.2,2149.3 654.4,2145.6 655.4,2145.9 656.6,2136.8 658.8,2117.1 658.8,2117.3 661.0,2101.8 661.4,2097.2 663.2,2116.2 664.3,2128.2 665.4,2176.4 666.5,2227.7 667.6,2249.5 668.7,2272.0 669.8,2249.8 672.0,2205.6 672.0,2207.0 674.2,2198.2 675.4,2194.5 676.4,2196.0 678.6,2202.6 679.9,2205.6 680.8,2210.7 683.0,2226.2 683.2,2227.7 685.2,2237.0 687.4,2249.0 687.7,2249.9 689.6,2231.1 691.0,2216.7 691.8,2198.1 694.0,2151.0 695.0,2130.4 696.2,2145.4 698.4,2167.7 698.7,2172.4 700.6,2184.9 702.0,2194.5 702.8,2192.5 705.0,2186.0 705.4,2183.5 707.2,2182.4 708.7,2183.5 709.4,2183.7 711.6,2185.8 713.1,2187.9 713.8,2180.6 716.0,2156.0 716.4,2152.5 718.2,2194.1 719.7,2227.7 720.4,2227.5 722.6,2221.1 724.2,2216.7 724.8,2227.2 727.0,2264.7 727.5,2272.0 729.2,2304.8 730.4,2327.3 731.4,2325.8 733.6,2324.4 734.1,2322.9 735.8,2324.3 737.4,2327.3 738.0,2330.2 739.6,2336.1 740.2,2314.5 741.9,2249.9 742.4,2236.6 744.6,2183.5 745.2,2168.0 746.8,2178.9 747.4,2183.5 749.0,2214.7 750.7,2249.9 751.2,2252.0 753.4,2267.3 754.0,2272.0 755.6,2274.4 757.3,2276.4 757.8,2269.5 760.0,2248.8 761.8,2227.7 762.2,2221.6 764.4,2178.1 766.2,2145.9 766.6,2151.7 768.8,2176.8 769.5,2183.5 771.0,2202.8 772.8,2227.7 773.2,2221.1 775.4,2176.9 776.2,2161.4 777.6,2134.5 779.0,2106.1 779.8,2141.5 781.7,2227.7 782.0,2235.9 784.2,2294.5 785.0,2316.2 786.4,2355.3 787.2,2376.0 788.6,2360.7 790.5,2338.4 790.8,2337.3 793.0,2321.3 793.8,2316.2 795.2,2307.4 797.2,2294.1 797.4,2290.4 799.6,2261.5 800.5,2249.9 801.8,2214.8 803.8,2161.4 804.0,2162.9 806.2,2168.1 807.1,2172.4 808.4,2176.4 810.4,2183.5 810.6,2184.6 812.8,2199.5 813.8,2205.6 815.0,2225.6 817.1,2260.9 817.2,2260.3 819.4,2256.3 821.5,2249.9 821.6,2249.1 823.8,2262.3 824.8,2267.6 826.0,2171.9 828.1,2004.3 828.2,2009.4 830.4,2099.6 830.8,2117.1 832.6,2186.9 833.7,2227.7 834.8,2217.0 837.0,2194.5 837.0,2193.6 839.2,2186.7 839.6,2183.5 841.4,2122.9 842.5,2088.4 843.6,2143.1 845.8,2249.9 845.8,2248.8 848.0,2250.0 849.8,2249.9 850.2,2259.5 852.4,2314.4 852.5,2316.2 854.6,2310.7 855.8,2305.2 856.8,2249.5 859.0,2127.4 860.2,2060.7 861.2,2117.4 862.4,2183.5 863.4,2222.9 865.6,2308.9 865.8,2316.2 867.8,2275.1 869.1,2249.9 870.0,2258.4 872.2,2281.9 872.4,2283.0 874.4,2290.1 875.7,2294.1 876.6,2297.8 878.8,2310.9 879.0,2311.8 881.0,2307.3 882.3,2305.2 883.2,2325.0 885.2,2367.1 885.4,2357.3 887.6,2243.6 887.9,2227.7 889.8,2202.1 891.2,2183.5 892.0,2168.5 894.1,2130.4 894.2,2131.6 896.4,2177.4 896.7,2183.5 898.6,2272.0 900.0,2338.4 900.8,2339.3 903.0,2343.1 903.4,2345.0 905.2,2303.7 906.7,2272.0 907.4,2281.4 909.6,2311.1 910.0,2316.2 911.8,2305.0 913.3,2294.1 914.0,2296.3 916.2,2305.1 916.6,2305.2 918.4,2288.6 920.0,2272.0 920.6,2264.0 922.8,2233.8 923.3,2227.7 925.0,2192.7 926.6,2161.4 927.2,2155.3 929.4,2128.7 930.4,2114.9 931.6,2122.6 933.8,2135.4 934.3,2139.2 936.0,2160.8 937.7,2183.5 938.2,2174.4 940.4,2129.8 941.0,2117.1 942.6,2099.6 944.3,2079.5 944.8,2090.5 947.0,2135.9 947.6,2150.3 949.2,2175.7 950.9,2205.6 951.4,2190.7 953.6,2118.1 954.2,2099.4 955.8,2114.3 957.6,2128.2 958.0,2123.8 960.2,2103.8 961.0,2097.2 962.4,2134.4 964.3,2183.5 964.6,2183.0 966.8,2190.5 967.7,2194.5 969.0,2226.1 971.0,2272.0 971.2,2271.9 973.4,2289.7 974.3,2296.3 975.6,2295.3 977.6,2294.1 977.8,2290.5 979.8,2272.0 980.0,2262.0 982.2,2170.2 983.1,2130.4 984.4,2151.1 986.5,2183.5 986.6,2182.8 988.8,2151.5 989.8,2139.2 991.0,2156.2 993.1,2183.5 993.2,2182.2 995.4,2159.2 996.4,2150.3 997.6,2141.3 999.7,2128.2 999.8,2128.4 1002.0,2126.4 1003.1,2123.8 1004.2,2144.6 1006.4,2183.5 1006.4,2184.7 1008.6,2249.9 1008.6,2250.3 1009.7,2316.2 1010.8,2261.4 1011.9,2205.6 1013.0,2161.4 1015.2,2070.7 1015.2,2072.1 1017.4,2093.0 1018.5,2106.1 1019.6,2120.5 1020.8,2139.2 1021.8,2159.0 1023.0,2183.5 1024.0,2202.6 1025.2,2227.7 1026.2,2267.7 1027.4,2316.2 1028.4,2331.9 1028.9,2338.4 1030.6,2325.8 1031.8,2316.2 1032.8,2303.0 1035.0,2273.1 1035.1,2272.0 1037.2,2202.6 1038.5,2161.4 1039.4,2134.0 1041.6,2067.1 1041.8,2061.8 1043.8,2068.0 1045.1,2072.9 1046.0,2083.5 1048.2,2103.3 1048.4,2106.1 1050.4,2132.4 1051.7,2150.3 1052.6,2153.8 1054.8,2160.3 1055.0,2161.4 1057.0,2155.0 1058.4,2150.3 1059.2,2180.0 1060.6,2227.7 1061.4,2255.7 1062.8,2305.2 1063.6,2304.5 1065.0,2305.2 1065.8,2296.6 1068.0,2276.0 1068.3,2272.0 1070.2,2292.5 1070.5,2294.1 1072.4,2317.4 1072.7,2322.9 1074.6,2281.2 1075.0,2272.0 1076.8,2240.7 1078.3,2216.7 1079.0,2213.7 1081.2,2205.5 1081.6,2205.6 1083.4,2241.9 1084.9,2272.0 1085.6,2269.5 1087.8,2263.4 1088.2,2260.9 1090.0,2277.4 1091.5,2294.1 1092.2,2299.7 1093.8,2316.2 1094.4,2293.3 1096.0,2227.7 1096.6,2223.9 1098.8,2207.6 1099.3,2205.6 1101.0,2192.6 1102.6,2183.5 1103.2,2180.5 1105.4,2173.1 1105.5,2172.4 1107.6,2191.5 1108.1,2194.5 1109.8,2211.5 1111.5,2227.7 1112.0,2226.6 1114.2,2220.2 1114.8,2216.7 1116.4,2226.9 1118.1,2238.8 1118.6,2240.5 1120.8,2249.8 1121.0,2249.9 1123.0,2235.8 1123.6,2232.2 1125.2,2240.3 1126.9,2249.9 1127.4,2240.0 1129.6,2196.5 1130.3,2183.5 1131.8,2160.3 1133.6,2130.4 1134.0,2132.2 1136.2,2146.7 1136.9,2150.3 1138.4,2180.0 1139.1,2194.5 1140.6,2219.5 1142.4,2249.9 1142.8,2251.0 1145.0,2249.0 1145.8,2249.9 1147.2,2245.7 1149.1,2238.8 1149.4,2240.3 1151.6,2254.7 1152.4,2260.9 1153.8,2257.4 1155.7,2249.9 1156.0,2246.4 1158.2,2224.5 1159.0,2216.7 1160.4,2207.0 1162.3,2194.5 1162.6,2191.7 1164.8,2179.7 1165.7,2172.4 1167.0,2178.3 1169.2,2188.9 1170.1,2194.5 1171.4,2199.7 1173.4,2205.6 1173.6,2207.7 1175.8,2215.2 1176.7,2216.7 1178.0,2231.3 1180.0,2249.9 1180.2,2250.8 1182.4,2250.6 1183.4,2249.9 1184.6,2226.1 1186.7,2183.5 1186.8,2183.4 1189.0,2174.7 1190.0,2172.4 1191.2,2189.3 1193.3,2216.7 1193.4,2218.9 1195.6,2238.6 1196.6,2249.9 1197.8,2231.0 1200.0,2194.5 1200.0,2195.5 1202.2,2143.7 1202.2,2143.9 1204.4,2170.6 1205.5,2183.5 1206.6,2222.9 1207.7,2260.9 1208.8,2249.4 1211.0,2227.7 1211.0,2226.7 1213.2,2214.5 1214.3,2205.6 1215.4,2199.7 1217.6,2185.7 1217.7,2183.5 1219.8,2182.9 1221.0,2183.5 1222.0,2190.8 1224.2,2205.6 1224.3,2205.6 1226.4,2218.7 1227.6,2227.7 1228.6,2232.9 1230.8,2248.7 1230.9,2249.9 1233.0,2280.5 1233.1,2283.0 1235.2,2274.9 1236.5,2272.0 1237.4,2247.1 1238.8,2210.0 1239.6,2211.7 1241.8,2216.5 1242.1,2216.7 1244.0,2243.2 1246.2,2277.0 1246.5,2280.8 1248.4,2214.0 1249.9,2161.4 1250.6,2144.5 1252.8,2094.7 1253.2,2083.9 1255.0,2069.8 1256.5,2059.6 1257.2,2060.9 1259.4,2071.1 1259.8,2072.9 1261.6,2055.8 1262.0,2050.7 1263.8,2105.9 1264.2,2117.1 1266.0,2169.6 1266.5,2183.5 1268.2,2159.9 1269.8,2139.2 1270.4,2135.0 1272.6,2114.6 1274.2,2099.4 1274.8,2110.4 1277.0,2152.3 1277.5,2161.4 1279.2,2178.8 1279.7,2183.5 1281.4,2193.3 1283.1,2205.6 1283.6,2207.4 1285.8,2215.9 1286.4,2216.7 1288.0,2237.1 1288.6,2245.4 1290.2,2224.7 1290.8,2216.7 1292.4,2221.2 1294.1,2227.7 1294.6,2228.4 1296.8,2227.5 1297.4,2227.7 1299.0,2222.6 1300.8,2216.7 1301.2,2213.0 1303.4,2191.0 1304.1,2183.5 1305.6,2138.0 1306.3,2117.1 1307.8,2084.8 1308.5,2070.7 1310.0,2083.0 1311.8,2099.4 1312.2,2101.7 1314.4,2111.9 1315.1,2117.1 1316.6,2133.6 1317.3,2139.2 1318.8,2112.5 1320.7,2079.5 1321.0,2083.5 1323.2,2123.4 1324.0,2139.2 1325.4,2168.8 1326.2,2183.5 1327.6,2187.7 1329.5,2194.5 1329.8,2194.9 1331.7,2205.6 1332.0,2200.1 1333.9,2161.4 1334.2,2158.6 1336.4,2137.0 1337.3,2128.2 1338.6,2119.6 1340.6,2108.3 1340.8,2115.6 1342.8,2183.5 1343.0,2188.4 1345.0,2249.9 1345.2,2253.9 1347.2,2294.1 1347.4,2295.3 1349.6,2326.6 1350.5,2338.4 1351.8,2347.2 1353.4,2358.3 1354.0,2349.2 1356.1,2316.2 1356.2,2313.3 1358.3,2272.0 1358.4,2270.9 1360.6,2263.3 1361.6,2260.9 1362.8,2266.4 1363.8,2272.0 1365.0,2287.9 1367.1,2316.2 1367.2,2314.9 1369.3,2294.1 1369.4,2290.4 1371.6,2236.3 1372.7,2207.8 1373.8,2220.5 1376.0,2249.9 1376.0,2250.9 1378.2,2263.3 1379.3,2272.0 1380.4,2291.2 1382.6,2327.3 1382.6,2326.7 1384.8,2232.4 1385.9,2183.5 1387.0,2141.6 1387.7,2117.1 1389.2,2142.5 1390.4,2161.4 1391.4,2169.4 1393.6,2183.2 1393.7,2183.5 1395.8,2190.0 1397.0,2194.5 1398.0,2183.3 1400.2,2160.9 1400.3,2161.4 1402.4,2147.9 1403.6,2139.2 1404.6,2154.1 1406.8,2182.7 1406.9,2183.5 1409.0,2253.3 1410.3,2294.1 1411.2,2303.7 1413.4,2326.8 1413.6,2327.3 1415.6,2319.0 1416.9,2311.8 1417.8,2318.2 1420.0,2337.2 1420.2,2338.4 1422.2,2346.3 1423.1,2349.4 1424.4,2321.2 1425.8,2294.1 1426.6,2303.0 1428.0,2316.2 1428.8,2358.7 1429.7,2404.7 1431.0,2392.8 1432.4,2382.6 1433.2,2373.6 1435.4,2351.2 1435.7,2349.4 1437.6,2343.6 1439.0,2338.4 1439.8,2334.5 1442.0,2319.1 1442.3,2316.2 1444.2,2303.6 1445.7,2294.1 1446.4,2290.9 1448.6,2282.9 1449.0,2283.0 1450.8,2252.6 1452.3,2227.7 1453.0,2217.7 1455.2,2184.5 1456.3,2170.2 1457.4,2203.4 1458.9,2249.9 1459.6,2252.0 1461.2,2260.9 1461.8,2251.3 1464.0,2222.9 1464.5,2216.7 1466.2,2209.4 1467.8,2205.6 1468.4,2202.3 1470.6,2192.6 1472.2,2183.5 1472.8,2188.9 1475.0,2201.9 1475.5,2205.6 1477.2,2217.7 1478.8,2227.7 1479.4,2230.4 1481.6,2241.0 1483.3,2249.9 1483.8,2250.0 1486.0,2260.0 1486.6,2260.9 1488.2,2265.7 1489.9,2272.0 1490.4,2276.4 1492.6,2289.0 1493.2,2294.1 1494.8,2310.9 1496.5,2331.7 1497.0,2326.6 1499.2,2301.8 1499.9,2294.1 1501.4,2273.8 1503.2,2249.9 1503.6,2246.9 1505.8,2231.5 1506.5,2227.7 1508.0,2299.3 1508.7,2333.9 1510.2,2310.4 1512.0,2283.0 1512.4,2281.3 1514.6,2266.3 1516.0,2256.5 1516.8,2268.3 1518.7,2294.1 1519.0,2294.8 1521.2,2301.7 1522.0,2305.2 1523.4,2309.4 1525.3,2316.2 1525.6,2317.1 1527.8,2311.8 1528.6,2311.8 1530.0,2303.1 1531.9,2294.1 1532.2,2304.4 1534.2,2378.2 1534.4,2359.3 1536.4,2161.4 1536.6,2161.7 1538.6,2154.7 1538.8,2160.8 1540.8,2205.6 1541.0,2209.1 1543.2,2228.7 1544.1,2238.8"/>
</g>
<clipPath id="clipd"><rect x="107.0" y="1925.8" width="1438.3" height="508.5"/></clipPath>
<g><path d="M108.0 1928.8H1544.3" stroke="#1a1a1a" stroke-width="2.3" fill="none"/><path d="M108.0 2431.3H1544.3" stroke="#1a1a1a" stroke-width="2.3" fill="none"/><path d="M108.0 1928.8V2431.3" stroke="#1a1a1a" stroke-width="2.3" fill="none" stroke-linecap="square"/><path d="M1544.3 1927.8V2432.3" stroke="#D98A5A" stroke-width="1.6" fill="none"/><path d="M251.6 1928.8v14.5M251.6 2431.3v-14.5" stroke="#1a1a1a" stroke-width="2.3"/><path d="M395.3 1928.8v14.5M395.3 2431.3v-14.5" stroke="#1a1a1a" stroke-width="2.3"/><path d="M538.9 1928.8v14.5M538.9 2431.3v-14.5" stroke="#1a1a1a" stroke-width="2.3"/><path d="M682.5 1928.8v14.5M682.5 2431.3v-14.5" stroke="#1a1a1a" stroke-width="2.3"/><path d="M826.1 1928.8v14.5M826.1 2431.3v-14.5" stroke="#1a1a1a" stroke-width="2.3"/><path d="M969.8 1928.8v14.5M969.8 2431.3v-14.5" stroke="#1a1a1a" stroke-width="2.3"/><path d="M1113.4 1928.8v14.5M1113.4 2431.3v-14.5" stroke="#1a1a1a" stroke-width="2.3"/><path d="M1257.0 1928.8v14.5M1257.0 2431.3v-14.5" stroke="#1a1a1a" stroke-width="2.3"/><path d="M1400.7 1928.8v14.5M1400.7 2431.3v-14.5" stroke="#1a1a1a" stroke-width="2.3"/><path d="M108.0 2403.4h14.5M1544.3 2403.4h-14.5" stroke="#1a1a1a" stroke-width="2.3"/><path d="M108.0 2347.6h14.5M1544.3 2347.6h-14.5" stroke="#1a1a1a" stroke-width="2.3"/><path d="M108.0 2291.7h14.5M1544.3 2291.7h-14.5" stroke="#1a1a1a" stroke-width="2.3"/><path d="M108.0 2235.9h14.5M1544.3 2235.9h-14.5" stroke="#1a1a1a" stroke-width="2.3"/><path d="M108.0 2180.1h14.5M1544.3 2180.1h-14.5" stroke="#1a1a1a" stroke-width="2.3"/><path d="M108.0 2124.2h14.5M1544.3 2124.2h-14.5" stroke="#1a1a1a" stroke-width="2.3"/><path d="M108.0 2068.4h14.5M1544.3 2068.4h-14.5" stroke="#1a1a1a" stroke-width="2.3"/><path d="M108.0 2012.5h14.5M1544.3 2012.5h-14.5" stroke="#1a1a1a" stroke-width="2.3"/><path d="M108.0 1956.7h14.5M1544.3 1956.7h-14.5" stroke="#1a1a1a" stroke-width="2.3"/><path d="M1544.3 1928.8h-14.5" stroke="#DD7A45" stroke-width="1.8"/><path d="M1544.3 2054.4h-14.5" stroke="#DD7A45" stroke-width="1.8"/><path d="M1544.3 2180.1h-14.5" stroke="#DD7A45" stroke-width="1.8"/><path d="M1544.3 2305.7h-14.5" stroke="#DD7A45" stroke-width="1.8"/><path d="M1544.3 2431.3h-14.5" stroke="#DD7A45" stroke-width="1.8"/></g>
<g font-size="31" fill="#000"><text x="108.0" y="2467.7" text-anchor="middle">2000</text><text x="251.6" y="2467.7" text-anchor="middle">1800</text><text x="395.3" y="2467.7" text-anchor="middle">1600</text><text x="538.9" y="2467.7" text-anchor="middle">1400</text><text x="682.5" y="2467.7" text-anchor="middle">1200</text><text x="826.1" y="2467.7" text-anchor="middle">1000</text><text x="969.8" y="2467.7" text-anchor="middle">800</text><text x="1113.4" y="2467.7" text-anchor="middle">600</text><text x="1257.0" y="2467.7" text-anchor="middle">400</text><text x="1400.7" y="2467.7" text-anchor="middle">200</text><text x="1544.3" y="2467.7" text-anchor="middle">0</text><text x="98.5" y="2412.7" text-anchor="end">30</text><text x="98.5" y="2356.9" text-anchor="end">40</text><text x="98.5" y="2301.0" text-anchor="end">50</text><text x="98.5" y="2245.2" text-anchor="end">60</text><text x="98.5" y="2189.4" text-anchor="end">70</text><text x="98.5" y="2133.5" text-anchor="end">80</text><text x="98.5" y="2077.7" text-anchor="end">90</text><text x="98.5" y="2021.8" text-anchor="end">100</text><text x="98.5" y="1966.0" text-anchor="end">110</text></g>
<g font-size="31" fill="#D95319"><text x="1554.1" y="1938.1">2</text><text x="1554.1" y="2063.7">2.5</text><text x="1554.1" y="2189.4">3</text><text x="1554.1" y="2315.0">3.5</text><text x="1554.1" y="2440.6">4</text></g>
<text x="826.1" y="1912.6" text-anchor="middle" font-size="33.5" font-weight="bold" fill="#000">CESM NPP Arabian Peninsula</text>
<text x="835.5" y="2512.5" text-anchor="middle" font-size="33.5" font-weight="bold" fill="#000">Time (ka)</text>
<text transform="translate(34.8 2309.7) rotate(-90)" font-size="34" fill="#000" textLength="262.3" lengthAdjust="spacing">NPP (gC/m<tspan dy="-16" font-size="24">2</tspan><tspan dy="16">/year)</tspan></text>
<text transform="translate(1634.5 2439.7) rotate(-90)" font-size="34" fill="#D95319" textLength="519.5" lengthAdjust="spacing">Log ODP 721/722 terrigenous dust</text>
<text x="162.0" y="2007.5" font-size="52" font-weight="bold" fill="#000">d)</text>
</svg></body></html>
